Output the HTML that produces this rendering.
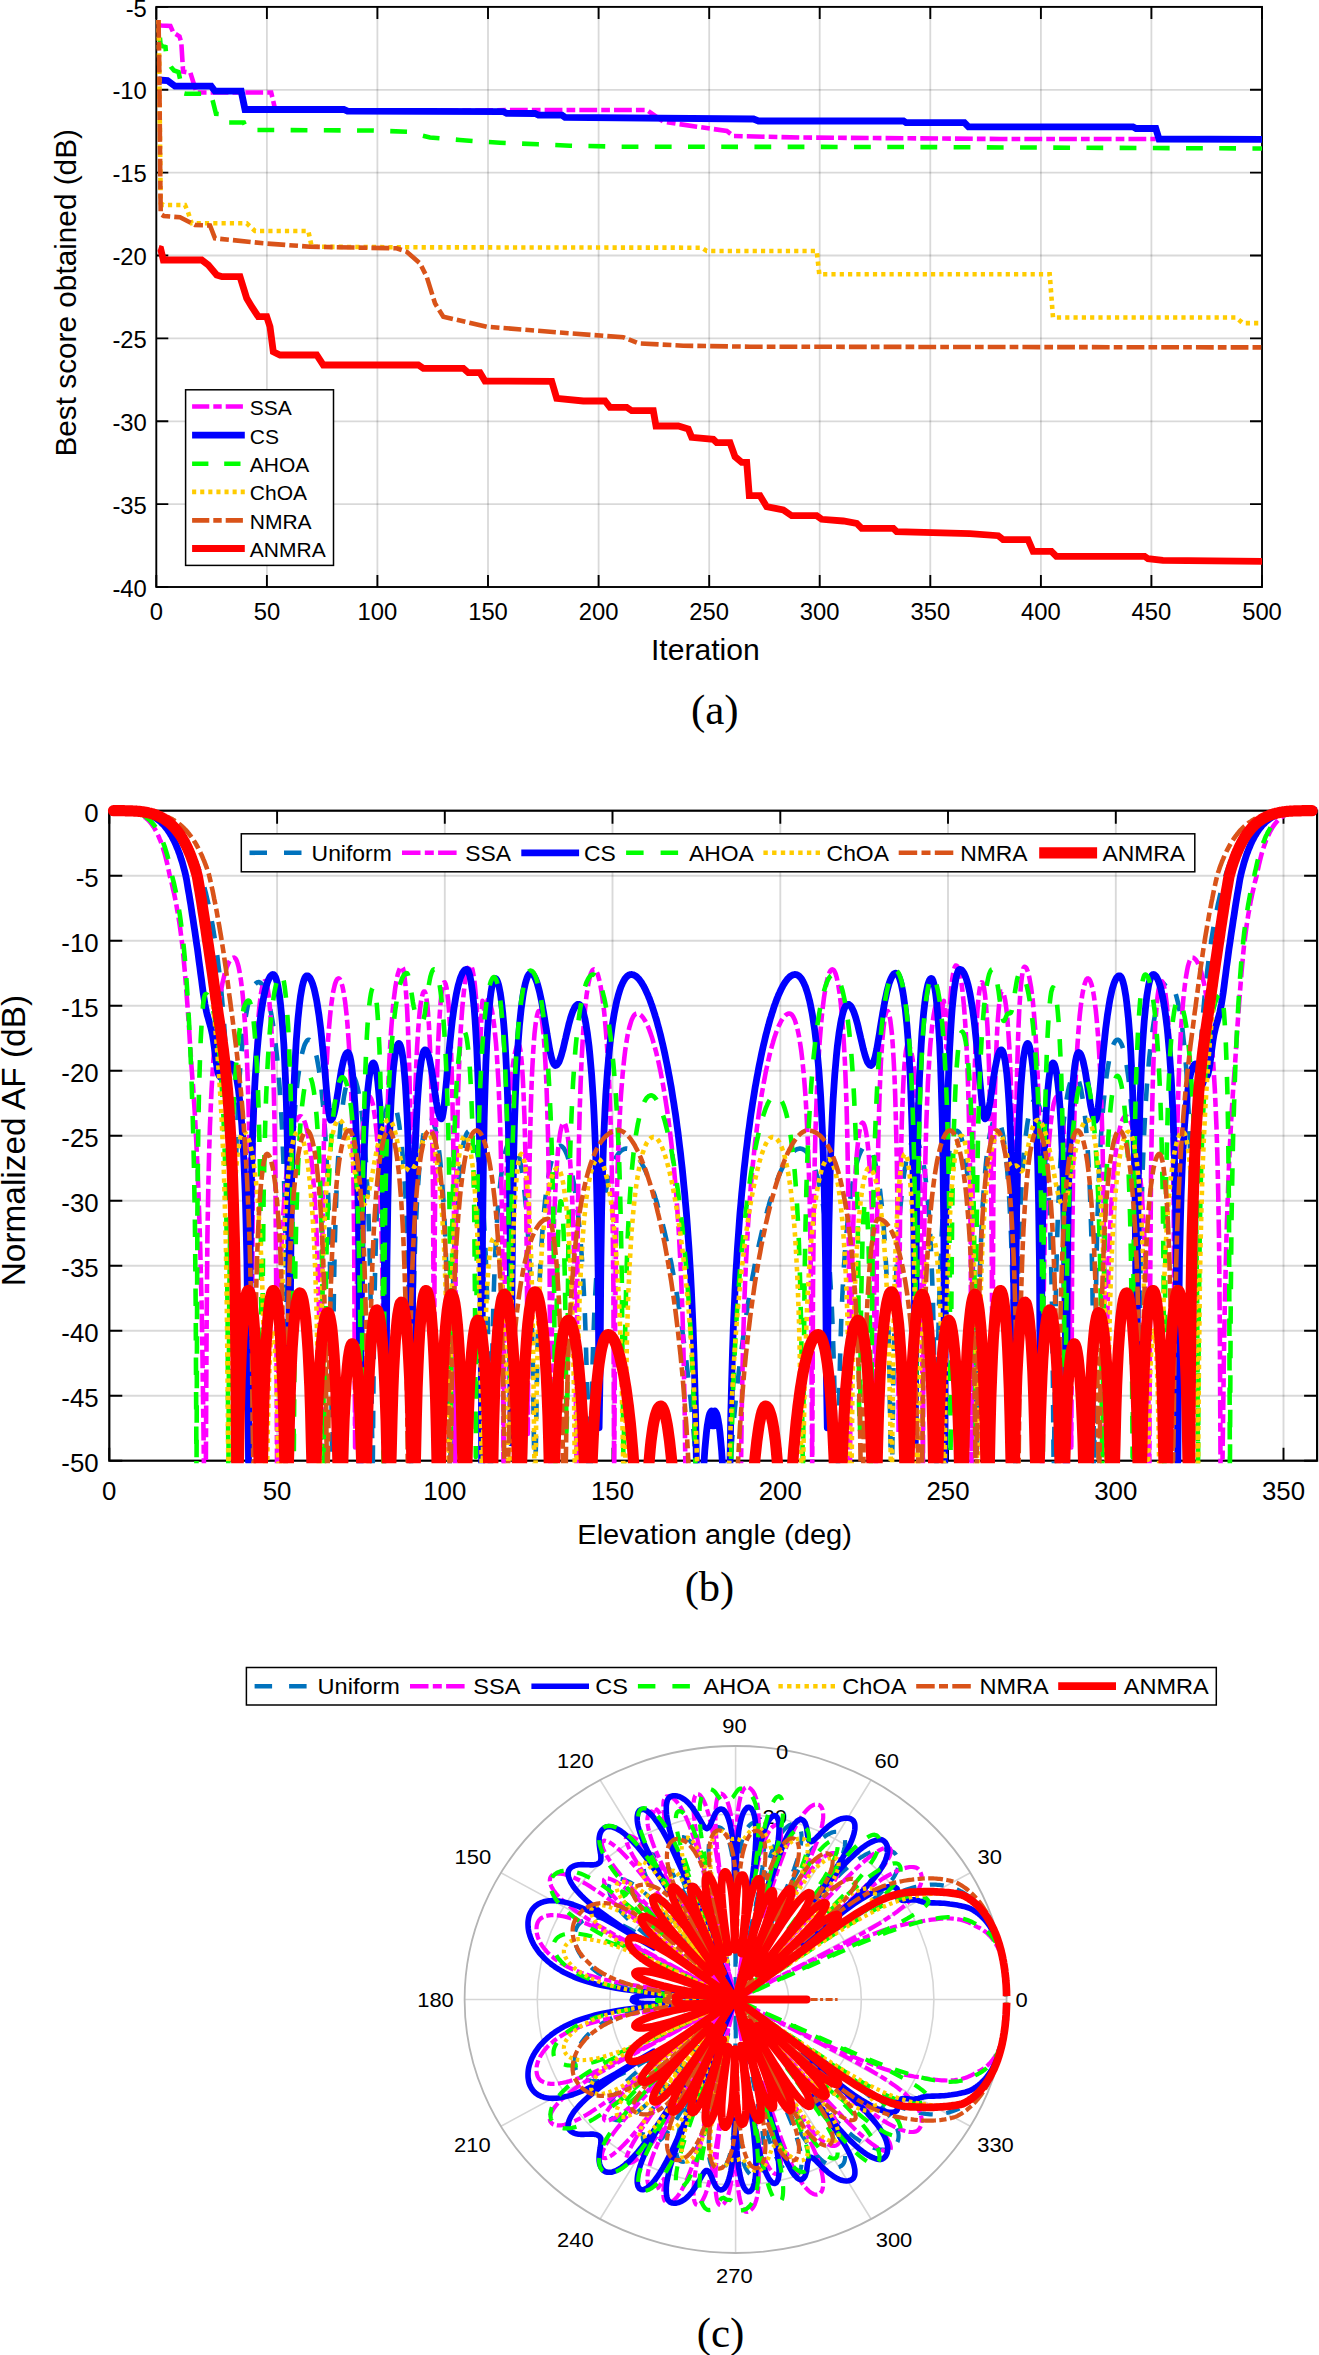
<!DOCTYPE html>
<html lang="en"><head><meta charset="utf-8"><title>Convergence and array factor comparison</title>
<style>html,body{margin:0;padding:0;background:#fff}svg{display:block}text{white-space:pre}</style>
</head><body>
<svg width="1319" height="2355" viewBox="0 0 1319 2355">
<rect width="1319" height="2355" fill="#fff"/>
<g id="panel-a">
<path d="M266.9 6.9V587M377.4 6.9V587M488 6.9V587M598.6 6.9V587M709.2 6.9V587M819.7 6.9V587M930.3 6.9V587M1040.9 6.9V587M1151.4 6.9V587" stroke="#000" stroke-opacity="0.15" stroke-width="1.8" fill="none"/>
<path d="M156.3 89.8H1262M156.3 172.6H1262M156.3 255.5H1262M156.3 338.4H1262M156.3 421.3H1262M156.3 504.1H1262" stroke="#000" stroke-opacity="0.15" stroke-width="1.8" fill="none"/>
<path d="M156.3 587v-12M156.3 6.9v12M266.9 587v-12M266.9 6.9v12M377.4 587v-12M377.4 6.9v12M488 587v-12M488 6.9v12M598.6 587v-12M598.6 6.9v12M709.2 587v-12M709.2 6.9v12M819.7 587v-12M819.7 6.9v12M930.3 587v-12M930.3 6.9v12M1040.9 587v-12M1040.9 6.9v12M1151.4 587v-12M1151.4 6.9v12M1262 587v-12M1262 6.9v12M156.3 6.9h12M1262 6.9h-12M156.3 89.8h12M1262 89.8h-12M156.3 172.6h12M1262 172.6h-12M156.3 255.5h12M1262 255.5h-12M156.3 338.4h12M1262 338.4h-12M156.3 421.3h12M1262 421.3h-12M156.3 504.1h12M1262 504.1h-12M156.3 587h12M1262 587h-12" stroke="#000" stroke-width="1.9" fill="none"/>
<rect x="156.3" y="6.9" width="1105.7" height="580.1" fill="none" stroke="#000" stroke-width="1.9"/>
<g fill="none" stroke-linejoin="miter" stroke-miterlimit="3">
<path d="M158.5 25L161.3 25.5L170.4 26L173.4 32.7L179.5 36.4L181.3 42.5L183.1 71.6L190.4 72.8L193.4 82.5L196.5 92.5L271.2 92.5L275 108.8L300 110.4L470 110.6L520 110L646.8 110L663.5 121.7L696.8 126.7L726.9 131L733.5 136L800 137.5L1000 139L1155.8 139" stroke="#FF00FF" stroke-width="4.6" stroke-dasharray="17.8,4.1,8.7,4.1" stroke-dashoffset="0"/>
<path d="M158.5 80L167.5 80.5L175 86.2L211.2 86.2L215 91.2L241.2 91.2L245 109.5L343.8 109.5L347.5 111.2L503.4 111.7L506.7 113.3L535 113.5L538.4 115L562 115.2L565 117.3L753.5 119L758.5 121L903.5 121L906 122.6L964.4 122.6L968.5 126.8L1133 126.8L1136 128.5L1155.8 128.5L1159 139L1262 139.3" stroke="#0000FF" stroke-width="6.8" stroke-dashoffset="0"/>
<path d="M158.5 22L160.5 44L162 46L165.5 47L166.5 59L171 67L174 70.5L178.5 72L180.5 81L182.5 93L186 93.8L211 93.8L216 113.8L225 114.5L227.5 122.5L243.8 122.5L247 130L258 130L373.8 130.5L407.5 131.8L430 137.5L459.8 140L473 141L500 142.7L538 144.3L570 145.7L620 146.7L900 147L1262 148.5" stroke="#00FF00" stroke-width="4.6" stroke-dasharray="16.8,16.4" stroke-dashoffset="17.5"/>
<path d="M158.5 20L159.2 60L160.2 160L160.7 203L163.5 205L185 205L188 212L191.7 223.3L246.7 223.3L255 231L308.3 231L311.7 246.7L400 247.3L701.7 247.7L706.7 251L816.7 251L819.3 274.3L1049.7 274.2L1053 317.5L1236.1 317.5L1242.8 323.1L1262 323.1" stroke="#FFCC00" stroke-width="4.6" stroke-dasharray="4.2,4.1" stroke-dashoffset="0"/>
<path d="M158.5 20L159.2 60L160.2 170L160.7 214L163.8 216L180 217.3L195 225L210 225.5L215 238.3L263.3 243.3L310 246.7L396.7 248.3L406.7 251.7L420 263.3L426.7 276.7L435 303.3L443.3 316.7L486.7 326.7L569.7 333.3L623.3 337.3L638.3 343.3L683.3 345.7L750 346.7L1262 347.4" stroke="#D95319" stroke-width="4.6" stroke-dasharray="17.8,4.1,8.7,4.1" stroke-dashoffset="0"/>
<path d="M158.5 248.3L160.7 249L163.3 260L201.7 260L208.3 265L216.7 275L222 276.7L240 276.7L246.7 298.3L251.7 306.7L258.3 316.7L266.7 316.7L270 326.7L273.3 351.7L280 355L316.7 355L323.3 365L418.3 365L423.3 368.3L463.3 368.3L468.3 372.7L480 372.7L485 381L551.7 381.3L556.7 398.3L583.3 401L605 401L610 407.3L626.7 407.3L631.7 410.7L653.3 410.7L656 426L678.3 426L688.3 429L691.7 437.3L713.3 439.3L716.7 442.7L730 442.7L735 456.7L741.7 462.3L746.7 462.3L749.3 495.7L760 495.7L766.7 506.7L783.3 510L791.7 515.7L816.7 515.7L821.7 519.3L843.3 521L856.7 523.3L861.7 528.3L893.3 528.3L896.7 531.7L969.9 533.7L998.2 535.7L1003.1 539.7L1028.1 539.7L1033.1 551.3L1051.4 551.3L1056.4 556.3L1144.6 556.3L1148 558.7L1162.9 560.3L1262 561.3" stroke="#FF0000" stroke-width="6.8" stroke-dashoffset="0"/>
</g>
<g font-family='"Liberation Sans", Arial, Helvetica, sans-serif' font-size="23.8" fill="#000">
<text x="156.3" y="619.8" text-anchor="middle">0</text>
<text x="266.9" y="619.8" text-anchor="middle">50</text>
<text x="377.4" y="619.8" text-anchor="middle">100</text>
<text x="488" y="619.8" text-anchor="middle">150</text>
<text x="598.6" y="619.8" text-anchor="middle">200</text>
<text x="709.2" y="619.8" text-anchor="middle">250</text>
<text x="819.7" y="619.8" text-anchor="middle">300</text>
<text x="930.3" y="619.8" text-anchor="middle">350</text>
<text x="1040.9" y="619.8" text-anchor="middle">400</text>
<text x="1151.4" y="619.8" text-anchor="middle">450</text>
<text x="1262" y="619.8" text-anchor="middle">500</text>
<text x="146.8" y="16.5" text-anchor="end">-5</text>
<text x="146.8" y="99.4" text-anchor="end">-10</text>
<text x="146.8" y="182.2" text-anchor="end">-15</text>
<text x="146.8" y="265.1" text-anchor="end">-20</text>
<text x="146.8" y="348" text-anchor="end">-25</text>
<text x="146.8" y="430.9" text-anchor="end">-30</text>
<text x="146.8" y="513.7" text-anchor="end">-35</text>
<text x="146.8" y="596.6" text-anchor="end">-40</text>
</g>
<text x="705.3" y="660" text-anchor="middle" font-family='"Liberation Sans", Arial, Helvetica, sans-serif' font-size="30.1">Iteration</text>
<text transform="translate(76.2 292.8) rotate(-90)" text-anchor="middle" font-family='"Liberation Sans", Arial, Helvetica, sans-serif' font-size="29.75">Best score obtained (dB)</text>
<text x="714.8" y="724.3" text-anchor="middle" font-family='"Liberation Serif", "Times New Roman", serif' font-size="43">(a)</text>
<rect x="185.6" y="389.8" width="147.9" height="175.6" fill="#fff" stroke="#000" stroke-width="1.5"/>
<path d="M192.1 406.5H244.8" stroke="#FF00FF" stroke-width="4.6" fill="none" stroke-dasharray="17.2,4,8.4,4"/>
<text x="249.8" y="414.9" font-family='"Liberation Sans", Arial, Helvetica, sans-serif' font-size="21">SSA</text>
<path d="M192.1 435.2H244.8" stroke="#0000FF" stroke-width="6.8" fill="none"/>
<text x="249.8" y="443.6" font-family='"Liberation Sans", Arial, Helvetica, sans-serif' font-size="21">CS</text>
<path d="M192.1 463.8H244.8" stroke="#00FF00" stroke-width="4.6" fill="none" stroke-dasharray="16.3,15.8"/>
<text x="249.8" y="472.1" font-family='"Liberation Sans", Arial, Helvetica, sans-serif' font-size="21">AHOA</text>
<path d="M192.1 491.9H244.8" stroke="#FFCC00" stroke-width="4.6" fill="none" stroke-dasharray="4.1,4"/>
<text x="249.8" y="500.3" font-family='"Liberation Sans", Arial, Helvetica, sans-serif' font-size="21">ChOA</text>
<path d="M192.1 520.4H244.8" stroke="#D95319" stroke-width="4.6" fill="none" stroke-dasharray="17.2,4,8.4,4"/>
<text x="249.8" y="528.8" font-family='"Liberation Sans", Arial, Helvetica, sans-serif' font-size="21">NMRA</text>
<path d="M192.1 548.5H244.8" stroke="#FF0000" stroke-width="6.8" fill="none"/>
<text x="249.8" y="556.9" font-family='"Liberation Sans", Arial, Helvetica, sans-serif' font-size="21">ANMRA</text>
</g>
<g id="panel-b">
<path d="M277.1 810.7V1460.7M444.8 810.7V1460.7M612.5 810.7V1460.7M780.3 810.7V1460.7M948 810.7V1460.7M1115.8 810.7V1460.7M1283.5 810.7V1460.7" stroke="#000" stroke-opacity="0.15" stroke-width="1.9" fill="none"/>
<path d="M109.3 875.7H1317.1M109.3 940.7H1317.1M109.3 1005.7H1317.1M109.3 1070.7H1317.1M109.3 1135.7H1317.1M109.3 1200.7H1317.1M109.3 1265.7H1317.1M109.3 1330.7H1317.1M109.3 1395.7H1317.1" stroke="#000" stroke-opacity="0.15" stroke-width="1.9" fill="none"/>
<path d="M109.3 1460.7v-13M109.3 810.7v13M277.1 1460.7v-13M277.1 810.7v13M444.8 1460.7v-13M444.8 810.7v13M612.5 1460.7v-13M612.5 810.7v13M780.3 1460.7v-13M780.3 810.7v13M948 1460.7v-13M948 810.7v13M1115.8 1460.7v-13M1115.8 810.7v13M1283.5 1460.7v-13M1283.5 810.7v13M109.3 810.7h13M1317.1 810.7h-13M109.3 875.7h13M1317.1 875.7h-13M109.3 940.7h13M1317.1 940.7h-13M109.3 1005.7h13M1317.1 1005.7h-13M109.3 1070.7h13M1317.1 1070.7h-13M109.3 1135.7h13M1317.1 1135.7h-13M109.3 1200.7h13M1317.1 1200.7h-13M109.3 1265.7h13M1317.1 1265.7h-13M109.3 1330.7h13M1317.1 1330.7h-13M109.3 1395.7h13M1317.1 1395.7h-13M109.3 1460.7h13M1317.1 1460.7h-13" stroke="#000" stroke-width="1.9" fill="none"/>
<rect x="109.3" y="810.7" width="1207.8" height="650" fill="none" stroke="#000" stroke-width="2.2"/>
<clipPath id="clipb"><rect x="102.3" y="803.7" width="1216.3" height="659.5"/></clipPath>
<g fill="none" stroke-linejoin="round" clip-path="url(#clipb)">
<path d="M109.3 810.7L110.1 810.7L111 810.7L111.8 810.7L112.7 810.7L113.5 810.7L114.3 810.7L115.2 810.7L116 810.7L116.8 810.7L117.7 810.7L118.5 810.7L119.4 810.7L120.2 810.7L121 810.7L121.9 810.7L122.7 810.7L123.6 810.7L124.4 810.7L125.2 810.8L126.1 810.8L126.9 810.8L127.8 810.8L128.6 810.8L129.4 810.8L130.3 810.9L131.1 810.9L131.9 810.9L132.8 811L133.6 811L134.5 811L135.3 811.1L136.1 811.1L137 811.2L137.8 811.3L138.7 811.3L139.5 811.4L140.3 811.5L141.2 811.6L142 811.7L142.8 811.8L143.7 811.9L144.5 812L145.4 812.1L146.2 812.3L147 812.4L147.9 812.6L148.7 812.7L149.6 812.9L150.4 813.1L151.2 813.3L152.1 813.5L152.9 813.8L153.8 814L154.6 814.3L155.4 814.5L156.3 814.8L157.1 815.1L157.9 815.4L158.8 815.8L159.6 816.1L160.5 816.5L161.3 816.9L162.1 817.3L163 817.7L163.8 818.2L164.7 818.7L165.5 819.2L166.3 819.7L167.2 820.2L168 820.8L168.9 821.4L169.7 822L170.5 822.7L171.4 823.4L172.2 824.1L173 824.8L173.9 825.6L174.7 826.4L175.6 827.2L176.4 828.1L177.2 829L178.1 829.9L178.9 830.9L179.8 831.9L180.6 833L181.4 834.1L182.3 835.2L183.1 836.4L183.9 837.7L184.8 839L185.6 840.3L186.5 841.7L187.3 843.1L188.1 844.6L189 846.1L189.8 847.7L190.7 849.4L191.5 851.1L192.3 852.9L193.2 854.8L194 856.7L194.9 858.7L195.7 860.8L196.5 862.9L197.4 865.2L198.2 867.5L199 869.9L199.9 872.4L200.7 875L201.6 877.7L202.4 880.5L203.2 883.4L204.1 886.4L204.9 889.6L205.8 892.9L206.6 896.3L207.4 899.8L208.3 903.5L209.1 907.4L209.9 911.4L210.8 915.6L211.6 920L212.5 924.6L213.3 929.5L214.1 934.5L215 939.9L215.8 945.5L216.7 951.4L217.5 957.6L218.3 964.2L219.2 971.2L220 978.7L220.9 986.7L221.7 995.3L222.5 1004.5L223.4 1014.5L224.2 1025.4L225 1037.4L225.9 1050.6L226.7 1065.6L227.6 1082.5L228.4 1102.3L229.2 1125.9L230.1 1155.4L230.9 1194.6L231.8 1254L232.6 1382.3L233.4 1374.2L234.3 1254.3L235.1 1198.5L236 1162.1L236.8 1135.2L237.6 1114.1L238.5 1096.8L239.3 1082.2L240.1 1069.7L241 1058.9L241.8 1049.3L242.7 1040.9L243.5 1033.4L244.3 1026.7L245.2 1020.7L246 1015.3L246.9 1010.4L247.7 1006.1L248.5 1002.2L249.4 998.7L250.2 995.6L251 992.9L251.9 990.5L252.7 988.5L253.6 986.7L254.4 985.3L255.2 984.1L256.1 983.2L256.9 982.6L257.8 982.2L258.6 982.1L259.4 982.3L260.3 982.7L261.1 983.4L262 984.4L262.8 985.6L263.6 987L264.5 988.8L265.3 990.8L266.1 993.1L267 995.7L267.8 998.6L268.7 1001.9L269.5 1005.4L270.3 1009.4L271.2 1013.7L272 1018.4L272.9 1023.5L273.7 1029.2L274.5 1035.3L275.4 1042L276.2 1049.4L277.1 1057.5L277.9 1066.4L278.7 1076.2L279.6 1087.2L280.4 1099.6L281.2 1113.6L282.1 1129.8L282.9 1148.7L283.8 1171.5L284.6 1200.1L285.4 1238.2L286.3 1295.9L287.1 1417.6L288 1427.6L288.8 1301.2L289.6 1243.9L290.5 1206.8L291.3 1179.4L292.1 1158L293 1140.5L293.8 1125.9L294.7 1113.4L295.5 1102.6L296.3 1093.2L297.2 1085L298 1077.8L298.9 1071.4L299.7 1065.8L300.5 1060.8L301.4 1056.5L302.2 1052.8L303.1 1049.6L303.9 1046.8L304.7 1044.6L305.6 1042.8L306.4 1041.4L307.2 1040.4L308.1 1039.8L308.9 1039.7L309.8 1039.9L310.6 1040.5L311.4 1041.5L312.3 1042.9L313.1 1044.7L314 1046.9L314.8 1049.6L315.6 1052.7L316.5 1056.3L317.3 1060.3L318.1 1064.9L319 1070.1L319.8 1075.9L320.7 1082.4L321.5 1089.6L322.3 1097.7L323.2 1106.7L324 1117L324.9 1128.5L325.7 1141.7L326.5 1157L327.4 1175L328.2 1196.7L329.1 1223.8L329.9 1259.6L330.7 1312.4L331.6 1414.3L332.4 1476.3L333.2 1342.5L334.1 1279.4L334.9 1239.8L335.8 1211.2L336.6 1188.9L337.4 1170.9L338.3 1155.9L339.1 1143.2L340 1132.3L340.8 1122.9L341.6 1114.7L342.5 1107.6L343.3 1101.4L344.1 1096L345 1091.3L345.8 1087.4L346.7 1084L347.5 1081.2L348.3 1079L349.2 1077.4L350 1076.2L350.9 1075.5L351.7 1075.3L352.5 1075.6L353.4 1076.3L354.2 1077.6L355.1 1079.3L355.9 1081.5L356.7 1084.3L357.6 1087.6L358.4 1091.5L359.2 1095.9L360.1 1101.1L360.9 1106.9L361.8 1113.5L362.6 1121L363.4 1129.5L364.3 1139.1L365.1 1150.1L366 1162.7L366.8 1177.3L367.6 1194.5L368.5 1215.3L369.3 1241.1L370.2 1274.9L371 1323.7L371.8 1411.6L372.7 1476.3L373.5 1379L374.3 1309L375.2 1266.8L376 1236.7L376.9 1213.6L377.7 1195L378.5 1179.5L379.4 1166.5L380.2 1155.4L381.1 1145.9L381.9 1137.6L382.7 1130.4L383.6 1124.3L384.4 1118.9L385.2 1114.3L386.1 1110.5L386.9 1107.3L387.8 1104.7L388.6 1102.7L389.4 1101.3L390.3 1100.4L391.1 1100L392 1100.2L392.8 1100.9L393.6 1102.1L394.5 1103.9L395.3 1106.2L396.2 1109L397 1112.5L397.8 1116.5L398.7 1121.3L399.5 1126.8L400.3 1133L401.2 1140.1L402 1148.3L402.9 1157.5L403.7 1168.1L404.5 1180.2L405.4 1194.4L406.2 1211L407.1 1231L407.9 1255.8L408.7 1288.1L409.6 1333.8L410.4 1412.2L411.2 1476.3L412.1 1413L412.9 1335.3L413.8 1290.4L414.6 1258.9L415.4 1234.9L416.3 1215.7L417.1 1199.8L418 1186.4L418.8 1175L419.6 1165.2L420.5 1156.8L421.3 1149.4L422.2 1143.1L423 1137.6L423.8 1132.9L424.7 1128.9L425.5 1125.6L426.3 1123L427.2 1120.9L428 1119.4L428.9 1118.4L429.7 1118L430.5 1118.1L431.4 1118.7L432.2 1119.8L433.1 1121.5L433.9 1123.7L434.7 1126.5L435.6 1129.8L436.4 1133.8L437.3 1138.4L438.1 1143.8L438.9 1149.9L439.8 1156.9L440.6 1164.9L441.4 1173.9L442.3 1184.3L443.1 1196.2L444 1209.9L444.8 1226.1L445.6 1245.5L446.5 1269.5L447.3 1300.3L448.2 1343.4L449 1414.2L449.8 1476.3L450.7 1448.4L451.5 1361.3L452.3 1313.3L453.2 1280.2L454 1255.2L454.9 1235.3L455.7 1218.9L456.5 1205.1L457.4 1193.3L458.2 1183.1L459.1 1174.3L459.9 1166.6L460.7 1159.9L461.6 1154.1L462.4 1149.1L463.3 1144.8L464.1 1141.1L464.9 1138.1L465.8 1135.6L466.6 1133.7L467.4 1132.3L468.3 1131.4L469.1 1130.9L470 1131L470.8 1131.6L471.6 1132.6L472.5 1134.1L473.3 1136.1L474.2 1138.6L475 1141.7L475.8 1145.3L476.7 1149.5L477.5 1154.3L478.4 1159.8L479.2 1166L480 1173.1L480.9 1181.1L481.7 1190.1L482.5 1200.4L483.4 1212.1L484.2 1225.7L485.1 1241.6L485.9 1260.4L486.7 1283.5L487.6 1313.1L488.4 1353.5L489.3 1417.5L490.1 1476.3L490.9 1476.3L491.8 1390.1L492.6 1338.1L493.4 1303.2L494.3 1277L495.1 1256.2L496 1239.1L496.8 1224.7L497.6 1212.4L498.5 1201.7L499.3 1192.4L500.2 1184.2L501 1177.1L501.8 1170.7L502.7 1165.2L503.5 1160.3L504.4 1156.1L505.2 1152.4L506 1149.2L506.9 1146.6L507.7 1144.4L508.5 1142.7L509.4 1141.4L510.2 1140.5L511.1 1140.1L511.9 1140L512.7 1140.4L513.6 1141.1L514.4 1142.2L515.3 1143.8L516.1 1145.7L516.9 1148L517.8 1150.8L518.6 1154L519.4 1157.7L520.3 1161.9L521.1 1166.7L522 1172L522.8 1177.9L523.6 1184.5L524.5 1191.9L525.3 1200.1L526.2 1209.4L527 1219.8L527.8 1231.6L528.7 1245.1L529.5 1260.7L530.4 1279.2L531.2 1301.7L532 1330.1L532.9 1368.3L533.7 1426.6L534.5 1476.3L535.4 1476.3L536.2 1424.4L537.1 1367.8L537.9 1330.7L538.7 1303.2L539.6 1281.5L540.4 1263.7L541.3 1248.6L542.1 1235.7L542.9 1224.4L543.8 1214.5L544.6 1205.8L545.4 1198L546.3 1191L547.1 1184.8L548 1179.2L548.8 1174.1L549.6 1169.7L550.5 1165.7L551.3 1162.1L552.2 1158.9L553 1156.2L553.8 1153.8L554.7 1151.7L555.5 1150L556.4 1148.6L557.2 1147.5L558 1146.6L558.9 1146.1L559.7 1145.8L560.5 1145.8L561.4 1146.1L562.2 1146.7L563.1 1147.5L563.9 1148.5L564.7 1149.9L565.6 1151.5L566.4 1153.4L567.3 1155.5L568.1 1158L568.9 1160.7L569.8 1163.8L570.6 1167.1L571.5 1170.8L572.3 1174.9L573.1 1179.3L574 1184.1L574.8 1189.3L575.6 1195L576.5 1201.2L577.3 1208L578.2 1215.3L579 1223.4L579.8 1232.3L580.7 1242.1L581.5 1253.1L582.4 1265.3L583.2 1279.2L584 1295.2L584.9 1314L585.7 1336.6L586.5 1364.9L587.4 1402.8L588.2 1460.1L589.1 1476.3L589.9 1476.3L590.7 1464.3L591.6 1406.5L592.4 1368.8L593.3 1340.9L594.1 1318.8L594.9 1300.6L595.8 1285.2L596.6 1271.8L597.5 1260.2L598.3 1249.8L599.1 1240.5L600 1232.2L600.8 1224.6L601.6 1217.7L602.5 1211.4L603.3 1205.6L604.2 1200.3L605 1195.4L605.8 1190.9L606.7 1186.7L607.5 1182.8L608.4 1179.3L609.2 1176L610 1173L610.9 1170.2L611.7 1167.6L612.5 1165.2L613.4 1163.1L614.2 1161.1L615.1 1159.3L615.9 1157.6L616.7 1156.2L617.6 1154.8L618.4 1153.6L619.3 1152.6L620.1 1151.7L620.9 1150.9L621.8 1150.2L622.6 1149.7L623.5 1149.3L624.3 1148.9L625.1 1148.7L626 1148.6L626.8 1148.6L627.6 1148.7L628.5 1148.9L629.3 1149.2L630.2 1149.6L631 1150.1L631.8 1150.6L632.7 1151.3L633.5 1152L634.4 1152.8L635.2 1153.7L636 1154.7L636.9 1155.8L637.7 1156.9L638.6 1158.1L639.4 1159.4L640.2 1160.8L641.1 1162.2L641.9 1163.7L642.7 1165.3L643.6 1167L644.4 1168.7L645.3 1170.5L646.1 1172.4L646.9 1174.3L647.8 1176.3L648.6 1178.4L649.5 1180.6L650.3 1182.8L651.1 1185.1L652 1187.5L652.8 1189.9L653.6 1192.4L654.5 1195L655.3 1197.7L656.2 1200.4L657 1203.2L657.8 1206.1L658.7 1209L659.5 1212.1L660.4 1215.2L661.2 1218.3L662 1221.6L662.9 1224.9L663.7 1228.4L664.6 1231.9L665.4 1235.5L666.2 1239.1L667.1 1242.9L667.9 1246.8L668.7 1250.7L669.6 1254.7L670.4 1258.9L671.3 1263.1L672.1 1267.5L672.9 1271.9L673.8 1276.5L674.6 1281.1L675.5 1285.9L676.3 1290.9L677.1 1295.9L678 1301.1L678.8 1306.4L679.6 1311.8L680.5 1317.4L681.3 1323.2L682.2 1329.1L683 1335.2L683.8 1341.5L684.7 1347.9L685.5 1354.6L686.4 1361.5L687.2 1368.6L688 1375.9L688.9 1383.5L689.7 1391.4L690.6 1399.6L691.4 1408.1L692.2 1416.9L693.1 1426.1L693.9 1435.7L694.7 1445.7L695.6 1456.1L696.4 1467.1L697.3 1476.3L729.1 1476.3L730 1467.1L730.8 1456.1L731.7 1445.7L732.5 1435.7L733.3 1426.1L734.2 1416.9L735 1408.1L735.8 1399.6L736.7 1391.4L737.5 1383.5L738.4 1375.9L739.2 1368.6L740 1361.5L740.9 1354.6L741.7 1347.9L742.6 1341.5L743.4 1335.2L744.2 1329.1L745.1 1323.2L745.9 1317.4L746.8 1311.8L747.6 1306.4L748.4 1301.1L749.3 1295.9L750.1 1290.9L750.9 1285.9L751.8 1281.1L752.6 1276.5L753.5 1271.9L754.3 1267.5L755.1 1263.1L756 1258.9L756.8 1254.7L757.7 1250.7L758.5 1246.8L759.3 1242.9L760.2 1239.1L761 1235.5L761.8 1231.9L762.7 1228.4L763.5 1224.9L764.4 1221.6L765.2 1218.3L766 1215.2L766.9 1212.1L767.7 1209L768.6 1206.1L769.4 1203.2L770.2 1200.4L771.1 1197.7L771.9 1195L772.8 1192.4L773.6 1189.9L774.4 1187.5L775.3 1185.1L776.1 1182.8L776.9 1180.6L777.8 1178.4L778.6 1176.3L779.5 1174.3L780.3 1172.4L781.1 1170.5L782 1168.7L782.8 1167L783.7 1165.3L784.5 1163.7L785.3 1162.2L786.2 1160.8L787 1159.4L787.8 1158.1L788.7 1156.9L789.5 1155.8L790.4 1154.7L791.2 1153.7L792 1152.8L792.9 1152L793.7 1151.3L794.6 1150.6L795.4 1150.1L796.2 1149.6L797.1 1149.2L797.9 1148.9L798.8 1148.7L799.6 1148.6L800.4 1148.6L801.3 1148.7L802.1 1148.9L802.9 1149.3L803.8 1149.7L804.6 1150.2L805.5 1150.9L806.3 1151.7L807.1 1152.6L808 1153.6L808.8 1154.8L809.7 1156.2L810.5 1157.6L811.3 1159.3L812.2 1161.1L813 1163.1L813.8 1165.2L814.7 1167.6L815.5 1170.2L816.4 1173L817.2 1176L818 1179.3L818.9 1182.8L819.7 1186.7L820.6 1190.9L821.4 1195.4L822.2 1200.3L823.1 1205.6L823.9 1211.4L824.8 1217.7L825.6 1224.6L826.4 1232.2L827.3 1240.5L828.1 1249.8L828.9 1260.2L829.8 1271.8L830.6 1285.2L831.5 1300.6L832.3 1318.8L833.1 1340.9L834 1368.8L834.8 1406.5L835.7 1464.3L836.5 1476.3L837.3 1476.3L838.2 1460.1L839 1402.8L839.9 1364.9L840.7 1336.6L841.5 1314L842.4 1295.2L843.2 1279.2L844 1265.3L844.9 1253.1L845.7 1242.1L846.6 1232.3L847.4 1223.4L848.2 1215.3L849.1 1208L849.9 1201.2L850.8 1195L851.6 1189.3L852.4 1184.1L853.3 1179.3L854.1 1174.9L854.9 1170.8L855.8 1167.1L856.6 1163.8L857.5 1160.7L858.3 1158L859.1 1155.5L860 1153.4L860.8 1151.5L861.7 1149.9L862.5 1148.5L863.3 1147.5L864.2 1146.7L865 1146.1L865.9 1145.8L866.7 1145.8L867.5 1146.1L868.4 1146.6L869.2 1147.5L870 1148.6L870.9 1150L871.7 1151.7L872.6 1153.8L873.4 1156.2L874.2 1158.9L875.1 1162.1L875.9 1165.7L876.8 1169.7L877.6 1174.1L878.4 1179.2L879.3 1184.8L880.1 1191L880.9 1198L881.8 1205.8L882.6 1214.5L883.5 1224.4L884.3 1235.7L885.1 1248.6L886 1263.7L886.8 1281.5L887.7 1303.2L888.5 1330.7L889.3 1367.8L890.2 1424.4L891 1476.3L891.9 1476.3L892.7 1426.6L893.5 1368.3L894.4 1330.1L895.2 1301.7L896 1279.2L896.9 1260.7L897.7 1245.1L898.6 1231.6L899.4 1219.8L900.2 1209.4L901.1 1200.1L901.9 1191.9L902.8 1184.5L903.6 1177.9L904.4 1172L905.3 1166.7L906.1 1161.9L907 1157.7L907.8 1154L908.6 1150.8L909.5 1148L910.3 1145.7L911.1 1143.8L912 1142.2L912.8 1141.1L913.7 1140.4L914.5 1140L915.3 1140.1L916.2 1140.5L917 1141.4L917.9 1142.7L918.7 1144.4L919.5 1146.6L920.4 1149.2L921.2 1152.4L922 1156.1L922.9 1160.3L923.7 1165.2L924.6 1170.7L925.4 1177.1L926.2 1184.2L927.1 1192.4L927.9 1201.7L928.8 1212.4L929.6 1224.7L930.4 1239.1L931.3 1256.2L932.1 1277L933 1303.2L933.8 1338.1L934.6 1390.1L935.5 1476.3L936.3 1476.3L937.1 1417.5L938 1353.5L938.8 1313.1L939.7 1283.5L940.5 1260.4L941.3 1241.6L942.2 1225.7L943 1212.1L943.9 1200.4L944.7 1190.1L945.5 1181.1L946.4 1173.1L947.2 1166L948 1159.8L948.9 1154.3L949.7 1149.5L950.6 1145.3L951.4 1141.7L952.2 1138.6L953.1 1136.1L953.9 1134.1L954.8 1132.6L955.6 1131.6L956.4 1131L957.3 1130.9L958.1 1131.4L959 1132.3L959.8 1133.7L960.6 1135.6L961.5 1138.1L962.3 1141.1L963.1 1144.8L964 1149.1L964.8 1154.1L965.7 1159.9L966.5 1166.6L967.3 1174.3L968.2 1183.1L969 1193.3L969.9 1205.1L970.7 1218.9L971.5 1235.3L972.4 1255.2L973.2 1280.2L974.1 1313.3L974.9 1361.3L975.7 1448.4L976.6 1476.3L977.4 1414.2L978.2 1343.4L979.1 1300.3L979.9 1269.5L980.8 1245.5L981.6 1226.1L982.4 1209.9L983.3 1196.2L984.1 1184.3L985 1173.9L985.8 1164.9L986.6 1156.9L987.5 1149.9L988.3 1143.8L989.1 1138.4L990 1133.8L990.8 1129.8L991.7 1126.5L992.5 1123.7L993.3 1121.5L994.2 1119.8L995 1118.7L995.9 1118.1L996.7 1118L997.5 1118.4L998.4 1119.4L999.2 1120.9L1000.1 1123L1000.9 1125.6L1001.7 1128.9L1002.6 1132.9L1003.4 1137.6L1004.2 1143.1L1005.1 1149.4L1005.9 1156.8L1006.8 1165.2L1007.6 1175L1008.4 1186.4L1009.3 1199.8L1010.1 1215.7L1011 1234.9L1011.8 1258.9L1012.6 1290.4L1013.5 1335.3L1014.3 1413L1015.1 1476.3L1016 1412.2L1016.8 1333.8L1017.7 1288.1L1018.5 1255.8L1019.3 1231L1020.2 1211L1021 1194.4L1021.9 1180.2L1022.7 1168.1L1023.5 1157.5L1024.4 1148.3L1025.2 1140.1L1026.1 1133L1026.9 1126.8L1027.7 1121.3L1028.6 1116.5L1029.4 1112.5L1030.2 1109L1031.1 1106.2L1031.9 1103.9L1032.8 1102.1L1033.6 1100.9L1034.4 1100.2L1035.3 1100L1036.1 1100.4L1037 1101.3L1037.8 1102.7L1038.6 1104.7L1039.5 1107.3L1040.3 1110.5L1041.2 1114.3L1042 1118.9L1042.8 1124.3L1043.7 1130.4L1044.5 1137.6L1045.3 1145.9L1046.2 1155.4L1047 1166.5L1047.9 1179.5L1048.7 1195L1049.5 1213.6L1050.4 1236.7L1051.2 1266.8L1052.1 1309L1052.9 1379L1053.7 1476.3L1054.6 1411.6L1055.4 1323.7L1056.2 1274.9L1057.1 1241.1L1057.9 1215.3L1058.8 1194.5L1059.6 1177.3L1060.4 1162.7L1061.3 1150.1L1062.1 1139.1L1063 1129.5L1063.8 1121L1064.6 1113.5L1065.5 1106.9L1066.3 1101.1L1067.2 1095.9L1068 1091.5L1068.8 1087.6L1069.7 1084.3L1070.5 1081.5L1071.3 1079.3L1072.2 1077.6L1073 1076.3L1073.9 1075.6L1074.7 1075.3L1075.5 1075.5L1076.4 1076.2L1077.2 1077.4L1078.1 1079L1078.9 1081.2L1079.7 1084L1080.6 1087.4L1081.4 1091.3L1082.2 1096L1083.1 1101.4L1083.9 1107.6L1084.8 1114.7L1085.6 1122.9L1086.4 1132.3L1087.3 1143.2L1088.1 1155.9L1089 1170.9L1089.8 1188.9L1090.6 1211.2L1091.5 1239.8L1092.3 1279.4L1093.2 1342.5L1094 1476.3L1094.8 1414.3L1095.7 1312.4L1096.5 1259.6L1097.3 1223.8L1098.2 1196.7L1099 1175L1099.9 1157L1100.7 1141.7L1101.5 1128.5L1102.4 1117L1103.2 1106.7L1104.1 1097.7L1104.9 1089.6L1105.7 1082.4L1106.6 1075.9L1107.4 1070.1L1108.3 1064.9L1109.1 1060.3L1109.9 1056.3L1110.8 1052.7L1111.6 1049.6L1112.4 1046.9L1113.3 1044.7L1114.1 1042.9L1115 1041.5L1115.8 1040.5L1116.6 1039.9L1117.5 1039.7L1118.3 1039.8L1119.2 1040.4L1120 1041.4L1120.8 1042.8L1121.7 1044.6L1122.5 1046.8L1123.3 1049.6L1124.2 1052.8L1125 1056.5L1125.9 1060.8L1126.7 1065.8L1127.5 1071.4L1128.4 1077.8L1129.2 1085L1130.1 1093.2L1130.9 1102.6L1131.7 1113.4L1132.6 1125.9L1133.4 1140.5L1134.3 1158L1135.1 1179.4L1135.9 1206.8L1136.8 1243.9L1137.6 1301.2L1138.4 1427.6L1139.3 1417.6L1140.1 1295.9L1141 1238.2L1141.8 1200.1L1142.6 1171.5L1143.5 1148.7L1144.3 1129.8L1145.2 1113.6L1146 1099.6L1146.8 1087.2L1147.7 1076.2L1148.5 1066.4L1149.3 1057.5L1150.2 1049.4L1151 1042L1151.9 1035.3L1152.7 1029.2L1153.5 1023.5L1154.4 1018.4L1155.2 1013.7L1156.1 1009.4L1156.9 1005.4L1157.7 1001.9L1158.6 998.6L1159.4 995.7L1160.3 993.1L1161.1 990.8L1161.9 988.8L1162.8 987L1163.6 985.6L1164.4 984.4L1165.3 983.4L1166.1 982.7L1167 982.3L1167.8 982.1L1168.6 982.2L1169.5 982.6L1170.3 983.2L1171.2 984.1L1172 985.3L1172.8 986.7L1173.7 988.5L1174.5 990.5L1175.4 992.9L1176.2 995.6L1177 998.7L1177.9 1002.2L1178.7 1006.1L1179.5 1010.4L1180.4 1015.3L1181.2 1020.7L1182.1 1026.7L1182.9 1033.4L1183.7 1040.9L1184.6 1049.3L1185.4 1058.9L1186.3 1069.7L1187.1 1082.2L1187.9 1096.8L1188.8 1114.1L1189.6 1135.2L1190.4 1162.1L1191.3 1198.5L1192.1 1254.3L1193 1374.2L1193.8 1382.3L1194.6 1254L1195.5 1194.6L1196.3 1155.4L1197.2 1125.9L1198 1102.3L1198.8 1082.5L1199.7 1065.6L1200.5 1050.6L1201.4 1037.4L1202.2 1025.4L1203 1014.5L1203.9 1004.5L1204.7 995.3L1205.5 986.7L1206.4 978.7L1207.2 971.2L1208.1 964.2L1208.9 957.6L1209.7 951.4L1210.6 945.5L1211.4 939.9L1212.3 934.5L1213.1 929.5L1213.9 924.6L1214.8 920L1215.6 915.6L1216.5 911.4L1217.3 907.4L1218.1 903.5L1219 899.8L1219.8 896.3L1220.6 892.9L1221.5 889.6L1222.3 886.4L1223.2 883.4L1224 880.5L1224.8 877.7L1225.7 875L1226.5 872.4L1227.4 869.9L1228.2 867.5L1229 865.2L1229.9 862.9L1230.7 860.8L1231.5 858.7L1232.4 856.7L1233.2 854.8L1234.1 852.9L1234.9 851.1L1235.7 849.4L1236.6 847.7L1237.4 846.1L1238.3 844.6L1239.1 843.1L1239.9 841.7L1240.8 840.3L1241.6 839L1242.5 837.7L1243.3 836.4L1244.1 835.2L1245 834.1L1245.8 833L1246.6 831.9L1247.5 830.9L1248.3 829.9L1249.2 829L1250 828.1L1250.8 827.2L1251.7 826.4L1252.5 825.6L1253.4 824.8L1254.2 824.1L1255 823.4L1255.9 822.7L1256.7 822L1257.5 821.4L1258.4 820.8L1259.2 820.2L1260.1 819.7L1260.9 819.2L1261.7 818.7L1262.6 818.2L1263.4 817.7L1264.3 817.3L1265.1 816.9L1265.9 816.5L1266.8 816.1L1267.6 815.8L1268.5 815.4L1269.3 815.1L1270.1 814.8L1271 814.5L1271.8 814.3L1272.6 814L1273.5 813.8L1274.3 813.5L1275.2 813.3L1276 813.1L1276.8 812.9L1277.7 812.7L1278.5 812.6L1279.4 812.4L1280.2 812.3L1281 812.1L1281.9 812L1282.7 811.9L1283.5 811.8L1284.4 811.7L1285.2 811.6L1286.1 811.5L1286.9 811.4L1287.7 811.3L1288.6 811.3L1289.4 811.2L1290.3 811.1L1291.1 811.1L1291.9 811L1292.8 811L1293.6 811L1294.5 810.9L1295.3 810.9L1296.1 810.9L1297 810.8L1297.8 810.8L1298.6 810.8L1299.5 810.8L1300.3 810.8L1301.2 810.8L1302 810.7L1302.8 810.7L1303.7 810.7L1304.5 810.7L1305.4 810.7L1306.2 810.7L1307 810.7L1307.9 810.7L1308.7 810.7L1309.6 810.7L1310.4 810.7L1311.2 810.7L1312.1 810.7L1312.9 810.7L1313.7 810.7L1314.6 810.7L1315.4 810.7L1316.3 810.7L1317.1 810.7" stroke="#0072BD" stroke-width="4.6" stroke-dasharray="17.5,17"/>
<path d="M109.3 810.7L110.1 810.7L111 810.7L111.8 810.7L112.7 810.7L113.5 810.7L114.3 810.7L115.2 810.7L116 810.7L116.8 810.7L117.7 810.7L118.5 810.7L119.4 810.7L120.2 810.8L121 810.8L121.9 810.8L122.7 810.8L123.6 810.9L124.4 810.9L125.2 811L126.1 811L126.9 811.1L127.8 811.2L128.6 811.3L129.4 811.4L130.3 811.5L131.1 811.6L131.9 811.8L132.8 811.9L133.6 812.1L134.5 812.3L135.3 812.5L136.1 812.8L137 813.1L137.8 813.4L138.7 813.7L139.5 814.1L140.3 814.5L141.2 814.9L142 815.4L142.8 815.9L143.7 816.4L144.5 817L145.4 817.6L146.2 818.3L147 819.1L147.9 819.9L148.7 820.7L149.6 821.6L150.4 822.6L151.2 823.6L152.1 824.7L152.9 825.9L153.8 827.2L154.6 828.6L155.4 830L156.3 831.5L157.1 833.2L157.9 834.9L158.8 836.8L159.6 838.8L160.5 840.9L161.3 843.1L162.1 845.5L163 848L163.8 850.8L164.7 853.6L165.5 856.7L166.3 860L167.2 863.6L168 867.3L168.9 871.4L169.7 875.7L170.5 878.7L171.4 881.9L172.2 885.3L173 888.9L173.9 892.6L174.7 896.5L175.6 900.7L176.4 905.1L177.2 909.8L178.1 914.7L178.9 920L179.8 925.6L180.6 931.6L181.4 938L182.3 945L183.1 952.9L183.9 961.7L184.8 971.3L185.6 981.6L186.5 992.5L187.3 1003.5L188.1 1014.8L189 1027.3L189.8 1040.6L190.7 1053.9L191.5 1066.3L192.3 1077.1L193.2 1088.5L194 1101L194.9 1114.7L195.7 1129.8L196.5 1146.4L197.4 1165L198.2 1185.7L199 1209.2L199.9 1236.2L200.7 1267.6L201.6 1305L202.4 1350.9L203.2 1410.1L204.1 1476.3L205.8 1476.3L206.6 1328.7L207.4 1237.2L208.3 1187.5L209.1 1153.3L209.9 1127.3L210.8 1106.4L211.6 1088.9L212.5 1074L213.3 1061.1L214.1 1049.7L215 1039.6L215.8 1030.6L216.7 1022.4L217.5 1015L218.3 1008.3L219.2 1002.3L220 996.7L220.9 991.7L221.7 987.1L222.5 982.9L223.4 979.2L224.2 975.7L225 972.6L225.9 969.9L226.7 967.4L227.6 965.3L228.4 963.4L229.2 961.8L230.1 960.5L230.9 959.4L231.8 958.6L232.6 958L233.4 957.7L234.3 957.6L235.1 958.1L236 959.2L236.8 960.9L237.6 963.4L238.5 966.5L239.3 970.5L240.1 975.2L241 980.8L241.8 987.4L242.7 995.1L243.5 1004L244.3 1014.4L245.2 1026.6L246 1040.9L246.9 1058.2L247.7 1079.3L248.5 1106.1L249.4 1142.1L250.2 1196.5L251 1307L251.9 1346.6L252.7 1205.4L253.6 1145.3L254.4 1107L255.2 1079.3L256.1 1058L256.9 1041L257.8 1027.2L258.6 1015.9L259.4 1006.6L260.3 999L261.1 992.9L262 988.2L262.8 984.7L263.6 982.4L264.5 981.2L265.3 981.1L266.1 982.4L267 985.1L267.8 989.4L268.7 995.4L269.5 1003.1L270.3 1013L271.2 1025.4L272 1041L272.9 1060.7L273.7 1086.5L274.5 1121.7L275.4 1175.5L276.2 1285.8L277.1 1476.3L277.9 1405.2L278.7 1344.5L279.6 1305.6L280.4 1276.9L281.2 1254.3L282.1 1235.8L282.9 1220.2L283.8 1206.9L284.6 1195.2L285.4 1184.9L286.3 1175.9L287.1 1167.8L288 1160.6L288.8 1154.1L289.6 1148.3L290.5 1143.1L291.3 1138.5L292.1 1134.4L293 1130.8L293.8 1127.6L294.7 1124.9L295.5 1122.5L296.3 1120.6L297.2 1119L298 1117.8L298.9 1116.9L299.7 1116.4L300.5 1116.2L301.4 1116.4L302.2 1117.1L303.1 1118.3L303.9 1119.9L304.7 1122L305.6 1124.6L306.4 1127.7L307.2 1131.4L308.1 1135.6L308.9 1140.5L309.8 1146.2L310.6 1152.5L311.4 1159.8L312.3 1168L313.1 1177.4L314 1188.1L314.8 1200.5L315.6 1214.8L316.5 1231.8L317.3 1252.4L318.1 1278.1L319 1312.1L319.8 1361.6L320.7 1453L321.5 1449.6L322.3 1247.5L323.2 1179.4L324 1137.7L324.9 1107.8L325.7 1084.8L326.5 1066.2L327.4 1050.9L328.2 1037.9L329.1 1026.9L329.9 1017.5L330.7 1009.5L331.6 1002.6L332.4 996.7L333.2 991.8L334.1 987.7L334.9 984.4L335.8 981.9L336.6 980L337.4 978.9L338.3 978.4L339.1 978.6L340 979.5L340.8 981.2L341.6 983.5L342.5 986.6L343.3 990.5L344.1 995.3L345 1001.1L345.8 1007.8L346.7 1015.8L347.5 1025.1L348.3 1036L349.2 1048.9L350 1064.2L350.9 1082.7L351.7 1105.7L352.5 1135.5L353.4 1177.2L354.2 1245.3L355.1 1447.4L355.9 1389.6L356.7 1298.5L357.6 1249.3L358.4 1215.9L359.2 1191L360.1 1171.4L360.9 1155.5L361.8 1142.5L362.6 1131.8L363.4 1122.8L364.3 1115.5L365.1 1109.5L366 1104.8L366.8 1101.2L367.6 1098.7L368.5 1097.2L369.3 1096.7L370.2 1097.1L371 1098.4L371.8 1100.6L372.7 1103.7L373.5 1107.8L374.3 1112.9L375.2 1119.2L376 1126.8L376.9 1135.8L377.7 1146.6L378.5 1159.5L379.4 1175L380.2 1194L381.1 1217.8L381.9 1249.3L382.7 1294.4L383.6 1372.2L384.4 1476.3L385.2 1258.5L386.1 1180.6L386.9 1135.3L387.8 1103.6L388.6 1079.4L389.4 1060L390.3 1044L391.1 1030.6L392 1019.1L392.8 1009.4L393.6 1000.9L394.5 993.7L395.3 987.5L396.2 982.3L397 977.9L397.8 974.3L398.7 971.4L399.5 969.2L400.3 967.7L401.2 966.9L402 966.7L402.9 968.1L403.7 971.4L404.5 976.9L405.4 984.7L406.2 995.2L407.1 1008.9L407.9 1026.7L408.7 1050.2L409.6 1082.6L410.4 1131L411.2 1221.7L412.1 1426.4L412.9 1224.4L413.8 1156.7L414.6 1115.5L415.4 1086.4L416.3 1064.3L417.1 1046.9L418 1033L418.8 1021.7L419.6 1012.6L420.5 1005.4L421.3 999.9L422.2 995.8L423 993L423.8 991.6L424.7 991.6L425.5 993.4L426.3 997.5L427.2 1003.8L428 1012.8L428.9 1024.7L429.7 1040.5L430.5 1061.3L431.4 1089.4L432.2 1129.8L433.1 1197.1L433.9 1398.9L434.7 1241L435.6 1150.2L436.4 1101.7L437.3 1069.2L438.1 1045.5L438.9 1027.5L439.8 1013.5L440.6 1002.7L441.4 994.5L442.3 988.5L443.1 984.6L444 982.6L444.8 982.4L445.6 984.1L446.5 987.6L447.3 993.1L448.2 1000.8L449 1011.1L449.8 1024.4L450.7 1041.5L451.5 1063.9L452.3 1094.3L453.2 1138.5L454 1215.9L454.9 1476.3L455.7 1243.4L456.5 1165.5L457.4 1120.4L458.2 1088.9L459.1 1065L459.9 1045.9L460.7 1030.3L461.6 1017.4L462.4 1006.5L463.3 997.3L464.1 989.6L464.9 983.2L465.8 977.8L466.6 973.6L467.4 970.2L468.3 967.8L469.1 966.2L470 965.5L470.8 965.6L471.6 967L472.5 969.8L473.3 973.9L474.2 979.4L475 986.6L475.8 995.7L476.7 1006.9L477.5 1020.6L478.4 1036.1L479.2 1048.9L480 1047.6L480.9 1029.7L481.7 1010.2L482.5 1000.8L483.4 1003.1L484.2 1010.9L485.1 1015.3L485.9 1011.2L486.7 1004L487.6 1000.2L488.4 1000.7L489.3 1001.8L490.1 1003.6L490.9 1006.3L491.8 1009.8L492.6 1014.3L493.4 1019.8L494.3 1026.4L495.1 1034.2L496 1043.5L496.8 1054.5L497.6 1067.6L498.5 1083.2L499.3 1102.4L500.2 1126.4L501 1157.9L501.8 1203L502.7 1280.9L503.5 1476.3L504.4 1317.9L505.2 1240.2L506 1195.3L506.9 1164L507.7 1140.3L508.5 1121.5L509.4 1106.1L510.2 1093.4L511.1 1082.8L511.9 1074L512.7 1066.6L513.6 1060.4L514.4 1055.4L515.3 1051.5L516.1 1048.5L516.9 1046.4L517.8 1045.1L518.6 1044.7L519.4 1045.9L520.3 1049.7L521.1 1056.1L522 1065.4L522.8 1078.2L523.6 1095.4L524.5 1118.5L525.3 1150.5L526.2 1198.8L527 1289.5L527.8 1434L528.7 1232.2L529.5 1164.8L530.4 1124.1L531.2 1095.5L532 1074L532.9 1057.3L533.7 1044.2L534.5 1033.8L535.4 1025.7L536.2 1019.5L537.1 1015.1L537.9 1012.3L538.7 1011L539.6 1011.2L540.4 1012.9L541.3 1016.3L542.1 1021.3L542.9 1028.2L543.8 1037.2L544.6 1048.5L545.4 1062.8L546.3 1080.8L547.1 1104L548 1135L548.8 1179.8L549.6 1257.5L550.5 1476.3L551.3 1381.6L552.2 1304.1L553 1259.5L553.8 1228.6L554.7 1205.3L555.5 1187L556.4 1172.4L557.2 1160.4L558 1150.6L558.9 1142.6L559.7 1136.2L560.5 1131.2L561.4 1127.4L562.2 1124.8L563.1 1123.2L563.9 1122.7L564.7 1123.3L565.6 1125.3L566.4 1128.5L567.3 1133.2L568.1 1139.3L568.9 1147.1L569.8 1156.7L570.6 1168.5L571.5 1182.9L572.3 1200.8L573.1 1223.3L574 1252.9L574.8 1294.4L575.6 1362.5L576.5 1476.3L577.3 1280.2L578.2 1189.3L579 1140.2L579.8 1106.8L580.7 1081.7L581.5 1061.9L582.4 1045.7L583.2 1032.2L584 1020.8L584.9 1011.1L585.7 1002.8L586.5 995.7L587.4 989.7L588.2 984.6L589.1 980.3L589.9 976.8L590.7 974L591.6 971.9L592.4 970.5L593.3 969.6L594.1 969.3L594.9 969.6L595.8 970.4L596.6 971.8L597.5 973.8L598.3 976.3L599.1 979.4L600 983.1L600.8 987.5L601.6 992.5L602.5 998.2L603.3 1004.8L604.2 1012.2L605 1020.6L605.8 1030.1L606.7 1041L607.5 1053.4L608.4 1067.8L609.2 1084.6L610 1104.8L610.9 1129.8L611.7 1162.2L612.5 1208.1L613.4 1286.6L614.2 1476.3L615.1 1323.2L615.9 1245.6L616.7 1200.7L617.6 1169.2L618.4 1145.1L619.3 1125.8L620.1 1109.8L620.9 1096.2L621.8 1084.6L622.6 1074.5L623.5 1065.7L624.3 1058L625.1 1051.2L626 1045.2L626.8 1039.9L627.6 1035.2L628.5 1031.1L629.3 1027.5L630.2 1024.5L631 1021.8L631.8 1019.5L632.7 1017.7L633.5 1016.2L634.4 1015L635.2 1014.2L636 1013.7L636.9 1013.5L637.7 1013.6L638.6 1013.8L639.4 1014.2L640.2 1014.7L641.1 1015.4L641.9 1016.2L642.7 1017.2L643.6 1018.4L644.4 1019.7L645.3 1021.1L646.1 1022.7L646.9 1024.4L647.8 1026.2L648.6 1028.2L649.5 1030.4L650.3 1032.6L651.1 1035L652 1037.6L652.8 1040.2L653.6 1043.1L654.5 1046L655.3 1049.1L656.2 1052.4L657 1055.8L657.8 1059.3L658.7 1063L659.5 1066.9L660.4 1070.9L661.2 1075.2L662 1079.5L662.9 1084.1L663.7 1088.9L664.6 1093.9L665.4 1099.1L666.2 1104.5L667.1 1110.1L667.9 1116L668.7 1122.2L669.6 1128.7L670.4 1135.6L671.3 1142.7L672.1 1150.3L672.9 1158.3L673.8 1166.8L674.6 1175.8L675.5 1185.4L676.3 1195.8L677.1 1206.9L678 1219.1L678.8 1232.4L679.6 1247.1L680.5 1263.7L681.3 1282.6L682.2 1304.8L683 1331.6L683.8 1365.7L684.7 1413.1L685.5 1476.3L740.9 1476.3L741.7 1413.1L742.6 1365.7L743.4 1331.6L744.2 1304.8L745.1 1282.6L745.9 1263.7L746.8 1247.1L747.6 1232.4L748.4 1219.1L749.3 1206.9L750.1 1195.8L750.9 1185.4L751.8 1175.8L752.6 1166.8L753.5 1158.3L754.3 1150.3L755.1 1142.7L756 1135.6L756.8 1128.7L757.7 1122.2L758.5 1116L759.3 1110.1L760.2 1104.5L761 1099.1L761.8 1093.9L762.7 1088.9L763.5 1084.1L764.4 1079.5L765.2 1075.2L766 1070.9L766.9 1066.9L767.7 1063L768.6 1059.3L769.4 1055.8L770.2 1052.4L771.1 1049.1L771.9 1046L772.8 1043.1L773.6 1040.2L774.4 1037.6L775.3 1035L776.1 1032.6L776.9 1030.4L777.8 1028.2L778.6 1026.2L779.5 1024.4L780.3 1022.7L781.1 1021.1L782 1019.7L782.8 1018.4L783.7 1017.2L784.5 1016.2L785.3 1015.4L786.2 1014.7L787 1014.2L787.8 1013.8L788.7 1013.6L789.5 1013.5L790.4 1013.7L791.2 1014.2L792 1015L792.9 1016.2L793.7 1017.7L794.6 1019.5L795.4 1021.8L796.2 1024.5L797.1 1027.5L797.9 1031.1L798.8 1035.2L799.6 1039.9L800.4 1045.2L801.3 1051.2L802.1 1058L802.9 1065.7L803.8 1074.5L804.6 1084.6L805.5 1096.2L806.3 1109.8L807.1 1125.8L808 1145.1L808.8 1169.2L809.7 1200.7L810.5 1245.6L811.3 1323.2L812.2 1476.3L813 1286.6L813.8 1208.1L814.7 1162.2L815.5 1129.8L816.4 1104.8L817.2 1084.6L818 1067.8L818.9 1053.4L819.7 1041L820.6 1030.1L821.4 1020.6L822.2 1012.2L823.1 1004.8L823.9 998.2L824.8 992.5L825.6 987.5L826.4 983.1L827.3 979.4L828.1 976.3L828.9 973.8L829.8 971.8L830.6 970.4L831.5 969.6L832.3 969.3L833.1 969.6L834 970.5L834.8 971.9L835.7 974L836.5 976.8L837.3 980.3L838.2 984.6L839 989.7L839.9 995.7L840.7 1002.8L841.5 1011.1L842.4 1020.8L843.2 1032.2L844 1045.7L844.9 1061.9L845.7 1081.7L846.6 1106.8L847.4 1140.2L848.2 1189.3L849.1 1280.2L849.9 1476.3L850.8 1362.5L851.6 1294.4L852.4 1252.9L853.3 1223.3L854.1 1200.8L854.9 1182.9L855.8 1168.5L856.6 1156.7L857.5 1147.1L858.3 1139.3L859.1 1133.2L860 1128.5L860.8 1125.3L861.7 1123.3L862.5 1122.7L863.3 1123.2L864.2 1124.8L865 1127.4L865.9 1131.2L866.7 1136.2L867.5 1142.6L868.4 1150.6L869.2 1160.4L870 1172.4L870.9 1187L871.7 1205.3L872.6 1228.6L873.4 1259.5L874.2 1304.1L875.1 1381.6L875.9 1476.3L876.8 1257.5L877.6 1179.8L878.4 1135L879.3 1104L880.1 1080.8L880.9 1062.8L881.8 1048.5L882.6 1037.2L883.5 1028.2L884.3 1021.3L885.1 1016.3L886 1012.9L886.8 1011.2L887.7 1011L888.5 1012.3L889.3 1015.1L890.2 1019.5L891 1025.7L891.9 1033.8L892.7 1044.2L893.5 1057.3L894.4 1074L895.2 1095.5L896 1124.1L896.9 1164.8L897.7 1232.2L898.6 1434L899.4 1289.5L900.2 1198.8L901.1 1150.5L901.9 1118.5L902.8 1095.4L903.6 1078.2L904.4 1065.4L905.3 1056.1L906.1 1049.7L907 1045.9L907.8 1044.7L908.6 1045.1L909.5 1046.4L910.3 1048.5L911.1 1051.5L912 1055.4L912.8 1060.4L913.7 1066.6L914.5 1074L915.3 1082.8L916.2 1093.4L917 1106.1L917.9 1121.5L918.7 1140.3L919.5 1164L920.4 1195.3L921.2 1240.2L922 1317.9L922.9 1476.3L923.7 1280.9L924.6 1203L925.4 1157.9L926.2 1126.4L927.1 1102.4L927.9 1083.2L928.8 1067.6L929.6 1054.5L930.4 1043.5L931.3 1034.2L932.1 1026.4L933 1019.8L933.8 1014.3L934.6 1009.8L935.5 1006.3L936.3 1003.6L937.1 1001.8L938 1000.7L938.8 1000.2L939.7 1004L940.5 1011.2L941.3 1015.3L942.2 1010.9L943 1003.1L943.9 1000.8L944.7 1010.2L945.5 1029.7L946.4 1047.6L947.2 1048.9L948 1036.1L948.9 1020.6L949.7 1006.9L950.6 995.7L951.4 986.6L952.2 979.4L953.1 973.9L953.9 969.8L954.8 967L955.6 965.6L956.4 965.5L957.3 966.2L958.1 967.8L959 970.2L959.8 973.6L960.6 977.8L961.5 983.2L962.3 989.6L963.1 997.3L964 1006.5L964.8 1017.4L965.7 1030.3L966.5 1045.9L967.3 1065L968.2 1088.9L969 1120.4L969.9 1165.5L970.7 1243.4L971.5 1476.3L972.4 1215.9L973.2 1138.5L974.1 1094.3L974.9 1063.9L975.7 1041.5L976.6 1024.4L977.4 1011.1L978.2 1000.8L979.1 993.1L979.9 987.6L980.8 984.1L981.6 982.4L982.4 982.6L983.3 984.6L984.1 988.5L985 994.5L985.8 1002.7L986.6 1013.5L987.5 1027.5L988.3 1045.5L989.1 1069.2L990 1101.7L990.8 1150.2L991.7 1241L992.5 1398.9L993.3 1197.1L994.2 1129.8L995 1089.4L995.9 1061.3L996.7 1040.5L997.5 1024.7L998.4 1012.8L999.2 1003.8L1000.1 997.5L1000.9 993.4L1001.7 991.6L1002.6 991.6L1003.4 993L1004.2 995.8L1005.1 999.9L1005.9 1005.4L1006.8 1012.6L1007.6 1021.7L1008.4 1033L1009.3 1046.9L1010.1 1064.3L1011 1086.4L1011.8 1115.5L1012.6 1156.7L1013.5 1224.4L1014.3 1426.4L1015.1 1221.7L1016 1131L1016.8 1082.6L1017.7 1050.2L1018.5 1026.7L1019.3 1008.9L1020.2 995.2L1021 984.7L1021.9 976.9L1022.7 971.4L1023.5 968.1L1024.4 966.7L1025.2 966.9L1026.1 967.7L1026.9 969.2L1027.7 971.4L1028.6 974.3L1029.4 977.9L1030.2 982.3L1031.1 987.5L1031.9 993.7L1032.8 1000.9L1033.6 1009.4L1034.4 1019.1L1035.3 1030.6L1036.1 1044L1037 1060L1037.8 1079.4L1038.6 1103.6L1039.5 1135.3L1040.3 1180.6L1041.2 1258.5L1042 1476.3L1042.8 1372.2L1043.7 1294.4L1044.5 1249.3L1045.3 1217.8L1046.2 1194L1047 1175L1047.9 1159.5L1048.7 1146.6L1049.5 1135.8L1050.4 1126.8L1051.2 1119.2L1052.1 1112.9L1052.9 1107.8L1053.7 1103.7L1054.6 1100.6L1055.4 1098.4L1056.2 1097.1L1057.1 1096.7L1057.9 1097.2L1058.8 1098.7L1059.6 1101.2L1060.4 1104.8L1061.3 1109.5L1062.1 1115.5L1063 1122.8L1063.8 1131.8L1064.6 1142.5L1065.5 1155.5L1066.3 1171.4L1067.2 1191L1068 1215.9L1068.8 1249.3L1069.7 1298.5L1070.5 1389.6L1071.3 1447.4L1072.2 1245.3L1073 1177.2L1073.9 1135.5L1074.7 1105.7L1075.5 1082.7L1076.4 1064.2L1077.2 1048.9L1078.1 1036L1078.9 1025.1L1079.7 1015.8L1080.6 1007.8L1081.4 1001.1L1082.2 995.3L1083.1 990.5L1083.9 986.6L1084.8 983.5L1085.6 981.2L1086.4 979.5L1087.3 978.6L1088.1 978.4L1089 978.9L1089.8 980L1090.6 981.9L1091.5 984.4L1092.3 987.7L1093.2 991.8L1094 996.7L1094.8 1002.6L1095.7 1009.5L1096.5 1017.5L1097.3 1026.9L1098.2 1037.9L1099 1050.9L1099.9 1066.2L1100.7 1084.8L1101.5 1107.8L1102.4 1137.7L1103.2 1179.4L1104.1 1247.5L1104.9 1449.6L1105.7 1453L1106.6 1361.6L1107.4 1312.1L1108.3 1278.1L1109.1 1252.4L1109.9 1231.8L1110.8 1214.8L1111.6 1200.5L1112.4 1188.1L1113.3 1177.4L1114.1 1168L1115 1159.8L1115.8 1152.5L1116.6 1146.2L1117.5 1140.5L1118.3 1135.6L1119.2 1131.4L1120 1127.7L1120.8 1124.6L1121.7 1122L1122.5 1119.9L1123.3 1118.3L1124.2 1117.1L1125 1116.4L1125.9 1116.2L1126.7 1116.4L1127.5 1116.9L1128.4 1117.8L1129.2 1119L1130.1 1120.6L1130.9 1122.5L1131.7 1124.9L1132.6 1127.6L1133.4 1130.8L1134.3 1134.4L1135.1 1138.5L1135.9 1143.1L1136.8 1148.3L1137.6 1154.1L1138.4 1160.6L1139.3 1167.8L1140.1 1175.9L1141 1184.9L1141.8 1195.2L1142.6 1206.9L1143.5 1220.2L1144.3 1235.8L1145.2 1254.3L1146 1276.9L1146.8 1305.6L1147.7 1344.5L1148.5 1405.2L1149.3 1476.3L1150.2 1285.8L1151 1175.5L1151.9 1121.7L1152.7 1086.5L1153.5 1060.7L1154.4 1041L1155.2 1025.4L1156.1 1013L1156.9 1003.1L1157.7 995.4L1158.6 989.4L1159.4 985.1L1160.3 982.4L1161.1 981.1L1161.9 981.2L1162.8 982.4L1163.6 984.7L1164.4 988.2L1165.3 992.9L1166.1 999L1167 1006.6L1167.8 1015.9L1168.6 1027.2L1169.5 1041L1170.3 1058L1171.2 1079.3L1172 1107L1172.8 1145.3L1173.7 1205.4L1174.5 1346.6L1175.4 1307L1176.2 1196.5L1177 1142.1L1177.9 1106.1L1178.7 1079.3L1179.5 1058.2L1180.4 1040.9L1181.2 1026.6L1182.1 1014.4L1182.9 1004L1183.7 995.1L1184.6 987.4L1185.4 980.8L1186.3 975.2L1187.1 970.5L1187.9 966.5L1188.8 963.4L1189.6 960.9L1190.4 959.2L1191.3 958.1L1192.1 957.6L1193 957.7L1193.8 958L1194.6 958.6L1195.5 959.4L1196.3 960.5L1197.2 961.8L1198 963.4L1198.8 965.3L1199.7 967.4L1200.5 969.9L1201.4 972.6L1202.2 975.7L1203 979.2L1203.9 982.9L1204.7 987.1L1205.5 991.7L1206.4 996.7L1207.2 1002.3L1208.1 1008.3L1208.9 1015L1209.7 1022.4L1210.6 1030.6L1211.4 1039.6L1212.3 1049.7L1213.1 1061.1L1213.9 1074L1214.8 1088.9L1215.6 1106.4L1216.5 1127.3L1217.3 1153.3L1218.1 1187.5L1219 1237.2L1219.8 1328.7L1220.6 1476.3L1222.3 1476.3L1223.2 1410.1L1224 1350.9L1224.8 1305L1225.7 1267.6L1226.5 1236.2L1227.4 1209.2L1228.2 1185.7L1229 1165L1229.9 1146.4L1230.7 1129.8L1231.5 1114.7L1232.4 1101L1233.2 1088.5L1234.1 1077.1L1234.9 1066.3L1235.7 1053.9L1236.6 1040.6L1237.4 1027.3L1238.3 1014.8L1239.1 1003.5L1239.9 992.5L1240.8 981.6L1241.6 971.3L1242.5 961.7L1243.3 952.9L1244.1 945L1245 938L1245.8 931.6L1246.6 925.6L1247.5 920L1248.3 914.7L1249.2 909.8L1250 905.1L1250.8 900.7L1251.7 896.5L1252.5 892.6L1253.4 888.9L1254.2 885.3L1255 881.9L1255.9 878.7L1256.7 875.7L1257.5 871.4L1258.4 867.3L1259.2 863.6L1260.1 860L1260.9 856.7L1261.7 853.6L1262.6 850.8L1263.4 848L1264.3 845.5L1265.1 843.1L1265.9 840.9L1266.8 838.8L1267.6 836.8L1268.5 834.9L1269.3 833.2L1270.1 831.5L1271 830L1271.8 828.6L1272.6 827.2L1273.5 825.9L1274.3 824.7L1275.2 823.6L1276 822.6L1276.8 821.6L1277.7 820.7L1278.5 819.9L1279.4 819.1L1280.2 818.3L1281 817.6L1281.9 817L1282.7 816.4L1283.5 815.9L1284.4 815.4L1285.2 814.9L1286.1 814.5L1286.9 814.1L1287.7 813.7L1288.6 813.4L1289.4 813.1L1290.3 812.8L1291.1 812.5L1291.9 812.3L1292.8 812.1L1293.6 811.9L1294.5 811.8L1295.3 811.6L1296.1 811.5L1297 811.4L1297.8 811.3L1298.6 811.2L1299.5 811.1L1300.3 811L1301.2 811L1302 810.9L1302.8 810.9L1303.7 810.8L1304.5 810.8L1305.4 810.8L1306.2 810.8L1307 810.7L1307.9 810.7L1308.7 810.7L1309.6 810.7L1310.4 810.7L1311.2 810.7L1312.1 810.7L1312.9 810.7L1313.7 810.7L1314.6 810.7L1315.4 810.7L1316.3 810.7L1317.1 810.7" stroke="#FF00FF" stroke-width="4.6" stroke-dasharray="18.5,4.3,9,4.3"/>
<path d="M109.3 810.7L110.1 810.7L111 810.7L111.8 810.7L112.7 810.7L113.5 810.7L114.3 810.7L115.2 810.7L116 810.7L116.8 810.7L117.7 810.7L118.5 810.7L119.4 810.7L120.2 810.7L121 810.7L121.9 810.7L122.7 810.8L123.6 810.8L124.4 810.8L125.2 810.8L126.1 810.8L126.9 810.9L127.8 810.9L128.6 810.9L129.4 811L130.3 811L131.1 811.1L131.9 811.1L132.8 811.2L133.6 811.2L134.5 811.3L135.3 811.4L136.1 811.5L137 811.6L137.8 811.7L138.7 811.9L139.5 812L140.3 812.2L141.2 812.3L142 812.5L142.8 812.7L143.7 812.9L144.5 813.1L145.4 813.4L146.2 813.6L147 813.9L147.9 814.2L148.7 814.5L149.6 814.9L150.4 815.2L151.2 815.6L152.1 816L152.9 816.5L153.8 816.9L154.6 817.4L155.4 817.9L156.3 818.5L157.1 819.1L157.9 819.7L158.8 820.3L159.6 821L160.5 821.8L161.3 822.5L162.1 823.4L163 824.2L163.8 825.1L164.7 826.1L165.5 827.1L166.3 828.1L167.2 829.2L168 830.4L168.9 831.6L169.7 832.9L170.5 834.3L171.4 835.7L172.2 837.2L173 838.8L173.9 840.4L174.7 842.1L175.6 844L176.4 845.9L177.2 847.9L178.1 850L178.9 852.3L179.8 854.6L180.6 857.1L181.4 859.7L182.3 862.4L183.1 865.3L183.9 868.4L184.8 871.6L185.6 875L186.5 879.3L187.3 884L188.1 888.9L189 893.8L189.8 898.9L190.7 904.2L191.5 909.5L192.3 915L193.2 920.5L194 926.1L194.9 931.7L195.7 937.3L196.5 943L197.4 948.8L198.2 954.8L199 961.1L199.9 967.4L200.7 973.9L201.6 980.3L202.4 986.7L203.2 992.8L204.1 998.6L204.9 1003.8L205.8 1008.3L206.6 1012.2L207.4 1015.6L208.3 1018.6L209.1 1021.5L209.9 1024.4L210.8 1027.5L211.6 1031L212.5 1035.1L213.3 1039.9L214.1 1045.7L215 1052.3L215.8 1059L216.7 1065.3L217.5 1070.3L218.3 1073.8L219.2 1075.9L220 1076.9L220.9 1077.2L221.7 1078.3L222.5 1080.4L223.4 1083L224.2 1084.8L225 1084.9L225.9 1083L226.7 1079.5L227.6 1075.1L228.4 1070.8L229.2 1067.2L230.1 1064.9L230.9 1063.9L231.8 1064.3L232.6 1065.2L233.4 1066.6L234.3 1068.7L235.1 1071.5L236 1075L236.8 1079.2L237.6 1084.2L238.5 1090.1L239.3 1097L240.1 1105L241 1114.3L241.8 1125.1L242.7 1137.8L243.5 1152.7L244.3 1170.7L245.2 1192.8L246 1221.1L246.9 1259.8L247.7 1320.3L248.5 1461.5L249.4 1361.4L250.2 1250.8L251 1196.2L251.9 1159.8L252.7 1132.6L253.6 1110.9L254.4 1093.1L255.2 1077.9L256.1 1064.9L256.9 1053.5L257.8 1043.4L258.6 1034.5L259.4 1026.5L260.3 1019.4L261.1 1013L262 1007.3L262.8 1002.2L263.6 997.6L264.5 993.5L265.3 989.8L266.1 986.6L267 983.8L267.8 981.4L268.7 979.4L269.5 977.7L270.3 976.4L271.2 975.5L272 974.8L272.9 974.5L273.7 974.6L274.5 975.4L275.4 976.9L276.2 979.2L277.1 982.2L277.9 986L278.7 990.7L279.6 996.4L280.4 1003.1L281.2 1011L282.1 1020.3L282.9 1031.1L283.8 1043.9L284.6 1059.2L285.4 1077.7L286.3 1100.7L287.1 1130.5L288 1172.2L288.8 1240.2L289.6 1442.4L290.5 1290.6L291.3 1199.3L292.1 1149.9L293 1116.2L293.8 1090.8L294.7 1070.6L295.5 1054.1L296.3 1040.2L297.2 1028.5L298 1018.5L298.9 1010L299.7 1002.6L300.5 996.4L301.4 991.1L302.2 986.6L303.1 983L303.9 980.2L304.7 978.1L305.6 976.7L306.4 975.9L307.2 975.8L308.1 976.1L308.9 976.8L309.8 977.8L310.6 979.2L311.4 980.9L312.3 983L313.1 985.5L314 988.4L314.8 991.7L315.6 995.5L316.5 999.7L317.3 1004.4L318.1 1009.7L319 1015.4L319.8 1021.7L320.7 1028.6L321.5 1036.1L322.3 1044.1L323.2 1052.7L324 1061.7L324.9 1071.2L325.7 1080.8L326.5 1090.4L327.4 1099.6L328.2 1107.7L329.1 1114.3L329.9 1118.6L330.7 1120.1L331.6 1119.7L332.4 1118.5L333.2 1116.4L334.1 1113.5L334.9 1109.9L335.8 1105.5L336.6 1100.5L337.4 1095.2L338.3 1089.7L339.1 1084.1L340 1078.8L340.8 1073.7L341.6 1069.1L342.5 1064.9L343.3 1061.3L344.1 1058.3L345 1055.9L345.8 1054.1L346.7 1053L347.5 1052.4L348.3 1052.7L349.2 1054.1L350 1056.8L350.9 1060.9L351.7 1066.5L352.5 1073.7L353.4 1082.8L354.2 1094.1L355.1 1108L355.9 1125.4L356.7 1147.5L357.6 1176.6L358.4 1217.8L359.2 1285.5L360.1 1476.3L360.9 1347.4L361.8 1256.4L362.6 1207.4L363.4 1174.1L364.3 1149.4L365.1 1130.1L366 1114.6L366.8 1102L367.6 1091.7L368.5 1083.4L369.3 1076.6L370.2 1071.4L371 1067.4L371.8 1064.8L372.7 1063.3L373.5 1062.9L374.3 1063.8L375.2 1066L376 1069.5L376.9 1074.5L377.7 1081L378.5 1089.3L379.4 1099.7L380.2 1112.5L381.1 1128.4L381.9 1148.4L382.7 1174.3L383.6 1209.7L384.4 1263.6L385.2 1373.9L386.1 1406.1L386.9 1265L387.8 1204.9L388.6 1166.7L389.4 1139L390.3 1117.8L391.1 1100.9L392 1087.3L392.8 1076.1L393.6 1067L394.5 1059.6L395.3 1053.8L396.2 1049.4L397 1046.2L397.8 1044.2L398.7 1043.4L399.5 1043.8L400.3 1045.4L401.2 1048.2L402 1052.3L402.9 1057.9L403.7 1065L404.5 1073.9L405.4 1084.9L406.2 1098.4L407.1 1115.2L407.9 1136.3L408.7 1163.8L409.6 1202L410.4 1262.1L411.2 1403.2L412.1 1369.7L412.9 1259.4L413.8 1205.3L414.6 1169.7L415.4 1143.5L416.3 1123.2L417.1 1106.9L418 1093.6L418.8 1082.8L419.6 1073.8L420.5 1066.6L421.3 1060.8L422.2 1056.3L423 1053L423.8 1050.9L424.7 1049.9L425.5 1049.9L426.3 1050.6L427.2 1052L428 1054.1L428.9 1056.9L429.7 1060.2L430.5 1064.3L431.4 1068.9L432.2 1074L433.1 1079.5L433.9 1085.3L434.7 1091.1L435.6 1096.9L436.4 1102.3L437.3 1107.2L438.1 1111.3L438.9 1114.6L439.8 1116.9L440.6 1118.3L441.4 1118.8L442.3 1117.4L443.1 1113.3L444 1107.1L444.8 1099.2L445.6 1090.2L446.5 1080.7L447.3 1071.1L448.2 1061.5L449 1052.3L449.8 1043.6L450.7 1035.4L451.5 1027.7L452.3 1020.6L453.2 1014L454 1008.1L454.9 1002.6L455.7 997.6L456.5 993.2L457.4 989.1L458.2 985.5L459.1 982.3L459.9 979.5L460.7 977.1L461.6 975L462.4 973.2L463.3 971.8L464.1 970.7L464.9 969.9L465.8 969.5L466.6 969.3L467.4 969.7L468.3 971L469.1 973.2L470 976.3L470.8 980.4L471.6 985.5L472.5 991.8L473.3 999.4L474.2 1008.4L475 1019.2L475.8 1032.1L476.7 1047.6L477.5 1066.6L478.4 1090.4L479.2 1121.9L480 1167L480.9 1244.8L481.7 1476.3L482.5 1240.7L483.4 1162.9L484.2 1118.1L485.1 1086.9L485.9 1063.3L486.7 1044.8L487.6 1029.8L488.4 1017.5L489.3 1007.5L490.1 999.2L490.9 992.6L491.8 987.3L492.6 983.4L493.4 980.6L494.3 978.9L495.1 978.4L496 978.8L496.8 979.9L497.6 981.8L498.5 984.6L499.3 988.1L500.2 992.6L501 998L501.8 1004.5L502.7 1012.3L503.5 1021.4L504.4 1032.1L505.2 1044.8L506 1059.9L506.9 1078.3L507.7 1101.3L508.5 1131L509.4 1172.6L510.2 1240.7L511.1 1442.8L511.9 1299.1L512.7 1207.9L513.6 1158.6L514.4 1124.8L515.3 1099.4L516.1 1079.1L516.9 1062.5L517.8 1048.4L518.6 1036.5L519.4 1026.2L520.3 1017.2L521.1 1009.4L522 1002.7L522.8 996.8L523.6 991.7L524.5 987.3L525.3 983.6L526.2 980.5L527 978L527.8 976L528.7 974.6L529.5 973.7L530.4 973.2L531.2 973.2L532 973.6L532.9 974.3L533.7 975.4L534.5 976.7L535.4 978.5L536.2 980.5L537.1 982.9L537.9 985.7L538.7 988.7L539.6 992.1L540.4 995.9L541.3 999.9L542.1 1004.2L542.9 1008.9L543.8 1013.7L544.6 1018.7L545.4 1023.9L546.3 1029.1L547.1 1034.4L548 1039.5L548.8 1044.4L549.6 1049L550.5 1053.2L551.3 1056.9L552.2 1059.9L553 1062.4L553.8 1064.1L554.7 1065.2L555.5 1065.5L556.4 1065.3L557.2 1064.6L558 1063.5L558.9 1062.1L559.7 1060.2L560.5 1057.9L561.4 1055.2L562.2 1052.2L563.1 1049L563.9 1045.5L564.7 1041.9L565.6 1038.3L566.4 1034.6L567.3 1030.9L568.1 1027.4L568.9 1024L569.8 1020.9L570.6 1017.9L571.5 1015.2L572.3 1012.8L573.1 1010.7L574 1008.9L574.8 1007.4L575.6 1006.1L576.5 1005.2L577.3 1004.6L578.2 1004.3L579 1004.4L579.8 1004.8L580.7 1005.8L581.5 1007.3L582.4 1009.4L583.2 1011.9L584 1015L584.9 1018.7L585.7 1022.9L586.5 1027.8L587.4 1033.4L588.2 1039.7L589.1 1046.8L589.9 1054.9L590.7 1064L591.6 1074.3L592.4 1086L593.3 1099.6L594.1 1115.4L594.9 1134.1L595.8 1156.9L596.6 1185.8L597.5 1225.1L598.3 1286.1L599.1 1427.8L600 1376.7L600.8 1266.5L601.6 1212.2L602.5 1176.1L603.3 1149.1L604.2 1127.7L605 1110L605.8 1095L606.7 1082.1L607.5 1070.7L608.4 1060.7L609.2 1051.8L610 1043.7L610.9 1036.5L611.7 1029.9L612.5 1024L613.4 1018.6L614.2 1013.6L615.1 1009.1L615.9 1005L616.7 1001.2L617.6 997.8L618.4 994.7L619.3 991.8L620.1 989.3L620.9 986.9L621.8 984.9L622.6 983L623.5 981.3L624.3 979.9L625.1 978.6L626 977.6L626.8 976.6L627.6 975.9L628.5 975.3L629.3 974.9L630.2 974.6L631 974.5L631.8 974.5L632.7 974.7L633.5 974.9L634.4 975.3L635.2 975.7L636 976.3L636.9 977L637.7 977.8L638.6 978.7L639.4 979.7L640.2 980.8L641.1 982L641.9 983.2L642.7 984.6L643.6 986.1L644.4 987.7L645.3 989.3L646.1 991.1L646.9 992.9L647.8 994.8L648.6 996.8L649.5 998.9L650.3 1001.1L651.1 1003.4L652 1005.8L652.8 1008.3L653.6 1010.8L654.5 1013.5L655.3 1016.2L656.2 1019L657 1021.9L657.8 1025L658.7 1028.1L659.5 1031.3L660.4 1034.6L661.2 1038L662 1041.5L662.9 1045.1L663.7 1048.8L664.6 1052.7L665.4 1056.6L666.2 1060.7L667.1 1064.9L667.9 1069.2L668.7 1073.6L669.6 1078.2L670.4 1082.9L671.3 1087.7L672.1 1092.7L672.9 1097.9L673.8 1103.2L674.6 1108.7L675.5 1114.4L676.3 1120.3L677.1 1126.4L678 1132.7L678.8 1139.3L679.6 1146.1L680.5 1153.2L681.3 1160.6L682.2 1168.3L683 1176.4L683.8 1184.9L684.7 1193.8L685.5 1203.2L686.4 1213.1L687.2 1223.7L688 1235L688.9 1247.2L689.7 1260.3L690.6 1274.7L691.4 1290.5L692.2 1308.1L693.1 1328.2L693.9 1351.5L694.7 1379.4L695.6 1414.8L696.4 1463.5L697.3 1476.3L703.1 1476.3L704 1462.7L704.8 1450.4L705.7 1440.4L706.5 1432.1L707.3 1425.5L708.2 1420.2L709 1416.3L709.8 1413.5L710.7 1411.8L711.5 1411L712.4 1425.9L713.2 1411.3L714 1425.9L714.9 1411L715.7 1411.8L716.6 1413.5L717.4 1416.3L718.2 1420.2L719.1 1425.5L719.9 1432.1L720.7 1440.4L721.6 1450.4L722.4 1462.7L723.3 1476.3L729.1 1476.3L730 1463.5L730.8 1414.8L731.7 1379.4L732.5 1351.5L733.3 1328.2L734.2 1308.1L735 1290.5L735.8 1274.7L736.7 1260.3L737.5 1247.2L738.4 1235L739.2 1223.7L740 1213.1L740.9 1203.2L741.7 1193.8L742.6 1184.9L743.4 1176.4L744.2 1168.3L745.1 1160.6L745.9 1153.2L746.8 1146.1L747.6 1139.3L748.4 1132.7L749.3 1126.4L750.1 1120.3L750.9 1114.4L751.8 1108.7L752.6 1103.2L753.5 1097.9L754.3 1092.7L755.1 1087.7L756 1082.9L756.8 1078.2L757.7 1073.6L758.5 1069.2L759.3 1064.9L760.2 1060.7L761 1056.6L761.8 1052.7L762.7 1048.8L763.5 1045.1L764.4 1041.5L765.2 1038L766 1034.6L766.9 1031.3L767.7 1028.1L768.6 1025L769.4 1021.9L770.2 1019L771.1 1016.2L771.9 1013.5L772.8 1010.8L773.6 1008.3L774.4 1005.8L775.3 1003.4L776.1 1001.1L776.9 998.9L777.8 996.8L778.6 994.8L779.5 992.9L780.3 991.1L781.1 989.3L782 987.7L782.8 986.1L783.7 984.6L784.5 983.2L785.3 982L786.2 980.8L787 979.7L787.8 978.7L788.7 977.8L789.5 977L790.4 976.3L791.2 975.7L792 975.3L792.9 974.9L793.7 974.7L794.6 974.5L795.4 974.5L796.2 974.6L797.1 974.9L797.9 975.3L798.8 975.9L799.6 976.6L800.4 977.6L801.3 978.6L802.1 979.9L802.9 981.3L803.8 983L804.6 984.9L805.5 986.9L806.3 989.3L807.1 991.8L808 994.7L808.8 997.8L809.7 1001.2L810.5 1005L811.3 1009.1L812.2 1013.6L813 1018.6L813.8 1024L814.7 1029.9L815.5 1036.5L816.4 1043.7L817.2 1051.8L818 1060.7L818.9 1070.7L819.7 1082.1L820.6 1095L821.4 1110L822.2 1127.7L823.1 1149.1L823.9 1176.1L824.8 1212.2L825.6 1266.5L826.4 1376.7L827.3 1427.8L828.1 1286.1L828.9 1225.1L829.8 1185.8L830.6 1156.9L831.5 1134.1L832.3 1115.4L833.1 1099.6L834 1086L834.8 1074.3L835.7 1064L836.5 1054.9L837.3 1046.8L838.2 1039.7L839 1033.4L839.9 1027.8L840.7 1022.9L841.5 1018.7L842.4 1015L843.2 1011.9L844 1009.4L844.9 1007.3L845.7 1005.8L846.6 1004.8L847.4 1004.4L848.2 1004.3L849.1 1004.6L849.9 1005.2L850.8 1006.1L851.6 1007.4L852.4 1008.9L853.3 1010.7L854.1 1012.8L854.9 1015.2L855.8 1017.9L856.6 1020.9L857.5 1024L858.3 1027.4L859.1 1030.9L860 1034.6L860.8 1038.3L861.7 1041.9L862.5 1045.5L863.3 1049L864.2 1052.2L865 1055.2L865.9 1057.9L866.7 1060.2L867.5 1062.1L868.4 1063.5L869.2 1064.6L870 1065.3L870.9 1065.5L871.7 1065.2L872.6 1064.1L873.4 1062.4L874.2 1059.9L875.1 1056.9L875.9 1053.2L876.8 1049L877.6 1044.4L878.4 1039.5L879.3 1034.4L880.1 1029.1L880.9 1023.9L881.8 1018.7L882.6 1013.7L883.5 1008.9L884.3 1004.2L885.1 999.9L886 995.9L886.8 992.1L887.7 988.7L888.5 985.7L889.3 982.9L890.2 980.5L891 978.5L891.9 976.7L892.7 975.4L893.5 974.3L894.4 973.6L895.2 973.2L896 973.2L896.9 973.7L897.7 974.6L898.6 976L899.4 978L900.2 980.5L901.1 983.6L901.9 987.3L902.8 991.7L903.6 996.8L904.4 1002.7L905.3 1009.4L906.1 1017.2L907 1026.2L907.8 1036.5L908.6 1048.4L909.5 1062.5L910.3 1079.1L911.1 1099.4L912 1124.8L912.8 1158.6L913.7 1207.9L914.5 1299.1L915.3 1442.8L916.2 1240.7L917 1172.6L917.9 1131L918.7 1101.3L919.5 1078.3L920.4 1059.9L921.2 1044.8L922 1032.1L922.9 1021.4L923.7 1012.3L924.6 1004.5L925.4 998L926.2 992.6L927.1 988.1L927.9 984.6L928.8 981.8L929.6 979.9L930.4 978.8L931.3 978.4L932.1 978.9L933 980.6L933.8 983.4L934.6 987.3L935.5 992.6L936.3 999.2L937.1 1007.5L938 1017.5L938.8 1029.8L939.7 1044.8L940.5 1063.3L941.3 1086.9L942.2 1118.1L943 1162.9L943.9 1240.7L944.7 1476.3L945.5 1244.8L946.4 1167L947.2 1121.9L948 1090.4L948.9 1066.6L949.7 1047.6L950.6 1032.1L951.4 1019.2L952.2 1008.4L953.1 999.4L953.9 991.8L954.8 985.5L955.6 980.4L956.4 976.3L957.3 973.2L958.1 971L959 969.7L959.8 969.3L960.6 969.5L961.5 969.9L962.3 970.7L963.1 971.8L964 973.2L964.8 975L965.7 977.1L966.5 979.5L967.3 982.3L968.2 985.5L969 989.1L969.9 993.2L970.7 997.6L971.5 1002.6L972.4 1008.1L973.2 1014L974.1 1020.6L974.9 1027.7L975.7 1035.4L976.6 1043.6L977.4 1052.3L978.2 1061.5L979.1 1071.1L979.9 1080.7L980.8 1090.2L981.6 1099.2L982.4 1107.1L983.3 1113.3L984.1 1117.4L985 1118.8L985.8 1118.3L986.6 1116.9L987.5 1114.6L988.3 1111.3L989.1 1107.2L990 1102.3L990.8 1096.9L991.7 1091.1L992.5 1085.3L993.3 1079.5L994.2 1074L995 1068.9L995.9 1064.3L996.7 1060.2L997.5 1056.9L998.4 1054.1L999.2 1052L1000.1 1050.6L1000.9 1049.9L1001.7 1049.9L1002.6 1050.9L1003.4 1053L1004.2 1056.3L1005.1 1060.8L1005.9 1066.6L1006.8 1073.8L1007.6 1082.8L1008.4 1093.6L1009.3 1106.9L1010.1 1123.2L1011 1143.5L1011.8 1169.7L1012.6 1205.3L1013.5 1259.4L1014.3 1369.7L1015.1 1403.2L1016 1262.1L1016.8 1202L1017.7 1163.8L1018.5 1136.3L1019.3 1115.2L1020.2 1098.4L1021 1084.9L1021.9 1073.9L1022.7 1065L1023.5 1057.9L1024.4 1052.3L1025.2 1048.2L1026.1 1045.4L1026.9 1043.8L1027.7 1043.4L1028.6 1044.2L1029.4 1046.2L1030.2 1049.4L1031.1 1053.8L1031.9 1059.6L1032.8 1067L1033.6 1076.1L1034.4 1087.3L1035.3 1100.9L1036.1 1117.8L1037 1139L1037.8 1166.7L1038.6 1204.9L1039.5 1265L1040.3 1406.1L1041.2 1373.9L1042 1263.6L1042.8 1209.7L1043.7 1174.3L1044.5 1148.4L1045.3 1128.4L1046.2 1112.5L1047 1099.7L1047.9 1089.3L1048.7 1081L1049.5 1074.5L1050.4 1069.5L1051.2 1066L1052.1 1063.8L1052.9 1062.9L1053.7 1063.3L1054.6 1064.8L1055.4 1067.4L1056.2 1071.4L1057.1 1076.6L1057.9 1083.4L1058.8 1091.7L1059.6 1102L1060.4 1114.6L1061.3 1130.1L1062.1 1149.4L1063 1174.1L1063.8 1207.4L1064.6 1256.4L1065.5 1347.4L1066.3 1476.3L1067.2 1285.5L1068 1217.8L1068.8 1176.6L1069.7 1147.5L1070.5 1125.4L1071.3 1108L1072.2 1094.1L1073 1082.8L1073.9 1073.7L1074.7 1066.5L1075.5 1060.9L1076.4 1056.8L1077.2 1054.1L1078.1 1052.7L1078.9 1052.4L1079.7 1053L1080.6 1054.1L1081.4 1055.9L1082.2 1058.3L1083.1 1061.3L1083.9 1064.9L1084.8 1069.1L1085.6 1073.7L1086.4 1078.8L1087.3 1084.1L1088.1 1089.7L1089 1095.2L1089.8 1100.5L1090.6 1105.5L1091.5 1109.9L1092.3 1113.5L1093.2 1116.4L1094 1118.5L1094.8 1119.7L1095.7 1120.1L1096.5 1118.6L1097.3 1114.3L1098.2 1107.7L1099 1099.6L1099.9 1090.4L1100.7 1080.8L1101.5 1071.2L1102.4 1061.7L1103.2 1052.7L1104.1 1044.1L1104.9 1036.1L1105.7 1028.6L1106.6 1021.7L1107.4 1015.4L1108.3 1009.7L1109.1 1004.4L1109.9 999.7L1110.8 995.5L1111.6 991.7L1112.4 988.4L1113.3 985.5L1114.1 983L1115 980.9L1115.8 979.2L1116.6 977.8L1117.5 976.8L1118.3 976.1L1119.2 975.8L1120 975.9L1120.8 976.7L1121.7 978.1L1122.5 980.2L1123.3 983L1124.2 986.6L1125 991.1L1125.9 996.4L1126.7 1002.6L1127.5 1010L1128.4 1018.5L1129.2 1028.5L1130.1 1040.2L1130.9 1054.1L1131.7 1070.6L1132.6 1090.8L1133.4 1116.2L1134.3 1149.9L1135.1 1199.3L1135.9 1290.6L1136.8 1442.4L1137.6 1240.2L1138.4 1172.2L1139.3 1130.5L1140.1 1100.7L1141 1077.7L1141.8 1059.2L1142.6 1043.9L1143.5 1031.1L1144.3 1020.3L1145.2 1011L1146 1003.1L1146.8 996.4L1147.7 990.7L1148.5 986L1149.3 982.2L1150.2 979.2L1151 976.9L1151.9 975.4L1152.7 974.6L1153.5 974.5L1154.4 974.8L1155.2 975.5L1156.1 976.4L1156.9 977.7L1157.7 979.4L1158.6 981.4L1159.4 983.8L1160.3 986.6L1161.1 989.8L1161.9 993.5L1162.8 997.6L1163.6 1002.2L1164.4 1007.3L1165.3 1013L1166.1 1019.4L1167 1026.5L1167.8 1034.5L1168.6 1043.4L1169.5 1053.5L1170.3 1064.9L1171.2 1077.9L1172 1093.1L1172.8 1110.9L1173.7 1132.6L1174.5 1159.8L1175.4 1196.2L1176.2 1250.8L1177 1361.4L1177.9 1461.5L1178.7 1320.3L1179.5 1259.8L1180.4 1221.1L1181.2 1192.8L1182.1 1170.7L1182.9 1152.7L1183.7 1137.8L1184.6 1125.1L1185.4 1114.3L1186.3 1105L1187.1 1097L1187.9 1090.1L1188.8 1084.2L1189.6 1079.2L1190.4 1075L1191.3 1071.5L1192.1 1068.7L1193 1066.6L1193.8 1065.2L1194.6 1064.3L1195.5 1063.9L1196.3 1064.9L1197.2 1067.2L1198 1070.8L1198.8 1075.1L1199.7 1079.5L1200.5 1083L1201.4 1084.9L1202.2 1084.8L1203 1083L1203.9 1080.4L1204.7 1078.3L1205.5 1077.2L1206.4 1076.9L1207.2 1075.9L1208.1 1073.8L1208.9 1070.3L1209.7 1065.3L1210.6 1059L1211.4 1052.3L1212.3 1045.7L1213.1 1039.9L1213.9 1035.1L1214.8 1031L1215.6 1027.5L1216.5 1024.4L1217.3 1021.5L1218.1 1018.6L1219 1015.6L1219.8 1012.2L1220.6 1008.3L1221.5 1003.8L1222.3 998.6L1223.2 992.8L1224 986.7L1224.8 980.3L1225.7 973.9L1226.5 967.4L1227.4 961.1L1228.2 954.8L1229 948.8L1229.9 943L1230.7 937.3L1231.5 931.7L1232.4 926.1L1233.2 920.5L1234.1 915L1234.9 909.5L1235.7 904.2L1236.6 898.9L1237.4 893.8L1238.3 888.9L1239.1 884L1239.9 879.3L1240.8 875L1241.6 871.6L1242.5 868.4L1243.3 865.3L1244.1 862.4L1245 859.7L1245.8 857.1L1246.6 854.6L1247.5 852.3L1248.3 850L1249.2 847.9L1250 845.9L1250.8 844L1251.7 842.1L1252.5 840.4L1253.4 838.8L1254.2 837.2L1255 835.7L1255.9 834.3L1256.7 832.9L1257.5 831.6L1258.4 830.4L1259.2 829.2L1260.1 828.1L1260.9 827.1L1261.7 826.1L1262.6 825.1L1263.4 824.2L1264.3 823.4L1265.1 822.5L1265.9 821.8L1266.8 821L1267.6 820.3L1268.5 819.7L1269.3 819.1L1270.1 818.5L1271 817.9L1271.8 817.4L1272.6 816.9L1273.5 816.5L1274.3 816L1275.2 815.6L1276 815.2L1276.8 814.9L1277.7 814.5L1278.5 814.2L1279.4 813.9L1280.2 813.6L1281 813.4L1281.9 813.1L1282.7 812.9L1283.5 812.7L1284.4 812.5L1285.2 812.3L1286.1 812.2L1286.9 812L1287.7 811.9L1288.6 811.7L1289.4 811.6L1290.3 811.5L1291.1 811.4L1291.9 811.3L1292.8 811.2L1293.6 811.2L1294.5 811.1L1295.3 811.1L1296.1 811L1297 811L1297.8 810.9L1298.6 810.9L1299.5 810.9L1300.3 810.8L1301.2 810.8L1302 810.8L1302.8 810.8L1303.7 810.8L1304.5 810.7L1305.4 810.7L1306.2 810.7L1307 810.7L1307.9 810.7L1308.7 810.7L1309.6 810.7L1310.4 810.7L1311.2 810.7L1312.1 810.7L1312.9 810.7L1313.7 810.7L1314.6 810.7L1315.4 810.7L1316.3 810.7L1317.1 810.7" stroke="#0000FF" stroke-width="6.8"/>
<path d="M109.3 810.7L110.1 810.7L111 810.7L111.8 810.7L112.7 810.7L113.5 810.7L114.3 810.7L115.2 810.7L116 810.7L116.8 810.7L117.7 810.7L118.5 810.7L119.4 810.7L120.2 810.7L121 810.8L121.9 810.8L122.7 810.8L123.6 810.8L124.4 810.9L125.2 810.9L126.1 811L126.9 811L127.8 811.1L128.6 811.2L129.4 811.3L130.3 811.4L131.1 811.5L131.9 811.6L132.8 811.8L133.6 811.9L134.5 812.1L135.3 812.3L136.1 812.5L137 812.7L137.8 813L138.7 813.3L139.5 813.6L140.3 813.9L141.2 814.3L142 814.7L142.8 815.1L143.7 815.6L144.5 816.1L145.4 816.6L146.2 817.2L147 817.9L147.9 818.5L148.7 819.3L149.6 820L150.4 820.9L151.2 821.7L152.1 822.7L152.9 823.7L153.8 824.8L154.6 825.9L155.4 827.1L156.3 828.4L157.1 829.8L157.9 831.3L158.8 832.8L159.6 834.5L160.5 836.2L161.3 838.1L162.1 840.1L163 842.2L163.8 844.4L164.7 846.8L165.5 849.4L166.3 852L167.2 854.9L168 858L168.9 861.2L169.7 864.7L170.5 868.4L171.4 872.3L172.2 876.3L173 879.6L173.9 883.1L174.7 886.7L175.6 890.7L176.4 894.9L177.2 899.3L178.1 904.1L178.9 909.1L179.8 914.6L180.6 920.4L181.4 926.6L182.3 933.4L183.1 940.7L183.9 948.8L184.8 958L185.6 968.2L186.5 979.6L187.3 992.1L188.1 1005.7L189 1021.1L189.8 1038.7L190.7 1058.3L191.5 1079.3L192.3 1103.5L193.2 1132.9L194 1170.2L194.9 1221.4L195.7 1305.9L196.5 1476.3L197.4 1212.1L198.2 1135L199 1091.3L199.9 1061.6L200.7 1040.1L201.6 1024.1L202.4 1012.2L203.2 1003.6L204.1 997.9L204.9 994.8L205.8 994L206.6 994.3L207.4 994.9L208.3 995.9L209.1 997.4L209.9 999.2L210.8 1001.4L211.6 1004.1L212.5 1007.2L213.3 1010.7L214.1 1014.8L215 1019.5L215.8 1024.7L216.7 1030.6L217.5 1037.2L218.3 1044.6L219.2 1052.9L220 1062.3L220.9 1073L221.7 1085.2L222.5 1099.4L223.4 1115.9L224.2 1135.8L225 1160.5L225.9 1192.5L226.7 1238L227.6 1316.1L228.4 1476.3L229.2 1308.4L230.1 1230.4L230.9 1185L231.8 1153.1L232.6 1128.7L233.4 1109L234.3 1092.6L235.1 1078.8L236 1066.9L236.8 1056.5L237.6 1047.5L238.5 1039.6L239.3 1032.7L240.1 1026.6L241 1021.3L241.8 1016.7L242.7 1012.8L243.5 1009.4L244.3 1006.7L245.2 1004.4L246 1002.7L246.9 1001.5L247.7 1000.7L248.5 1000.5L249.4 1001L250.2 1002.7L251 1005.5L251.9 1009.4L252.7 1014.7L253.6 1021.3L254.4 1029.6L255.2 1039.6L256.1 1051.9L256.9 1066.9L257.8 1085.4L258.6 1109L259.4 1140.2L260.3 1185L261.1 1262.8L262 1476.3L262.8 1276.7L263.6 1198.7L264.5 1153.3L265.3 1121.5L266.1 1097.1L267 1077.5L267.8 1061.3L268.7 1047.5L269.5 1035.8L270.3 1025.7L271.2 1016.8L272 1009.2L272.9 1002.5L273.7 996.7L274.5 991.7L275.4 987.4L276.2 983.8L277.1 980.8L277.9 978.4L278.7 976.6L279.6 975.4L280.4 974.7L281.2 974.5L282.1 975.4L282.9 977.6L283.8 981.1L284.6 986.1L285.4 992.6L286.3 1000.9L287.1 1011.3L288 1024.1L288.8 1040L289.6 1060L290.5 1085.9L291.3 1121.3L292.1 1175.2L293 1285.5L293.8 1457.2L294.7 1316L295.5 1255.7L296.3 1217.2L297.2 1189.1L298 1167.4L298.9 1149.8L299.7 1135.4L300.5 1123.3L301.4 1113.1L302.2 1104.6L303.1 1097.4L303.9 1091.4L304.7 1086.5L305.6 1082.6L306.4 1079.6L307.2 1077.6L308.1 1076.3L308.9 1075.9L309.8 1076.3L310.6 1077.6L311.4 1079.8L312.3 1082.9L313.1 1087L314 1092.1L314.8 1098.4L315.6 1106L316.5 1115L317.3 1125.8L318.1 1138.7L319 1154.2L319.8 1173.2L320.7 1197L321.5 1228.5L322.3 1273.6L323.2 1351.4L324 1476.3L324.9 1375.3L325.7 1297.4L326.5 1252.1L327.4 1220.2L328.2 1195.9L329.1 1176.4L329.9 1160.3L330.7 1146.6L331.6 1135L332.4 1125L333.2 1116.3L334.1 1108.8L334.9 1102.3L335.8 1096.7L336.6 1091.9L337.4 1087.9L338.3 1084.6L339.1 1081.9L340 1079.8L340.8 1078.4L341.6 1077.5L342.5 1077.2L343.3 1077.5L344.1 1078.3L345 1079.6L345.8 1081.5L346.7 1084L347.5 1087.1L348.3 1090.9L349.2 1095.3L350 1100.5L350.9 1106.4L351.7 1113.3L352.5 1121.2L353.4 1130.3L354.2 1140.7L355.1 1152.8L355.9 1167L356.7 1183.8L357.6 1204.2L358.4 1229.8L359.2 1263.7L360.1 1313.2L360.9 1404.5L361.8 1416.2L362.6 1214.3L363.4 1146.6L364.3 1105.6L365.1 1076.7L366 1054.8L366.8 1037.7L367.6 1024.2L368.5 1013.3L369.3 1004.7L370.2 998.1L371 993.2L371.8 989.8L372.7 988L373.5 987.5L374.3 988.9L375.2 992.2L376 997.7L376.9 1005.5L377.7 1016L378.5 1029.7L379.4 1047.5L380.2 1071L381.1 1103.4L381.9 1151.8L382.7 1242.5L383.6 1476.3L384.4 1276.3L385.2 1208.1L386.1 1166.1L386.9 1135.9L387.8 1112.3L388.6 1093.2L389.4 1077.1L390.3 1063.4L391.1 1051.5L392 1041L392.8 1031.8L393.6 1023.6L394.5 1016.3L395.3 1009.8L396.2 1004L397 998.8L397.8 994.3L398.7 990.2L399.5 986.6L400.3 983.5L401.2 980.9L402 978.6L402.9 976.8L403.7 975.3L404.5 974.2L405.4 973.5L406.2 973.1L407.1 973.2L407.9 974.5L408.7 977.1L409.6 980.9L410.4 985.6L411.2 991L412.1 996.7L412.9 1002.2L413.8 1006.9L414.6 1010.4L415.4 1012.5L416.3 1013.3L417.1 1013.5L418 1013.5L418.8 1013.7L419.6 1015L420.5 1017.2L421.3 1019.4L422.2 1020.9L423 1020.7L423.8 1018.5L424.7 1014.3L425.5 1008.7L426.3 1002.4L427.2 996L428 990L428.9 984.7L429.7 980.1L430.5 976.3L431.4 973.3L432.2 971.2L433.1 969.9L433.9 969.3L434.7 969.5L435.6 970.4L436.4 972.1L437.3 974.4L438.1 977.5L438.9 981.4L439.8 986.2L440.6 992L441.4 998.7L442.3 1006.7L443.1 1016L444 1026.9L444.8 1039.8L445.6 1055.1L446.5 1073.6L447.3 1096.6L448.2 1126.4L449 1168.1L449.8 1236.2L450.7 1438.3L451.5 1319.1L452.3 1228L453.2 1178.9L454 1145.7L454.9 1120.9L455.7 1101.5L456.5 1085.8L457.4 1073.1L458.2 1062.6L459.1 1054.1L459.9 1047.1L460.7 1041.6L461.6 1037.4L462.4 1034.4L463.3 1032.5L464.1 1031.7L464.9 1032.2L465.8 1034.2L466.6 1037.7L467.4 1042.9L468.3 1050L469.1 1059.2L470 1070.8L470.8 1085.5L471.6 1104.2L472.5 1128.3L473.3 1161.1L474.2 1209.9L475 1300.8L475.8 1456.9L476.7 1254.7L477.5 1186.6L478.4 1144.8L479.2 1114.8L480 1091.6L480.9 1072.8L481.7 1057.3L482.5 1044.1L483.4 1032.8L484.2 1023.1L485.1 1014.6L485.9 1007.3L486.7 1001L487.6 995.6L488.4 991L489.3 987.1L490.1 983.9L490.9 981.3L491.8 979.4L492.6 978L493.4 977.3L494.3 977.1L495.1 977.7L496 979L496.8 981.2L497.6 984.2L498.5 988.1L499.3 993L500.2 998.9L501 1006L501.8 1014.4L502.7 1024.3L503.5 1036.1L504.4 1050.1L505.2 1067L506 1087.9L506.9 1114.5L507.7 1150.4L508.5 1204.7L509.4 1315.1L510.2 1382L511.1 1240.8L511.9 1180.4L512.7 1141.7L513.6 1113.3L514.4 1091.1L515.3 1073L516.1 1057.9L516.9 1045L517.8 1033.8L518.6 1024.1L519.4 1015.7L520.3 1008.2L521.1 1001.7L522 996L522.8 991L523.6 986.6L524.5 982.8L525.3 979.6L526.2 977L527 974.8L527.8 973.1L528.7 971.8L529.5 971L530.4 970.6L531.2 970.7L532 971.1L532.9 971.8L533.7 972.9L534.5 974.4L535.4 976.3L536.2 978.5L537.1 981.1L537.9 984.1L538.7 987.5L539.6 991.4L540.4 995.8L541.3 1000.7L542.1 1006.1L542.9 1012.1L543.8 1018.8L544.6 1026.2L545.4 1034.4L546.3 1043.6L547.1 1054L548 1065.7L548.8 1079L549.6 1094.4L550.5 1112.6L551.3 1134.5L552.2 1162L553 1198.7L553.8 1253.5L554.7 1364.4L555.5 1468.3L556.4 1328.9L557.2 1272.2L558 1239.2L558.9 1218.7L559.7 1206.6L560.5 1201.2L561.4 1201.7L562.2 1207.9L563.1 1220.4L563.9 1240.5L564.7 1271.9L565.6 1323.2L566.4 1432.3L567.3 1406.8L568.1 1265.7L568.9 1205.3L569.8 1166.6L570.6 1138.2L571.5 1115.8L572.3 1097.6L573.1 1082.2L574 1069L574.8 1057.5L575.6 1047.4L576.5 1038.4L577.3 1030.5L578.2 1023.3L579 1016.9L579.8 1011.2L580.7 1006L581.5 1001.4L582.4 997.2L583.2 993.5L584 990.1L584.9 987.2L585.7 984.6L586.5 982.3L587.4 980.4L588.2 978.7L589.1 977.4L589.9 976.3L590.7 975.5L591.6 974.9L592.4 974.6L593.3 974.5L594.1 974.7L594.9 975.2L595.8 975.9L596.6 976.9L597.5 978.1L598.3 979.6L599.1 981.4L600 983.5L600.8 985.8L601.6 988.4L602.5 991.3L603.3 994.5L604.2 998L605 1001.8L605.8 1006L606.7 1010.5L607.5 1015.4L608.4 1020.8L609.2 1026.5L610 1032.8L610.9 1039.6L611.7 1047L612.5 1055.1L613.4 1064L614.2 1073.7L615.1 1084.5L615.9 1096.5L616.7 1110.1L617.6 1125.7L618.4 1143.7L619.3 1165.3L620.1 1191.9L620.9 1226.6L621.8 1276.9L622.6 1368.9L623.5 1476.3L624.3 1402.1L625.1 1334.3L626 1292.8L626.8 1263L627.6 1239.9L628.5 1221.2L629.3 1205.5L630.2 1192.1L631 1180.6L631.8 1170.4L632.7 1161.5L633.5 1153.5L634.4 1146.4L635.2 1140.1L636 1134.4L636.9 1129.2L637.7 1124.6L638.6 1120.5L639.4 1116.7L640.2 1113.4L641.1 1110.4L641.9 1107.8L642.7 1105.4L643.6 1103.4L644.4 1101.6L645.3 1100.1L646.1 1098.8L646.9 1097.7L647.8 1096.9L648.6 1096.2L649.5 1095.8L650.3 1095.5L651.1 1095.4L652 1095.5L652.8 1095.8L653.6 1096.4L654.5 1097.1L655.3 1098.1L656.2 1099.2L657 1100.5L657.8 1102L658.7 1103.7L659.5 1105.6L660.4 1107.6L661.2 1109.8L662 1112.2L662.9 1114.8L663.7 1117.5L664.6 1120.4L665.4 1123.4L666.2 1126.7L667.1 1130.1L667.9 1133.6L668.7 1137.4L669.6 1141.3L670.4 1145.4L671.3 1149.7L672.1 1154.2L672.9 1158.8L673.8 1163.7L674.6 1168.8L675.5 1174.1L676.3 1179.6L677.1 1185.4L678 1191.4L678.8 1197.7L679.6 1204.2L680.5 1211.1L681.3 1218.2L682.2 1225.8L683 1233.7L683.8 1242L684.7 1250.7L685.5 1260L686.4 1269.9L687.2 1280.4L688 1291.6L688.9 1303.7L689.7 1316.7L690.6 1331L691.4 1346.8L692.2 1364.4L693.1 1384.4L693.9 1407.7L694.7 1435.6L695.6 1470.9L696.4 1476.3L730 1476.3L730.8 1470.9L731.7 1435.6L732.5 1407.7L733.3 1384.4L734.2 1364.4L735 1346.8L735.8 1331L736.7 1316.7L737.5 1303.7L738.4 1291.6L739.2 1280.4L740 1269.9L740.9 1260L741.7 1250.7L742.6 1242L743.4 1233.7L744.2 1225.8L745.1 1218.2L745.9 1211.1L746.8 1204.2L747.6 1197.7L748.4 1191.4L749.3 1185.4L750.1 1179.6L750.9 1174.1L751.8 1168.8L752.6 1163.7L753.5 1158.8L754.3 1154.2L755.1 1149.7L756 1145.4L756.8 1141.3L757.7 1137.4L758.5 1133.6L759.3 1130.1L760.2 1126.7L761 1123.4L761.8 1120.4L762.7 1117.5L763.5 1114.8L764.4 1112.2L765.2 1109.8L766 1107.6L766.9 1105.6L767.7 1103.7L768.6 1102L769.4 1100.5L770.2 1099.2L771.1 1098.1L771.9 1097.1L772.8 1096.4L773.6 1095.8L774.4 1095.5L775.3 1095.4L776.1 1095.5L776.9 1095.8L777.8 1096.2L778.6 1096.9L779.5 1097.7L780.3 1098.8L781.1 1100.1L782 1101.6L782.8 1103.4L783.7 1105.4L784.5 1107.8L785.3 1110.4L786.2 1113.4L787 1116.7L787.8 1120.5L788.7 1124.6L789.5 1129.2L790.4 1134.4L791.2 1140.1L792 1146.4L792.9 1153.5L793.7 1161.5L794.6 1170.4L795.4 1180.6L796.2 1192.1L797.1 1205.5L797.9 1221.2L798.8 1239.9L799.6 1263L800.4 1292.8L801.3 1334.3L802.1 1402.1L802.9 1476.3L803.8 1368.9L804.6 1276.9L805.5 1226.6L806.3 1191.9L807.1 1165.3L808 1143.7L808.8 1125.7L809.7 1110.1L810.5 1096.5L811.3 1084.5L812.2 1073.7L813 1064L813.8 1055.1L814.7 1047L815.5 1039.6L816.4 1032.8L817.2 1026.5L818 1020.8L818.9 1015.4L819.7 1010.5L820.6 1006L821.4 1001.8L822.2 998L823.1 994.5L823.9 991.3L824.8 988.4L825.6 985.8L826.4 983.5L827.3 981.4L828.1 979.6L828.9 978.1L829.8 976.9L830.6 975.9L831.5 975.2L832.3 974.7L833.1 974.5L834 974.6L834.8 974.9L835.7 975.5L836.5 976.3L837.3 977.4L838.2 978.7L839 980.4L839.9 982.3L840.7 984.6L841.5 987.2L842.4 990.1L843.2 993.5L844 997.2L844.9 1001.4L845.7 1006L846.6 1011.2L847.4 1016.9L848.2 1023.3L849.1 1030.5L849.9 1038.4L850.8 1047.4L851.6 1057.5L852.4 1069L853.3 1082.2L854.1 1097.6L854.9 1115.8L855.8 1138.2L856.6 1166.6L857.5 1205.3L858.3 1265.7L859.1 1406.8L860 1432.3L860.8 1323.2L861.7 1271.9L862.5 1240.5L863.3 1220.4L864.2 1207.9L865 1201.7L865.9 1201.2L866.7 1206.6L867.5 1218.7L868.4 1239.2L869.2 1272.2L870 1328.9L870.9 1468.3L871.7 1364.4L872.6 1253.5L873.4 1198.7L874.2 1162L875.1 1134.5L875.9 1112.6L876.8 1094.4L877.6 1079L878.4 1065.7L879.3 1054L880.1 1043.6L880.9 1034.4L881.8 1026.2L882.6 1018.8L883.5 1012.1L884.3 1006.1L885.1 1000.7L886 995.8L886.8 991.4L887.7 987.5L888.5 984.1L889.3 981.1L890.2 978.5L891 976.3L891.9 974.4L892.7 972.9L893.5 971.8L894.4 971.1L895.2 970.7L896 970.6L896.9 971L897.7 971.8L898.6 973.1L899.4 974.8L900.2 977L901.1 979.6L901.9 982.8L902.8 986.6L903.6 991L904.4 996L905.3 1001.7L906.1 1008.2L907 1015.7L907.8 1024.1L908.6 1033.8L909.5 1045L910.3 1057.9L911.1 1073L912 1091.1L912.8 1113.3L913.7 1141.7L914.5 1180.4L915.3 1240.8L916.2 1382L917 1315.1L917.9 1204.7L918.7 1150.4L919.5 1114.5L920.4 1087.9L921.2 1067L922 1050.1L922.9 1036.1L923.7 1024.3L924.6 1014.4L925.4 1006L926.2 998.9L927.1 993L927.9 988.1L928.8 984.2L929.6 981.2L930.4 979L931.3 977.7L932.1 977.1L933 977.3L933.8 978L934.6 979.4L935.5 981.3L936.3 983.9L937.1 987.1L938 991L938.8 995.6L939.7 1001L940.5 1007.3L941.3 1014.6L942.2 1023.1L943 1032.8L943.9 1044.1L944.7 1057.3L945.5 1072.8L946.4 1091.6L947.2 1114.8L948 1144.8L948.9 1186.6L949.7 1254.7L950.6 1456.9L951.4 1300.8L952.2 1209.9L953.1 1161.1L953.9 1128.3L954.8 1104.2L955.6 1085.5L956.4 1070.8L957.3 1059.2L958.1 1050L959 1042.9L959.8 1037.7L960.6 1034.2L961.5 1032.2L962.3 1031.7L963.1 1032.5L964 1034.4L964.8 1037.4L965.7 1041.6L966.5 1047.1L967.3 1054.1L968.2 1062.6L969 1073.1L969.9 1085.8L970.7 1101.5L971.5 1120.9L972.4 1145.7L973.2 1178.9L974.1 1228L974.9 1319.1L975.7 1438.3L976.6 1236.2L977.4 1168.1L978.2 1126.4L979.1 1096.6L979.9 1073.6L980.8 1055.1L981.6 1039.8L982.4 1026.9L983.3 1016L984.1 1006.7L985 998.7L985.8 992L986.6 986.2L987.5 981.4L988.3 977.5L989.1 974.4L990 972.1L990.8 970.4L991.7 969.5L992.5 969.3L993.3 969.9L994.2 971.2L995 973.3L995.9 976.3L996.7 980.1L997.5 984.7L998.4 990L999.2 996L1000.1 1002.4L1000.9 1008.7L1001.7 1014.3L1002.6 1018.5L1003.4 1020.7L1004.2 1020.9L1005.1 1019.4L1005.9 1017.2L1006.8 1015L1007.6 1013.7L1008.4 1013.5L1009.3 1013.5L1010.1 1013.3L1011 1012.5L1011.8 1010.4L1012.6 1006.9L1013.5 1002.2L1014.3 996.7L1015.1 991L1016 985.6L1016.8 980.9L1017.7 977.1L1018.5 974.5L1019.3 973.2L1020.2 973.1L1021 973.5L1021.9 974.2L1022.7 975.3L1023.5 976.8L1024.4 978.6L1025.2 980.9L1026.1 983.5L1026.9 986.6L1027.7 990.2L1028.6 994.3L1029.4 998.8L1030.2 1004L1031.1 1009.8L1031.9 1016.3L1032.8 1023.6L1033.6 1031.8L1034.4 1041L1035.3 1051.5L1036.1 1063.4L1037 1077.1L1037.8 1093.2L1038.6 1112.3L1039.5 1135.9L1040.3 1166.1L1041.2 1208.1L1042 1276.3L1042.8 1476.3L1043.7 1242.5L1044.5 1151.8L1045.3 1103.4L1046.2 1071L1047 1047.5L1047.9 1029.7L1048.7 1016L1049.5 1005.5L1050.4 997.7L1051.2 992.2L1052.1 988.9L1052.9 987.5L1053.7 988L1054.6 989.8L1055.4 993.2L1056.2 998.1L1057.1 1004.7L1057.9 1013.3L1058.8 1024.2L1059.6 1037.7L1060.4 1054.8L1061.3 1076.7L1062.1 1105.6L1063 1146.6L1063.8 1214.3L1064.6 1416.2L1065.5 1404.5L1066.3 1313.2L1067.2 1263.7L1068 1229.8L1068.8 1204.2L1069.7 1183.8L1070.5 1167L1071.3 1152.8L1072.2 1140.7L1073 1130.3L1073.9 1121.2L1074.7 1113.3L1075.5 1106.4L1076.4 1100.5L1077.2 1095.3L1078.1 1090.9L1078.9 1087.1L1079.7 1084L1080.6 1081.5L1081.4 1079.6L1082.2 1078.3L1083.1 1077.5L1083.9 1077.2L1084.8 1077.5L1085.6 1078.4L1086.4 1079.8L1087.3 1081.9L1088.1 1084.6L1089 1087.9L1089.8 1091.9L1090.6 1096.7L1091.5 1102.3L1092.3 1108.8L1093.2 1116.3L1094 1125L1094.8 1135L1095.7 1146.6L1096.5 1160.3L1097.3 1176.4L1098.2 1195.9L1099 1220.2L1099.9 1252.1L1100.7 1297.4L1101.5 1375.3L1102.4 1476.3L1103.2 1351.4L1104.1 1273.6L1104.9 1228.5L1105.7 1197L1106.6 1173.2L1107.4 1154.2L1108.3 1138.7L1109.1 1125.8L1109.9 1115L1110.8 1106L1111.6 1098.4L1112.4 1092.1L1113.3 1087L1114.1 1082.9L1115 1079.8L1115.8 1077.6L1116.6 1076.3L1117.5 1075.9L1118.3 1076.3L1119.2 1077.6L1120 1079.6L1120.8 1082.6L1121.7 1086.5L1122.5 1091.4L1123.3 1097.4L1124.2 1104.6L1125 1113.1L1125.9 1123.3L1126.7 1135.4L1127.5 1149.8L1128.4 1167.4L1129.2 1189.1L1130.1 1217.2L1130.9 1255.7L1131.7 1316L1132.6 1457.2L1133.4 1285.5L1134.3 1175.2L1135.1 1121.3L1135.9 1085.9L1136.8 1060L1137.6 1040L1138.4 1024.1L1139.3 1011.3L1140.1 1000.9L1141 992.6L1141.8 986.1L1142.6 981.1L1143.5 977.6L1144.3 975.4L1145.2 974.5L1146 974.7L1146.8 975.4L1147.7 976.6L1148.5 978.4L1149.3 980.8L1150.2 983.8L1151 987.4L1151.9 991.7L1152.7 996.7L1153.5 1002.5L1154.4 1009.2L1155.2 1016.8L1156.1 1025.7L1156.9 1035.8L1157.7 1047.5L1158.6 1061.3L1159.4 1077.5L1160.3 1097.1L1161.1 1121.5L1161.9 1153.3L1162.8 1198.7L1163.6 1276.7L1164.4 1476.3L1165.3 1262.8L1166.1 1185L1167 1140.2L1167.8 1109L1168.6 1085.4L1169.5 1066.9L1170.3 1051.9L1171.2 1039.6L1172 1029.6L1172.8 1021.3L1173.7 1014.7L1174.5 1009.4L1175.4 1005.5L1176.2 1002.7L1177 1001L1177.9 1000.5L1178.7 1000.7L1179.5 1001.5L1180.4 1002.7L1181.2 1004.4L1182.1 1006.7L1182.9 1009.4L1183.7 1012.8L1184.6 1016.7L1185.4 1021.3L1186.3 1026.6L1187.1 1032.7L1187.9 1039.6L1188.8 1047.5L1189.6 1056.5L1190.4 1066.9L1191.3 1078.8L1192.1 1092.6L1193 1109L1193.8 1128.7L1194.6 1153.1L1195.5 1185L1196.3 1230.4L1197.2 1308.4L1198 1476.3L1198.8 1316.1L1199.7 1238L1200.5 1192.5L1201.4 1160.5L1202.2 1135.8L1203 1115.9L1203.9 1099.4L1204.7 1085.2L1205.5 1073L1206.4 1062.3L1207.2 1052.9L1208.1 1044.6L1208.9 1037.2L1209.7 1030.6L1210.6 1024.7L1211.4 1019.5L1212.3 1014.8L1213.1 1010.7L1213.9 1007.2L1214.8 1004.1L1215.6 1001.4L1216.5 999.2L1217.3 997.4L1218.1 995.9L1219 994.9L1219.8 994.3L1220.6 994L1221.5 994.8L1222.3 997.9L1223.2 1003.6L1224 1012.2L1224.8 1024.1L1225.7 1040.1L1226.5 1061.6L1227.4 1091.3L1228.2 1135L1229 1212.1L1229.9 1476.3L1230.7 1305.9L1231.5 1221.4L1232.4 1170.2L1233.2 1132.9L1234.1 1103.5L1234.9 1079.3L1235.7 1058.3L1236.6 1038.7L1237.4 1021.1L1238.3 1005.7L1239.1 992.1L1239.9 979.6L1240.8 968.2L1241.6 958L1242.5 948.8L1243.3 940.7L1244.1 933.4L1245 926.6L1245.8 920.4L1246.6 914.6L1247.5 909.1L1248.3 904.1L1249.2 899.3L1250 894.9L1250.8 890.7L1251.7 886.7L1252.5 883.1L1253.4 879.6L1254.2 876.3L1255 872.3L1255.9 868.4L1256.7 864.7L1257.5 861.2L1258.4 858L1259.2 854.9L1260.1 852L1260.9 849.4L1261.7 846.8L1262.6 844.4L1263.4 842.2L1264.3 840.1L1265.1 838.1L1265.9 836.2L1266.8 834.5L1267.6 832.8L1268.5 831.3L1269.3 829.8L1270.1 828.4L1271 827.1L1271.8 825.9L1272.6 824.8L1273.5 823.7L1274.3 822.7L1275.2 821.7L1276 820.9L1276.8 820L1277.7 819.3L1278.5 818.5L1279.4 817.9L1280.2 817.2L1281 816.6L1281.9 816.1L1282.7 815.6L1283.5 815.1L1284.4 814.7L1285.2 814.3L1286.1 813.9L1286.9 813.6L1287.7 813.3L1288.6 813L1289.4 812.7L1290.3 812.5L1291.1 812.3L1291.9 812.1L1292.8 811.9L1293.6 811.8L1294.5 811.6L1295.3 811.5L1296.1 811.4L1297 811.3L1297.8 811.2L1298.6 811.1L1299.5 811L1300.3 811L1301.2 810.9L1302 810.9L1302.8 810.8L1303.7 810.8L1304.5 810.8L1305.4 810.8L1306.2 810.7L1307 810.7L1307.9 810.7L1308.7 810.7L1309.6 810.7L1310.4 810.7L1311.2 810.7L1312.1 810.7L1312.9 810.7L1313.7 810.7L1314.6 810.7L1315.4 810.7L1316.3 810.7L1317.1 810.7" stroke="#00FF00" stroke-width="4.6" stroke-dasharray="17.5,17"/>
<path d="M109.3 810.7L110.1 810.7L111 810.7L111.8 810.7L112.7 810.7L113.5 810.7L114.3 810.7L115.2 810.7L116 810.7L116.8 810.7L117.7 810.7L118.5 810.7L119.4 810.7L120.2 810.7L121 810.7L121.9 810.7L122.7 810.7L123.6 810.7L124.4 810.8L125.2 810.8L126.1 810.8L126.9 810.8L127.8 810.8L128.6 810.8L129.4 810.9L130.3 810.9L131.1 810.9L131.9 811L132.8 811L133.6 811L134.5 811.1L135.3 811.1L136.1 811.2L137 811.3L137.8 811.3L138.7 811.4L139.5 811.5L140.3 811.6L141.2 811.7L142 811.8L142.8 811.9L143.7 812.1L144.5 812.2L145.4 812.3L146.2 812.5L147 812.7L147.9 812.9L148.7 813.1L149.6 813.3L150.4 813.5L151.2 813.7L152.1 814L152.9 814.2L153.8 814.5L154.6 814.8L155.4 815.1L156.3 815.5L157.1 815.8L157.9 816.2L158.8 816.6L159.6 817L160.5 817.5L161.3 817.9L162.1 818.4L163 818.9L163.8 819.5L164.7 820L165.5 820.6L166.3 821.3L167.2 821.9L168 822.6L168.9 823.3L169.7 824.1L170.5 824.9L171.4 825.7L172.2 826.6L173 827.5L173.9 828.5L174.7 829.5L175.6 830.5L176.4 831.6L177.2 832.7L178.1 833.9L178.9 835.2L179.8 836.5L180.6 837.8L181.4 839.2L182.3 840.7L183.1 842.3L183.9 843.9L184.8 845.6L185.6 847.4L186.5 849.2L187.3 851.1L188.1 853.2L189 855.3L189.8 857.5L190.7 859.8L191.5 862.3L192.3 864.8L193.2 867.5L194 870.3L194.9 873.2L195.7 876.6L196.5 880.9L197.4 885.4L198.2 890.1L199 894.9L199.9 899.9L200.7 905.1L201.6 910.4L202.4 915.8L203.2 921.5L204.1 927.3L204.9 933.3L205.8 939.4L206.6 945.8L207.4 952.4L208.3 959.2L209.1 966.3L209.9 973.6L210.8 981.1L211.6 989L212.5 997.2L213.3 1005.7L214.1 1014.6L215 1024L215.8 1033.8L216.7 1044.1L217.5 1054.9L218.3 1066.1L219.2 1077.8L220 1090.6L220.9 1104.8L221.7 1120.5L222.5 1138.2L223.4 1158.4L224.2 1182L225 1210.5L225.9 1246.6L226.7 1296.2L227.6 1378.7L228.4 1476.3L229.2 1407.3L230.1 1329.5L230.9 1284.4L231.8 1252.9L232.6 1229.1L233.4 1210.1L234.3 1194.6L235.1 1181.7L236 1170.9L236.8 1161.9L237.6 1154.3L238.5 1148L239.3 1142.9L240.1 1138.8L241 1135.7L241.8 1133.5L242.7 1132.2L243.5 1131.8L244.3 1132L245.2 1132.6L246 1133.6L246.9 1134.9L247.7 1136.7L248.5 1138.9L249.4 1141.6L250.2 1144.7L251 1148.3L251.9 1152.4L252.7 1157.1L253.6 1162.4L254.4 1168.3L255.2 1175L256.1 1182.6L256.9 1191.1L257.8 1200.7L258.6 1211.6L259.4 1224.1L260.3 1238.7L261.1 1255.8L262 1276.5L262.8 1302.3L263.6 1336.4L264.5 1386L265.3 1476.3L267 1476.3L267.8 1429L268.7 1390.7L269.5 1365.6L270.3 1348.7L271.2 1337.9L272 1332.1L272.9 1330.8L273.7 1333.9L274.5 1341.6L275.4 1354.6L276.2 1374.4L277.1 1404L277.9 1450.5L278.7 1476.3L279.6 1476.3L280.4 1409.4L281.2 1341.3L282.1 1299.5L282.9 1269.5L283.8 1246.3L284.6 1227.5L285.4 1212L286.3 1198.8L287.1 1187.5L288 1177.8L288.8 1169.3L289.6 1162L290.5 1155.7L291.3 1150.3L292.1 1145.7L293 1141.8L293.8 1138.6L294.7 1136L295.5 1134.1L296.3 1132.7L297.2 1132L298 1131.8L298.9 1132.1L299.7 1132.8L300.5 1134L301.4 1135.6L302.2 1137.6L303.1 1140.2L303.9 1143.2L304.7 1146.7L305.6 1150.8L306.4 1155.5L307.2 1160.9L308.1 1166.9L308.9 1173.8L309.8 1181.5L310.6 1190.3L311.4 1200.3L312.3 1211.7L313.1 1224.9L314 1240.3L314.8 1258.6L315.6 1281L316.5 1309.6L317.3 1348.5L318.1 1409.1L319 1476.3L319.8 1476.3L320.7 1371.3L321.5 1316.8L322.3 1280.6L323.2 1253.6L324 1232.3L324.9 1214.8L325.7 1200.2L326.5 1187.6L327.4 1176.8L328.2 1167.4L329.1 1159.2L329.9 1152.1L330.7 1145.8L331.6 1140.4L332.4 1135.8L333.2 1131.8L334.1 1128.4L334.9 1125.7L335.8 1123.5L336.6 1121.8L337.4 1120.7L338.3 1120.1L339.1 1120L340 1120.3L340.8 1120.9L341.6 1121.7L342.5 1122.9L343.3 1124.4L344.1 1126.2L345 1128.3L345.8 1130.6L346.7 1133.3L347.5 1136.3L348.3 1139.6L349.2 1143.2L350 1147L350.9 1151L351.7 1155.3L352.5 1159.8L353.4 1164.4L354.2 1169.1L355.1 1173.8L355.9 1178.5L356.7 1183.1L357.6 1187.4L358.4 1191.5L359.2 1195.1L360.1 1198.3L360.9 1200.9L361.8 1202.8L362.6 1204.1L363.4 1204.6L364.3 1204.4L365.1 1203.5L366 1201.9L366.8 1199.6L367.6 1196.8L368.5 1193.4L369.3 1189.7L370.2 1185.6L371 1181.2L371.8 1176.6L372.7 1172L373.5 1167.3L374.3 1162.7L375.2 1158.2L376 1153.8L376.9 1149.6L377.7 1145.7L378.5 1142L379.4 1138.6L380.2 1135.4L381.1 1132.5L381.9 1129.9L382.7 1127.7L383.6 1125.7L384.4 1124L385.2 1122.6L386.1 1121.5L386.9 1120.7L387.8 1120.2L388.6 1120L389.4 1120.2L390.3 1120.7L391.1 1121.7L392 1123L392.8 1124.8L393.6 1127L394.5 1129.7L395.3 1132.7L396.2 1136.2L397 1140L397.8 1144.1L398.7 1148.5L399.5 1153L400.3 1157.4L401.2 1161.6L402 1165.2L402.9 1168.2L403.7 1170.1L404.5 1171.1L405.4 1171.2L406.2 1170.5L407.1 1169.3L407.9 1168L408.7 1166.8L409.6 1166L410.4 1165.6L411.2 1165.7L412.1 1165.9L412.9 1166.3L413.8 1166.6L414.6 1166.6L415.4 1166.2L416.3 1165.1L417.1 1163.3L418 1160.9L418.8 1157.8L419.6 1154.4L420.5 1150.8L421.3 1147.2L422.2 1143.7L423 1140.6L423.8 1138L424.7 1135.8L425.5 1134.3L426.3 1133.3L427.2 1132.9L428 1133.1L428.9 1133.7L429.7 1134.7L430.5 1136.1L431.4 1137.9L432.2 1140.2L433.1 1142.9L433.9 1146.1L434.7 1149.9L435.6 1154.2L436.4 1159.1L437.3 1164.6L438.1 1170.9L438.9 1178L439.8 1186L440.6 1195L441.4 1205.3L442.3 1217.1L443.1 1230.7L444 1246.6L444.8 1265.7L445.6 1289.2L446.5 1319.4L447.3 1361.3L448.2 1429.5L449 1476.3L449.8 1441.3L450.7 1350L451.5 1300.8L452.3 1267.1L453.2 1241.9L454 1222L454.9 1205.7L455.7 1192.2L456.5 1180.8L457.4 1171.2L458.2 1163.1L459.1 1156.2L459.9 1150.5L460.7 1145.9L461.6 1142.1L462.4 1139.3L463.3 1137.3L464.1 1136.1L464.9 1135.7L465.8 1136L466.6 1137L467.4 1138.7L468.3 1141.1L469.1 1144.3L470 1148.2L470.8 1153L471.6 1158.6L472.5 1165.3L473.3 1173.1L474.2 1182.2L475 1192.9L475.8 1205.4L476.7 1220.2L477.5 1238.1L478.4 1260.1L479.2 1288.3L480 1327L480.9 1387.4L481.7 1476.3L482.5 1476.3L483.4 1429.7L484.2 1375.9L485.1 1340.8L485.9 1315.2L486.7 1295.6L487.6 1280.2L488.4 1268L489.3 1258.4L490.1 1250.9L490.9 1245.3L491.8 1241.4L492.6 1239.2L493.4 1238.4L494.3 1238.8L495.1 1239.9L496 1241.8L496.8 1244.6L497.6 1248.1L498.5 1252.6L499.3 1258L500.2 1264.5L501 1272.3L501.8 1281.4L502.7 1292.1L503.5 1304.8L504.4 1319.9L505.2 1338.3L506 1361.3L506.9 1391L507.7 1432.6L508.5 1476.3L509.4 1476.3L510.2 1424.3L511.1 1333.6L511.9 1284.9L512.7 1252.2L513.6 1228.1L514.4 1209.5L515.3 1194.8L516.1 1183.1L516.9 1173.8L517.8 1166.6L518.6 1161.1L519.4 1157.3L520.3 1154.9L521.1 1153.9L522 1154.3L522.8 1155.7L523.6 1158.4L524.5 1162.3L525.3 1167.4L526.2 1173.9L527 1182L527.8 1191.9L528.7 1203.9L529.5 1218.5L530.4 1236.5L531.2 1259.1L532 1288.7L532.9 1330.2L533.7 1398.2L534.5 1476.3L535.4 1476.3L536.2 1419L537.1 1369.6L537.9 1335.7L538.7 1310.1L539.6 1289.7L540.4 1272.8L541.3 1258.4L542.1 1246.1L542.9 1235.4L543.8 1226L544.6 1217.8L545.4 1210.4L546.3 1203.9L547.1 1198.1L548 1193L548.8 1188.5L549.6 1184.5L550.5 1181.1L551.3 1178L552.2 1175.5L553 1173.3L553.8 1171.6L554.7 1170.2L555.5 1169.2L556.4 1168.5L557.2 1168.2L558 1168.3L558.9 1169L559.7 1170.4L560.5 1172.4L561.4 1175.2L562.2 1178.6L563.1 1182.7L563.9 1187.7L564.7 1193.4L565.6 1200.1L566.4 1207.9L567.3 1216.8L568.1 1227.1L568.9 1239L569.8 1252.9L570.6 1269.3L571.5 1289.1L572.3 1313.8L573.1 1345.9L574 1391.5L574.8 1469.8L575.6 1476.3L576.5 1471.7L577.3 1393.9L578.2 1348.8L579 1317.1L579.8 1292.8L580.7 1273.3L581.5 1257.1L582.4 1243.4L583.2 1231.6L584 1221.4L584.9 1212.4L585.7 1204.5L586.5 1197.5L587.4 1191.4L588.2 1185.9L589.1 1181.1L589.9 1176.9L590.7 1173.2L591.6 1170L592.4 1167.3L593.3 1165L594.1 1163.1L594.9 1161.6L595.8 1160.4L596.6 1159.6L597.5 1159.2L598.3 1159.1L599.1 1159.4L600 1160L600.8 1160.9L601.6 1162.2L602.5 1163.8L603.3 1165.8L604.2 1168.1L605 1170.8L605.8 1173.9L606.7 1177.4L607.5 1181.2L608.4 1185.5L609.2 1190.2L610 1195.4L610.9 1201.2L611.7 1207.5L612.5 1214.4L613.4 1222L614.2 1230.4L615.1 1239.7L615.9 1250L616.7 1261.5L617.6 1274.6L618.4 1289.5L619.3 1306.9L620.1 1327.5L620.9 1352.8L621.8 1385.5L622.6 1431.6L623.5 1476.3L624.3 1476.3L625.1 1469.3L626 1391.7L626.8 1346.6L627.6 1315L628.5 1290.8L629.3 1271.2L630.2 1255L631 1241.1L631.8 1229.2L632.7 1218.7L633.5 1209.4L634.4 1201.2L635.2 1193.8L636 1187.2L636.9 1181.3L637.7 1175.9L638.6 1171L639.4 1166.6L640.2 1162.7L641.1 1159.1L641.9 1155.9L642.7 1153L643.6 1150.4L644.4 1148L645.3 1146L646.1 1144.2L646.9 1142.6L647.8 1141.3L648.6 1140.1L649.5 1139.1L650.3 1138.4L651.1 1137.8L652 1137.4L652.8 1137.1L653.6 1137L654.5 1137.1L655.3 1137.4L656.2 1137.9L657 1138.6L657.8 1139.6L658.7 1140.7L659.5 1142.1L660.4 1143.6L661.2 1145.3L662 1147.2L662.9 1149.3L663.7 1151.6L664.6 1154L665.4 1156.6L666.2 1159.4L667.1 1162.3L667.9 1165.5L668.7 1168.8L669.6 1172.3L670.4 1175.9L671.3 1179.7L672.1 1183.8L672.9 1187.9L673.8 1192.3L674.6 1196.9L675.5 1201.7L676.3 1206.6L677.1 1211.8L678 1217.2L678.8 1222.8L679.6 1228.6L680.5 1234.7L681.3 1241L682.2 1247.7L683 1254.6L683.8 1261.8L684.7 1269.3L685.5 1277.2L686.4 1285.5L687.2 1294.2L688 1303.4L688.9 1313.1L689.7 1323.4L690.6 1334.4L691.4 1346.1L692.2 1358.7L693.1 1372.3L693.9 1387.1L694.7 1403.4L695.6 1421.6L696.4 1442.3L697.3 1466.2L698.1 1476.3L728.3 1476.3L729.1 1466.2L730 1442.3L730.8 1421.6L731.7 1403.4L732.5 1387.1L733.3 1372.3L734.2 1358.7L735 1346.1L735.8 1334.4L736.7 1323.4L737.5 1313.1L738.4 1303.4L739.2 1294.2L740 1285.5L740.9 1277.2L741.7 1269.3L742.6 1261.8L743.4 1254.6L744.2 1247.7L745.1 1241L745.9 1234.7L746.8 1228.6L747.6 1222.8L748.4 1217.2L749.3 1211.8L750.1 1206.6L750.9 1201.7L751.8 1196.9L752.6 1192.3L753.5 1187.9L754.3 1183.8L755.1 1179.7L756 1175.9L756.8 1172.3L757.7 1168.8L758.5 1165.5L759.3 1162.3L760.2 1159.4L761 1156.6L761.8 1154L762.7 1151.6L763.5 1149.3L764.4 1147.2L765.2 1145.3L766 1143.6L766.9 1142.1L767.7 1140.7L768.6 1139.6L769.4 1138.6L770.2 1137.9L771.1 1137.4L771.9 1137.1L772.8 1137L773.6 1137.1L774.4 1137.4L775.3 1137.8L776.1 1138.4L776.9 1139.1L777.8 1140.1L778.6 1141.3L779.5 1142.6L780.3 1144.2L781.1 1146L782 1148L782.8 1150.4L783.7 1153L784.5 1155.9L785.3 1159.1L786.2 1162.7L787 1166.6L787.8 1171L788.7 1175.9L789.5 1181.3L790.4 1187.2L791.2 1193.8L792 1201.2L792.9 1209.4L793.7 1218.7L794.6 1229.2L795.4 1241.1L796.2 1255L797.1 1271.2L797.9 1290.8L798.8 1315L799.6 1346.6L800.4 1391.7L801.3 1469.3L802.1 1476.3L802.9 1476.3L803.8 1431.6L804.6 1385.5L805.5 1352.8L806.3 1327.5L807.1 1306.9L808 1289.5L808.8 1274.6L809.7 1261.5L810.5 1250L811.3 1239.7L812.2 1230.4L813 1222L813.8 1214.4L814.7 1207.5L815.5 1201.2L816.4 1195.4L817.2 1190.2L818 1185.5L818.9 1181.2L819.7 1177.4L820.6 1173.9L821.4 1170.8L822.2 1168.1L823.1 1165.8L823.9 1163.8L824.8 1162.2L825.6 1160.9L826.4 1160L827.3 1159.4L828.1 1159.1L828.9 1159.2L829.8 1159.6L830.6 1160.4L831.5 1161.6L832.3 1163.1L833.1 1165L834 1167.3L834.8 1170L835.7 1173.2L836.5 1176.9L837.3 1181.1L838.2 1185.9L839 1191.4L839.9 1197.5L840.7 1204.5L841.5 1212.4L842.4 1221.4L843.2 1231.6L844 1243.4L844.9 1257.1L845.7 1273.3L846.6 1292.8L847.4 1317.1L848.2 1348.8L849.1 1393.9L849.9 1471.7L850.8 1476.3L851.6 1469.8L852.4 1391.5L853.3 1345.9L854.1 1313.8L854.9 1289.1L855.8 1269.3L856.6 1252.9L857.5 1239L858.3 1227.1L859.1 1216.8L860 1207.9L860.8 1200.1L861.7 1193.4L862.5 1187.7L863.3 1182.7L864.2 1178.6L865 1175.2L865.9 1172.4L866.7 1170.4L867.5 1169L868.4 1168.3L869.2 1168.2L870 1168.5L870.9 1169.2L871.7 1170.2L872.6 1171.6L873.4 1173.3L874.2 1175.5L875.1 1178L875.9 1181.1L876.8 1184.5L877.6 1188.5L878.4 1193L879.3 1198.1L880.1 1203.9L880.9 1210.4L881.8 1217.8L882.6 1226L883.5 1235.4L884.3 1246.1L885.1 1258.4L886 1272.8L886.8 1289.7L887.7 1310.1L888.5 1335.7L889.3 1369.6L890.2 1419L891 1476.3L891.9 1476.3L892.7 1398.2L893.5 1330.2L894.4 1288.7L895.2 1259.1L896 1236.5L896.9 1218.5L897.7 1203.9L898.6 1191.9L899.4 1182L900.2 1173.9L901.1 1167.4L901.9 1162.3L902.8 1158.4L903.6 1155.7L904.4 1154.3L905.3 1153.9L906.1 1154.9L907 1157.3L907.8 1161.1L908.6 1166.6L909.5 1173.8L910.3 1183.1L911.1 1194.8L912 1209.5L912.8 1228.1L913.7 1252.2L914.5 1284.9L915.3 1333.6L916.2 1424.3L917 1476.3L917.9 1476.3L918.7 1432.6L919.5 1391L920.4 1361.3L921.2 1338.3L922 1319.9L922.9 1304.8L923.7 1292.1L924.6 1281.4L925.4 1272.3L926.2 1264.5L927.1 1258L927.9 1252.6L928.8 1248.1L929.6 1244.6L930.4 1241.8L931.3 1239.9L932.1 1238.8L933 1238.4L933.8 1239.2L934.6 1241.4L935.5 1245.3L936.3 1250.9L937.1 1258.4L938 1268L938.8 1280.2L939.7 1295.6L940.5 1315.2L941.3 1340.8L942.2 1375.9L943 1429.7L943.9 1476.3L944.7 1476.3L945.5 1387.4L946.4 1327L947.2 1288.3L948 1260.1L948.9 1238.1L949.7 1220.2L950.6 1205.4L951.4 1192.9L952.2 1182.2L953.1 1173.1L953.9 1165.3L954.8 1158.6L955.6 1153L956.4 1148.2L957.3 1144.3L958.1 1141.1L959 1138.7L959.8 1137L960.6 1136L961.5 1135.7L962.3 1136.1L963.1 1137.3L964 1139.3L964.8 1142.1L965.7 1145.9L966.5 1150.5L967.3 1156.2L968.2 1163.1L969 1171.2L969.9 1180.8L970.7 1192.2L971.5 1205.7L972.4 1222L973.2 1241.9L974.1 1267.1L974.9 1300.8L975.7 1350L976.6 1441.3L977.4 1476.3L978.2 1429.5L979.1 1361.3L979.9 1319.4L980.8 1289.2L981.6 1265.7L982.4 1246.6L983.3 1230.7L984.1 1217.1L985 1205.3L985.8 1195L986.6 1186L987.5 1178L988.3 1170.9L989.1 1164.6L990 1159.1L990.8 1154.2L991.7 1149.9L992.5 1146.1L993.3 1142.9L994.2 1140.2L995 1137.9L995.9 1136.1L996.7 1134.7L997.5 1133.7L998.4 1133.1L999.2 1132.9L1000.1 1133.3L1000.9 1134.3L1001.7 1135.8L1002.6 1138L1003.4 1140.6L1004.2 1143.7L1005.1 1147.2L1005.9 1150.8L1006.8 1154.4L1007.6 1157.8L1008.4 1160.9L1009.3 1163.3L1010.1 1165.1L1011 1166.2L1011.8 1166.6L1012.6 1166.6L1013.5 1166.3L1014.3 1165.9L1015.1 1165.7L1016 1165.6L1016.8 1166L1017.7 1166.8L1018.5 1168L1019.3 1169.3L1020.2 1170.5L1021 1171.2L1021.9 1171.1L1022.7 1170.1L1023.5 1168.2L1024.4 1165.2L1025.2 1161.6L1026.1 1157.4L1026.9 1153L1027.7 1148.5L1028.6 1144.1L1029.4 1140L1030.2 1136.2L1031.1 1132.7L1031.9 1129.7L1032.8 1127L1033.6 1124.8L1034.4 1123L1035.3 1121.7L1036.1 1120.7L1037 1120.2L1037.8 1120L1038.6 1120.2L1039.5 1120.7L1040.3 1121.5L1041.2 1122.6L1042 1124L1042.8 1125.7L1043.7 1127.7L1044.5 1129.9L1045.3 1132.5L1046.2 1135.4L1047 1138.6L1047.9 1142L1048.7 1145.7L1049.5 1149.6L1050.4 1153.8L1051.2 1158.2L1052.1 1162.7L1052.9 1167.3L1053.7 1172L1054.6 1176.6L1055.4 1181.2L1056.2 1185.6L1057.1 1189.7L1057.9 1193.4L1058.8 1196.8L1059.6 1199.6L1060.4 1201.9L1061.3 1203.5L1062.1 1204.4L1063 1204.6L1063.8 1204.1L1064.6 1202.8L1065.5 1200.9L1066.3 1198.3L1067.2 1195.1L1068 1191.5L1068.8 1187.4L1069.7 1183.1L1070.5 1178.5L1071.3 1173.8L1072.2 1169.1L1073 1164.4L1073.9 1159.8L1074.7 1155.3L1075.5 1151L1076.4 1147L1077.2 1143.2L1078.1 1139.6L1078.9 1136.3L1079.7 1133.3L1080.6 1130.6L1081.4 1128.3L1082.2 1126.2L1083.1 1124.4L1083.9 1122.9L1084.8 1121.7L1085.6 1120.9L1086.4 1120.3L1087.3 1120L1088.1 1120.1L1089 1120.7L1089.8 1121.8L1090.6 1123.5L1091.5 1125.7L1092.3 1128.4L1093.2 1131.8L1094 1135.8L1094.8 1140.4L1095.7 1145.8L1096.5 1152.1L1097.3 1159.2L1098.2 1167.4L1099 1176.8L1099.9 1187.6L1100.7 1200.2L1101.5 1214.8L1102.4 1232.3L1103.2 1253.6L1104.1 1280.6L1104.9 1316.8L1105.7 1371.3L1106.6 1476.3L1107.4 1476.3L1108.3 1409.1L1109.1 1348.5L1109.9 1309.6L1110.8 1281L1111.6 1258.6L1112.4 1240.3L1113.3 1224.9L1114.1 1211.7L1115 1200.3L1115.8 1190.3L1116.6 1181.5L1117.5 1173.8L1118.3 1166.9L1119.2 1160.9L1120 1155.5L1120.8 1150.8L1121.7 1146.7L1122.5 1143.2L1123.3 1140.2L1124.2 1137.6L1125 1135.6L1125.9 1134L1126.7 1132.8L1127.5 1132.1L1128.4 1131.8L1129.2 1132L1130.1 1132.7L1130.9 1134.1L1131.7 1136L1132.6 1138.6L1133.4 1141.8L1134.3 1145.7L1135.1 1150.3L1135.9 1155.7L1136.8 1162L1137.6 1169.3L1138.4 1177.8L1139.3 1187.5L1140.1 1198.8L1141 1212L1141.8 1227.5L1142.6 1246.3L1143.5 1269.5L1144.3 1299.5L1145.2 1341.3L1146 1409.4L1146.8 1476.3L1147.7 1476.3L1148.5 1450.5L1149.3 1404L1150.2 1374.4L1151 1354.6L1151.9 1341.6L1152.7 1333.9L1153.5 1330.8L1154.4 1332.1L1155.2 1337.9L1156.1 1348.7L1156.9 1365.6L1157.7 1390.7L1158.6 1429L1159.4 1476.3L1161.1 1476.3L1161.9 1386L1162.8 1336.4L1163.6 1302.3L1164.4 1276.5L1165.3 1255.8L1166.1 1238.7L1167 1224.1L1167.8 1211.6L1168.6 1200.7L1169.5 1191.1L1170.3 1182.6L1171.2 1175L1172 1168.3L1172.8 1162.4L1173.7 1157.1L1174.5 1152.4L1175.4 1148.3L1176.2 1144.7L1177 1141.6L1177.9 1138.9L1178.7 1136.7L1179.5 1134.9L1180.4 1133.6L1181.2 1132.6L1182.1 1132L1182.9 1131.8L1183.7 1132.2L1184.6 1133.5L1185.4 1135.7L1186.3 1138.8L1187.1 1142.9L1187.9 1148L1188.8 1154.3L1189.6 1161.9L1190.4 1170.9L1191.3 1181.7L1192.1 1194.6L1193 1210.1L1193.8 1229.1L1194.6 1252.9L1195.5 1284.4L1196.3 1329.5L1197.2 1407.3L1198 1476.3L1198.8 1378.7L1199.7 1296.2L1200.5 1246.6L1201.4 1210.5L1202.2 1182L1203 1158.4L1203.9 1138.2L1204.7 1120.5L1205.5 1104.8L1206.4 1090.6L1207.2 1077.8L1208.1 1066.1L1208.9 1054.9L1209.7 1044.1L1210.6 1033.8L1211.4 1024L1212.3 1014.6L1213.1 1005.7L1213.9 997.2L1214.8 989L1215.6 981.1L1216.5 973.6L1217.3 966.3L1218.1 959.2L1219 952.4L1219.8 945.8L1220.6 939.4L1221.5 933.3L1222.3 927.3L1223.2 921.5L1224 915.8L1224.8 910.4L1225.7 905.1L1226.5 899.9L1227.4 894.9L1228.2 890.1L1229 885.4L1229.9 880.9L1230.7 876.6L1231.5 873.2L1232.4 870.3L1233.2 867.5L1234.1 864.8L1234.9 862.3L1235.7 859.8L1236.6 857.5L1237.4 855.3L1238.3 853.2L1239.1 851.1L1239.9 849.2L1240.8 847.4L1241.6 845.6L1242.5 843.9L1243.3 842.3L1244.1 840.7L1245 839.2L1245.8 837.8L1246.6 836.5L1247.5 835.2L1248.3 833.9L1249.2 832.7L1250 831.6L1250.8 830.5L1251.7 829.5L1252.5 828.5L1253.4 827.5L1254.2 826.6L1255 825.7L1255.9 824.9L1256.7 824.1L1257.5 823.3L1258.4 822.6L1259.2 821.9L1260.1 821.3L1260.9 820.6L1261.7 820L1262.6 819.5L1263.4 818.9L1264.3 818.4L1265.1 817.9L1265.9 817.5L1266.8 817L1267.6 816.6L1268.5 816.2L1269.3 815.8L1270.1 815.5L1271 815.1L1271.8 814.8L1272.6 814.5L1273.5 814.2L1274.3 814L1275.2 813.7L1276 813.5L1276.8 813.3L1277.7 813.1L1278.5 812.9L1279.4 812.7L1280.2 812.5L1281 812.3L1281.9 812.2L1282.7 812.1L1283.5 811.9L1284.4 811.8L1285.2 811.7L1286.1 811.6L1286.9 811.5L1287.7 811.4L1288.6 811.3L1289.4 811.3L1290.3 811.2L1291.1 811.1L1291.9 811.1L1292.8 811L1293.6 811L1294.5 811L1295.3 810.9L1296.1 810.9L1297 810.9L1297.8 810.8L1298.6 810.8L1299.5 810.8L1300.3 810.8L1301.2 810.8L1302 810.8L1302.8 810.7L1303.7 810.7L1304.5 810.7L1305.4 810.7L1306.2 810.7L1307 810.7L1307.9 810.7L1308.7 810.7L1309.6 810.7L1310.4 810.7L1311.2 810.7L1312.1 810.7L1312.9 810.7L1313.7 810.7L1314.6 810.7L1315.4 810.7L1316.3 810.7L1317.1 810.7" stroke="#FFCC00" stroke-width="4.6" stroke-dasharray="4.4,4.3"/>
<path d="M109.3 810.7L110.1 810.7L111 810.7L111.8 810.7L112.7 810.7L113.5 810.7L114.3 810.7L115.2 810.7L116 810.7L116.8 810.7L117.7 810.7L118.5 810.7L119.4 810.7L120.2 810.7L121 810.7L121.9 810.7L122.7 810.7L123.6 810.7L124.4 810.7L125.2 810.7L126.1 810.7L126.9 810.8L127.8 810.8L128.6 810.8L129.4 810.8L130.3 810.8L131.1 810.8L131.9 810.8L132.8 810.9L133.6 810.9L134.5 810.9L135.3 810.9L136.1 811L137 811L137.8 811.1L138.7 811.1L139.5 811.1L140.3 811.2L141.2 811.3L142 811.3L142.8 811.4L143.7 811.5L144.5 811.5L145.4 811.6L146.2 811.7L147 811.8L147.9 811.9L148.7 812L149.6 812.1L150.4 812.2L151.2 812.4L152.1 812.5L152.9 812.6L153.8 812.8L154.6 813L155.4 813.1L156.3 813.3L157.1 813.5L157.9 813.7L158.8 813.9L159.6 814.2L160.5 814.4L161.3 814.7L162.1 814.9L163 815.2L163.8 815.5L164.7 815.8L165.5 816.1L166.3 816.5L167.2 816.8L168 817.2L168.9 817.6L169.7 818L170.5 818.4L171.4 818.8L172.2 819.3L173 819.8L173.9 820.3L174.7 820.8L175.6 821.4L176.4 821.9L177.2 822.5L178.1 823.1L178.9 823.8L179.8 824.4L180.6 825.1L181.4 825.9L182.3 826.6L183.1 827.4L183.9 828.2L184.8 829.1L185.6 829.9L186.5 830.9L187.3 831.8L188.1 832.8L189 833.8L189.8 834.9L190.7 836L191.5 837.1L192.3 838.3L193.2 839.6L194 840.9L194.9 842.2L195.7 843.6L196.5 845L197.4 846.6L198.2 848.1L199 849.7L199.9 851.4L200.7 853.2L201.6 855L202.4 856.9L203.2 858.9L204.1 860.9L204.9 863L205.8 865.3L206.6 867.6L207.4 870L208.3 872.5L209.1 875.2L209.9 878.6L210.8 882.4L211.6 886.2L212.5 890.2L213.3 894.2L214.1 898.4L215 902.6L215.8 907L216.7 911.5L217.5 916.1L218.3 920.8L219.2 925.6L220 930.5L220.9 935.6L221.7 940.7L222.5 946L223.4 951.5L224.2 957.2L225 963L225.9 969L226.7 975.2L227.6 981.5L228.4 987.8L229.2 994.2L230.1 1000.6L230.9 1007L231.8 1013.3L232.6 1019.7L233.4 1026.1L234.3 1032.7L235.1 1039.3L236 1046.1L236.8 1053.1L237.6 1060.2L238.5 1067.7L239.3 1075.4L240.1 1083.6L241 1092.3L241.8 1101.6L242.7 1111.6L243.5 1122.3L244.3 1133.9L245.2 1146.6L246 1160.5L246.9 1175.9L247.7 1193.1L248.5 1212.9L249.4 1235.9L250.2 1263.7L251 1298.9L251.9 1347.6L252.7 1428.9L253.6 1476.3L254.4 1416.2L255.2 1338.4L256.1 1293.6L256.9 1262.4L257.8 1238.8L258.6 1220.3L259.4 1205.3L260.3 1193L261.1 1183L262 1174.7L262.8 1168.1L263.6 1162.8L264.5 1158.9L265.3 1156.1L266.1 1154.4L267 1153.9L267.8 1154.2L268.7 1155.1L269.5 1156.5L270.3 1158.6L271.2 1161.3L272 1164.6L272.9 1168.6L273.7 1173.4L274.5 1179L275.4 1185.5L276.2 1193L277.1 1201.7L277.9 1211.7L278.7 1223.3L279.6 1237L280.4 1253.1L281.2 1272.6L282.1 1296.9L282.9 1328.8L283.8 1374.1L284.6 1452L285.4 1476.3L286.3 1445.7L287.1 1367.7L288 1322.2L288.8 1290.3L289.6 1265.7L290.5 1245.9L291.3 1229.4L292.1 1215.4L293 1203.3L293.8 1192.8L294.7 1183.6L295.5 1175.5L296.3 1168.3L297.2 1161.9L298 1156.3L298.9 1151.3L299.7 1147L300.5 1143.3L301.4 1140L302.2 1137.3L303.1 1135.1L303.9 1133.3L304.7 1131.9L305.6 1131L306.4 1130.6L307.2 1130.5L308.1 1131L308.9 1131.9L309.8 1133.2L310.6 1135.1L311.4 1137.5L312.3 1140.4L313.1 1143.8L314 1147.9L314.8 1152.6L315.6 1158L316.5 1164.1L317.3 1171.1L318.1 1179.1L319 1188.1L319.8 1198.5L320.7 1210.5L321.5 1224.4L322.3 1240.7L323.2 1260.5L324 1284.9L324.9 1316.9L325.7 1362.3L326.5 1440.3L327.4 1476.3L328.2 1445.7L329.1 1367.7L329.9 1322.2L330.7 1290.3L331.6 1265.7L332.4 1245.9L333.2 1229.4L334.1 1215.4L334.9 1203.3L335.8 1192.8L336.6 1183.6L337.4 1175.5L338.3 1168.3L339.1 1161.9L340 1156.3L340.8 1151.3L341.6 1147L342.5 1143.3L343.3 1140L344.1 1137.3L345 1135.1L345.8 1133.3L346.7 1131.9L347.5 1131L348.3 1130.6L349.2 1130.5L350 1131L350.9 1132L351.7 1133.5L352.5 1135.6L353.4 1138.2L354.2 1141.5L355.1 1145.3L355.9 1149.8L356.7 1155.1L357.6 1161.2L358.4 1168.1L359.2 1176.1L360.1 1185.2L360.9 1195.7L361.8 1207.9L362.6 1222.1L363.4 1239L364.3 1259.4L365.1 1285L366 1319L366.8 1368.4L367.6 1459.8L368.5 1476.3L369.3 1419.8L370.2 1351.6L371 1309.7L371.8 1279.6L372.7 1256.2L373.5 1237.2L374.3 1221.4L375.2 1207.9L376 1196.3L376.9 1186.2L377.7 1177.4L378.5 1169.6L379.4 1162.8L380.2 1156.8L381.1 1151.6L381.9 1147L382.7 1143.1L383.6 1139.7L384.4 1136.9L385.2 1134.7L386.1 1132.9L386.9 1131.6L387.8 1130.8L388.6 1130.5L389.4 1130.7L390.3 1131.3L391.1 1132.5L392 1134.3L392.8 1136.6L393.6 1139.4L394.5 1142.9L395.3 1147L396.2 1151.9L397 1157.4L397.8 1163.8L398.7 1171.2L399.5 1179.6L400.3 1189.3L401.2 1200.4L402 1213.3L402.9 1228.5L403.7 1246.6L404.5 1268.9L405.4 1297.4L406.2 1336.2L407.1 1396.7L407.9 1476.3L408.7 1476.3L409.6 1392.8L410.4 1338.2L411.2 1301.9L412.1 1274.8L412.9 1253.4L413.8 1235.7L414.6 1220.8L415.4 1208L416.3 1196.9L417.1 1187.1L418 1178.6L418.8 1171L419.6 1164.4L420.5 1158.4L421.3 1153.2L422.2 1148.7L423 1144.7L423.8 1141.3L424.7 1138.3L425.5 1135.9L426.3 1133.9L427.2 1132.4L428 1131.4L428.9 1130.7L429.7 1130.5L430.5 1130.7L431.4 1131.4L432.2 1132.6L433.1 1134.3L433.9 1136.5L434.7 1139.1L435.6 1142.4L436.4 1146.2L437.3 1150.6L438.1 1155.7L438.9 1161.6L439.8 1168.2L440.6 1175.8L441.4 1184.4L442.3 1194.2L443.1 1205.5L444 1218.5L444.8 1233.8L445.6 1252.1L446.5 1274.4L447.3 1302.9L448.2 1341.8L449 1402.4L449.8 1476.3L450.7 1476.3L451.5 1415L452.3 1360.4L453.2 1324L454 1296.7L454.9 1275L455.7 1257L456.5 1241.7L457.4 1228.6L458.2 1217L459.1 1206.8L459.9 1197.7L460.7 1189.6L461.6 1182.2L462.4 1175.6L463.3 1169.6L464.1 1164.2L464.9 1159.3L465.8 1154.9L466.6 1151L467.4 1147.4L468.3 1144.2L469.1 1141.4L470 1139L470.8 1136.9L471.6 1135L472.5 1133.6L473.3 1132.4L474.2 1131.5L475 1130.9L475.8 1130.6L476.7 1130.5L477.5 1130.7L478.4 1131.2L479.2 1131.9L480 1132.8L480.9 1134L481.7 1135.4L482.5 1137.1L483.4 1139L484.2 1141.2L485.1 1143.7L485.9 1146.5L486.7 1149.7L487.6 1153.1L488.4 1156.9L489.3 1161.1L490.1 1165.7L490.9 1170.7L491.8 1176.2L492.6 1182.2L493.4 1188.8L494.3 1196.1L495.1 1204.1L496 1213L496.8 1223L497.6 1234.1L498.5 1246.7L499.3 1261.2L500.2 1278.1L501 1298.3L501.8 1323.1L502.7 1355.3L503.5 1400.9L504.4 1476.3L507.7 1476.3L508.5 1448.8L509.4 1423.9L510.2 1403.6L511.1 1386.6L511.9 1372L512.7 1359.2L513.6 1347.8L514.4 1337.6L515.3 1328.3L516.1 1319.9L516.9 1312.2L517.8 1305.2L518.6 1298.6L519.4 1292.6L520.3 1286.9L521.1 1281.7L522 1276.8L522.8 1272.3L523.6 1268L524.5 1264L525.3 1260.2L526.2 1256.7L527 1253.4L527.8 1250.4L528.7 1247.5L529.5 1244.8L530.4 1242.2L531.2 1239.9L532 1237.7L532.9 1235.6L533.7 1233.7L534.5 1231.9L535.4 1230.2L536.2 1228.7L537.1 1227.3L537.9 1226L538.7 1224.9L539.6 1223.8L540.4 1222.9L541.3 1222L542.1 1221.3L542.9 1220.7L543.8 1220.1L544.6 1219.7L545.4 1219.4L546.3 1219.1L547.1 1219L548 1218.9L548.8 1219.2L549.6 1220.2L550.5 1222.1L551.3 1224.8L552.2 1228.4L553 1232.9L553.8 1238.4L554.7 1244.9L555.5 1252.6L556.4 1261.7L557.2 1272.4L558 1285L558.9 1299.9L559.7 1317.9L560.5 1340.1L561.4 1368.5L562.2 1407.4L563.1 1468.1L563.9 1476.3L565.6 1476.3L566.4 1424.1L567.3 1387.8L568.1 1360.5L568.9 1338.7L569.8 1320.5L570.6 1305.1L571.5 1291.6L572.3 1279.7L573.1 1269.1L574 1259.5L574.8 1250.8L575.6 1242.8L576.5 1235.5L577.3 1228.7L578.2 1222.4L579 1216.5L579.8 1211.1L580.7 1206L581.5 1201.2L582.4 1196.7L583.2 1192.5L584 1188.5L584.9 1184.7L585.7 1181.2L586.5 1177.8L587.4 1174.7L588.2 1171.7L589.1 1168.8L589.9 1166.2L590.7 1163.6L591.6 1161.2L592.4 1159L593.3 1156.8L594.1 1154.8L594.9 1152.9L595.8 1151L596.6 1149.3L597.5 1147.7L598.3 1146.2L599.1 1144.8L600 1143.4L600.8 1142.1L601.6 1141L602.5 1139.9L603.3 1138.8L604.2 1137.9L605 1137L605.8 1136.1L606.7 1135.4L607.5 1134.7L608.4 1134L609.2 1133.4L610 1132.9L610.9 1132.4L611.7 1132L612.5 1131.7L613.4 1131.4L614.2 1131.1L615.1 1130.9L615.9 1130.7L616.7 1130.6L617.6 1130.5L618.4 1130.5L619.3 1130.5L620.1 1130.6L620.9 1130.8L621.8 1131.1L622.6 1131.5L623.5 1132L624.3 1132.5L625.1 1133.1L626 1133.8L626.8 1134.6L627.6 1135.4L628.5 1136.3L629.3 1137.3L630.2 1138.4L631 1139.5L631.8 1140.7L632.7 1142L633.5 1143.3L634.4 1144.7L635.2 1146.2L636 1147.8L636.9 1149.4L637.7 1151.1L638.6 1152.8L639.4 1154.6L640.2 1156.5L641.1 1158.5L641.9 1160.5L642.7 1162.6L643.6 1164.7L644.4 1167L645.3 1169.3L646.1 1171.6L646.9 1174.1L647.8 1176.6L648.6 1179.1L649.5 1181.8L650.3 1184.5L651.1 1187.3L652 1190.2L652.8 1193.1L653.6 1196.1L654.5 1199.2L655.3 1202.4L656.2 1205.7L657 1209L657.8 1212.5L658.7 1216L659.5 1219.6L660.4 1223.3L661.2 1227.1L662 1231L662.9 1235L663.7 1239.1L664.6 1243.4L665.4 1247.7L666.2 1252.2L667.1 1256.8L667.9 1261.5L668.7 1266.4L669.6 1271.4L670.4 1276.5L671.3 1281.8L672.1 1287.3L672.9 1293L673.8 1298.9L674.6 1304.9L675.5 1311.2L676.3 1317.8L677.1 1324.6L678 1331.7L678.8 1339L679.6 1346.8L680.5 1354.8L681.3 1363.3L682.2 1372.3L683 1381.8L683.8 1391.8L684.7 1402.6L685.5 1414.1L686.4 1426.5L687.2 1440L688 1454.8L688.9 1471.3L689.7 1476.3L736.7 1476.3L737.5 1471.3L738.4 1454.8L739.2 1440L740 1426.5L740.9 1414.1L741.7 1402.6L742.6 1391.8L743.4 1381.8L744.2 1372.3L745.1 1363.3L745.9 1354.8L746.8 1346.8L747.6 1339L748.4 1331.7L749.3 1324.6L750.1 1317.8L750.9 1311.2L751.8 1304.9L752.6 1298.9L753.5 1293L754.3 1287.3L755.1 1281.8L756 1276.5L756.8 1271.4L757.7 1266.4L758.5 1261.5L759.3 1256.8L760.2 1252.2L761 1247.7L761.8 1243.4L762.7 1239.1L763.5 1235L764.4 1231L765.2 1227.1L766 1223.3L766.9 1219.6L767.7 1216L768.6 1212.5L769.4 1209L770.2 1205.7L771.1 1202.4L771.9 1199.2L772.8 1196.1L773.6 1193.1L774.4 1190.2L775.3 1187.3L776.1 1184.5L776.9 1181.8L777.8 1179.1L778.6 1176.6L779.5 1174.1L780.3 1171.6L781.1 1169.3L782 1167L782.8 1164.7L783.7 1162.6L784.5 1160.5L785.3 1158.5L786.2 1156.5L787 1154.6L787.8 1152.8L788.7 1151.1L789.5 1149.4L790.4 1147.8L791.2 1146.2L792 1144.7L792.9 1143.3L793.7 1142L794.6 1140.7L795.4 1139.5L796.2 1138.4L797.1 1137.3L797.9 1136.3L798.8 1135.4L799.6 1134.6L800.4 1133.8L801.3 1133.1L802.1 1132.5L802.9 1132L803.8 1131.5L804.6 1131.1L805.5 1130.8L806.3 1130.6L807.1 1130.5L808 1130.5L808.8 1130.5L809.7 1130.6L810.5 1130.7L811.3 1130.9L812.2 1131.1L813 1131.4L813.8 1131.7L814.7 1132L815.5 1132.4L816.4 1132.9L817.2 1133.4L818 1134L818.9 1134.7L819.7 1135.4L820.6 1136.1L821.4 1137L822.2 1137.9L823.1 1138.8L823.9 1139.9L824.8 1141L825.6 1142.1L826.4 1143.4L827.3 1144.8L828.1 1146.2L828.9 1147.7L829.8 1149.3L830.6 1151L831.5 1152.9L832.3 1154.8L833.1 1156.8L834 1159L834.8 1161.2L835.7 1163.6L836.5 1166.2L837.3 1168.8L838.2 1171.7L839 1174.7L839.9 1177.8L840.7 1181.2L841.5 1184.7L842.4 1188.5L843.2 1192.5L844 1196.7L844.9 1201.2L845.7 1206L846.6 1211.1L847.4 1216.5L848.2 1222.4L849.1 1228.7L849.9 1235.5L850.8 1242.8L851.6 1250.8L852.4 1259.5L853.3 1269.1L854.1 1279.7L854.9 1291.6L855.8 1305.1L856.6 1320.5L857.5 1338.7L858.3 1360.5L859.1 1387.8L860 1424.1L860.8 1476.3L862.5 1476.3L863.3 1468.1L864.2 1407.4L865 1368.5L865.9 1340.1L866.7 1317.9L867.5 1299.9L868.4 1285L869.2 1272.4L870 1261.7L870.9 1252.6L871.7 1244.9L872.6 1238.4L873.4 1232.9L874.2 1228.4L875.1 1224.8L875.9 1222.1L876.8 1220.2L877.6 1219.2L878.4 1218.9L879.3 1219L880.1 1219.1L880.9 1219.4L881.8 1219.7L882.6 1220.1L883.5 1220.7L884.3 1221.3L885.1 1222L886 1222.9L886.8 1223.8L887.7 1224.9L888.5 1226L889.3 1227.3L890.2 1228.7L891 1230.2L891.9 1231.9L892.7 1233.7L893.5 1235.6L894.4 1237.7L895.2 1239.9L896 1242.2L896.9 1244.8L897.7 1247.5L898.6 1250.4L899.4 1253.4L900.2 1256.7L901.1 1260.2L901.9 1264L902.8 1268L903.6 1272.3L904.4 1276.8L905.3 1281.7L906.1 1286.9L907 1292.6L907.8 1298.6L908.6 1305.2L909.5 1312.2L910.3 1319.9L911.1 1328.3L912 1337.6L912.8 1347.8L913.7 1359.2L914.5 1372L915.3 1386.6L916.2 1403.6L917 1423.9L917.9 1448.8L918.7 1476.3L922 1476.3L922.9 1400.9L923.7 1355.3L924.6 1323.1L925.4 1298.3L926.2 1278.1L927.1 1261.2L927.9 1246.7L928.8 1234.1L929.6 1223L930.4 1213L931.3 1204.1L932.1 1196.1L933 1188.8L933.8 1182.2L934.6 1176.2L935.5 1170.7L936.3 1165.7L937.1 1161.1L938 1156.9L938.8 1153.1L939.7 1149.7L940.5 1146.5L941.3 1143.7L942.2 1141.2L943 1139L943.9 1137.1L944.7 1135.4L945.5 1134L946.4 1132.8L947.2 1131.9L948 1131.2L948.9 1130.7L949.7 1130.5L950.6 1130.6L951.4 1130.9L952.2 1131.5L953.1 1132.4L953.9 1133.6L954.8 1135L955.6 1136.9L956.4 1139L957.3 1141.4L958.1 1144.2L959 1147.4L959.8 1151L960.6 1154.9L961.5 1159.3L962.3 1164.2L963.1 1169.6L964 1175.6L964.8 1182.2L965.7 1189.6L966.5 1197.7L967.3 1206.8L968.2 1217L969 1228.6L969.9 1241.7L970.7 1257L971.5 1275L972.4 1296.7L973.2 1324L974.1 1360.4L974.9 1415L975.7 1476.3L976.6 1476.3L977.4 1402.4L978.2 1341.8L979.1 1302.9L979.9 1274.4L980.8 1252.1L981.6 1233.8L982.4 1218.5L983.3 1205.5L984.1 1194.2L985 1184.4L985.8 1175.8L986.6 1168.2L987.5 1161.6L988.3 1155.7L989.1 1150.6L990 1146.2L990.8 1142.4L991.7 1139.1L992.5 1136.5L993.3 1134.3L994.2 1132.6L995 1131.4L995.9 1130.7L996.7 1130.5L997.5 1130.7L998.4 1131.4L999.2 1132.4L1000.1 1133.9L1000.9 1135.9L1001.7 1138.3L1002.6 1141.3L1003.4 1144.7L1004.2 1148.7L1005.1 1153.2L1005.9 1158.4L1006.8 1164.4L1007.6 1171L1008.4 1178.6L1009.3 1187.1L1010.1 1196.9L1011 1208L1011.8 1220.8L1012.6 1235.7L1013.5 1253.4L1014.3 1274.8L1015.1 1301.9L1016 1338.2L1016.8 1392.8L1017.7 1476.3L1018.5 1476.3L1019.3 1396.7L1020.2 1336.2L1021 1297.4L1021.9 1268.9L1022.7 1246.6L1023.5 1228.5L1024.4 1213.3L1025.2 1200.4L1026.1 1189.3L1026.9 1179.6L1027.7 1171.2L1028.6 1163.8L1029.4 1157.4L1030.2 1151.9L1031.1 1147L1031.9 1142.9L1032.8 1139.4L1033.6 1136.6L1034.4 1134.3L1035.3 1132.5L1036.1 1131.3L1037 1130.7L1037.8 1130.5L1038.6 1130.8L1039.5 1131.6L1040.3 1132.9L1041.2 1134.7L1042 1136.9L1042.8 1139.7L1043.7 1143.1L1044.5 1147L1045.3 1151.6L1046.2 1156.8L1047 1162.8L1047.9 1169.6L1048.7 1177.4L1049.5 1186.2L1050.4 1196.3L1051.2 1207.9L1052.1 1221.4L1052.9 1237.2L1053.7 1256.2L1054.6 1279.6L1055.4 1309.7L1056.2 1351.6L1057.1 1419.8L1057.9 1476.3L1058.8 1459.8L1059.6 1368.4L1060.4 1319L1061.3 1285L1062.1 1259.4L1063 1239L1063.8 1222.1L1064.6 1207.9L1065.5 1195.7L1066.3 1185.2L1067.2 1176.1L1068 1168.1L1068.8 1161.2L1069.7 1155.1L1070.5 1149.8L1071.3 1145.3L1072.2 1141.5L1073 1138.2L1073.9 1135.6L1074.7 1133.5L1075.5 1132L1076.4 1131L1077.2 1130.5L1078.1 1130.6L1078.9 1131L1079.7 1131.9L1080.6 1133.3L1081.4 1135.1L1082.2 1137.3L1083.1 1140L1083.9 1143.3L1084.8 1147L1085.6 1151.3L1086.4 1156.3L1087.3 1161.9L1088.1 1168.3L1089 1175.5L1089.8 1183.6L1090.6 1192.8L1091.5 1203.3L1092.3 1215.4L1093.2 1229.4L1094 1245.9L1094.8 1265.7L1095.7 1290.3L1096.5 1322.2L1097.3 1367.7L1098.2 1445.7L1099 1476.3L1099.9 1440.3L1100.7 1362.3L1101.5 1316.9L1102.4 1284.9L1103.2 1260.5L1104.1 1240.7L1104.9 1224.4L1105.7 1210.5L1106.6 1198.5L1107.4 1188.1L1108.3 1179.1L1109.1 1171.1L1109.9 1164.1L1110.8 1158L1111.6 1152.6L1112.4 1147.9L1113.3 1143.8L1114.1 1140.4L1115 1137.5L1115.8 1135.1L1116.6 1133.2L1117.5 1131.9L1118.3 1131L1119.2 1130.5L1120 1130.6L1120.8 1131L1121.7 1131.9L1122.5 1133.3L1123.3 1135.1L1124.2 1137.3L1125 1140L1125.9 1143.3L1126.7 1147L1127.5 1151.3L1128.4 1156.3L1129.2 1161.9L1130.1 1168.3L1130.9 1175.5L1131.7 1183.6L1132.6 1192.8L1133.4 1203.3L1134.3 1215.4L1135.1 1229.4L1135.9 1245.9L1136.8 1265.7L1137.6 1290.3L1138.4 1322.2L1139.3 1367.7L1140.1 1445.7L1141 1476.3L1141.8 1452L1142.6 1374.1L1143.5 1328.8L1144.3 1296.9L1145.2 1272.6L1146 1253.1L1146.8 1237L1147.7 1223.3L1148.5 1211.7L1149.3 1201.7L1150.2 1193L1151 1185.5L1151.9 1179L1152.7 1173.4L1153.5 1168.6L1154.4 1164.6L1155.2 1161.3L1156.1 1158.6L1156.9 1156.5L1157.7 1155.1L1158.6 1154.2L1159.4 1153.9L1160.3 1154.4L1161.1 1156.1L1161.9 1158.9L1162.8 1162.8L1163.6 1168.1L1164.4 1174.7L1165.3 1183L1166.1 1193L1167 1205.3L1167.8 1220.3L1168.6 1238.8L1169.5 1262.4L1170.3 1293.6L1171.2 1338.4L1172 1416.2L1172.8 1476.3L1173.7 1428.9L1174.5 1347.6L1175.4 1298.9L1176.2 1263.7L1177 1235.9L1177.9 1212.9L1178.7 1193.1L1179.5 1175.9L1180.4 1160.5L1181.2 1146.6L1182.1 1133.9L1182.9 1122.3L1183.7 1111.6L1184.6 1101.6L1185.4 1092.3L1186.3 1083.6L1187.1 1075.4L1187.9 1067.7L1188.8 1060.2L1189.6 1053.1L1190.4 1046.1L1191.3 1039.3L1192.1 1032.7L1193 1026.1L1193.8 1019.7L1194.6 1013.3L1195.5 1007L1196.3 1000.6L1197.2 994.2L1198 987.8L1198.8 981.5L1199.7 975.2L1200.5 969L1201.4 963L1202.2 957.2L1203 951.5L1203.9 946L1204.7 940.7L1205.5 935.6L1206.4 930.5L1207.2 925.6L1208.1 920.8L1208.9 916.1L1209.7 911.5L1210.6 907L1211.4 902.6L1212.3 898.4L1213.1 894.2L1213.9 890.2L1214.8 886.2L1215.6 882.4L1216.5 878.6L1217.3 875.2L1218.1 872.5L1219 870L1219.8 867.6L1220.6 865.3L1221.5 863L1222.3 860.9L1223.2 858.9L1224 856.9L1224.8 855L1225.7 853.2L1226.5 851.4L1227.4 849.7L1228.2 848.1L1229 846.6L1229.9 845L1230.7 843.6L1231.5 842.2L1232.4 840.9L1233.2 839.6L1234.1 838.3L1234.9 837.1L1235.7 836L1236.6 834.9L1237.4 833.8L1238.3 832.8L1239.1 831.8L1239.9 830.9L1240.8 829.9L1241.6 829.1L1242.5 828.2L1243.3 827.4L1244.1 826.6L1245 825.9L1245.8 825.1L1246.6 824.4L1247.5 823.8L1248.3 823.1L1249.2 822.5L1250 821.9L1250.8 821.4L1251.7 820.8L1252.5 820.3L1253.4 819.8L1254.2 819.3L1255 818.8L1255.9 818.4L1256.7 818L1257.5 817.6L1258.4 817.2L1259.2 816.8L1260.1 816.5L1260.9 816.1L1261.7 815.8L1262.6 815.5L1263.4 815.2L1264.3 814.9L1265.1 814.7L1265.9 814.4L1266.8 814.2L1267.6 813.9L1268.5 813.7L1269.3 813.5L1270.1 813.3L1271 813.1L1271.8 813L1272.6 812.8L1273.5 812.6L1274.3 812.5L1275.2 812.4L1276 812.2L1276.8 812.1L1277.7 812L1278.5 811.9L1279.4 811.8L1280.2 811.7L1281 811.6L1281.9 811.5L1282.7 811.5L1283.5 811.4L1284.4 811.3L1285.2 811.3L1286.1 811.2L1286.9 811.1L1287.7 811.1L1288.6 811.1L1289.4 811L1290.3 811L1291.1 810.9L1291.9 810.9L1292.8 810.9L1293.6 810.9L1294.5 810.8L1295.3 810.8L1296.1 810.8L1297 810.8L1297.8 810.8L1298.6 810.8L1299.5 810.8L1300.3 810.7L1301.2 810.7L1302 810.7L1302.8 810.7L1303.7 810.7L1304.5 810.7L1305.4 810.7L1306.2 810.7L1307 810.7L1307.9 810.7L1308.7 810.7L1309.6 810.7L1310.4 810.7L1311.2 810.7L1312.1 810.7L1312.9 810.7L1313.7 810.7L1314.6 810.7L1315.4 810.7L1316.3 810.7L1317.1 810.7" stroke="#D95319" stroke-width="4.6" stroke-dasharray="18.5,4.3,9,4.3"/>
<path d="M113.5 810.7L114.3 810.7L115.2 810.7L116 810.7L116.8 810.7L117.7 810.7L118.5 810.7L119.4 810.7L120.2 810.7L121 810.7L121.9 810.7L122.7 810.7L123.6 810.7L124.4 810.7L125.2 810.8L126.1 810.8L126.9 810.8L127.8 810.8L128.6 810.8L129.4 810.8L130.3 810.9L131.1 810.9L131.9 810.9L132.8 811L133.6 811L134.5 811.1L135.3 811.1L136.1 811.2L137 811.2L137.8 811.3L138.7 811.4L139.5 811.4L140.3 811.5L141.2 811.6L142 811.7L142.8 811.8L143.7 812L144.5 812.1L145.4 812.2L146.2 812.4L147 812.5L147.9 812.7L148.7 812.9L149.6 813.1L150.4 813.3L151.2 813.5L152.1 813.7L152.9 814L153.8 814.2L154.6 814.5L155.4 814.8L156.3 815.1L157.1 815.4L157.9 815.8L158.8 816.2L159.6 816.5L160.5 817L161.3 817.4L162.1 817.8L163 818.3L163.8 818.8L164.7 819.3L165.5 819.9L166.3 820.5L167.2 821.1L168 821.7L168.9 822.4L169.7 823.1L170.5 823.8L171.4 824.6L172.2 825.4L173 826.2L173.9 827.1L174.7 828L175.6 828.9L176.4 829.9L177.2 831L178.1 832.1L178.9 833.2L179.8 834.4L180.6 835.6L181.4 836.9L182.3 838.3L183.1 839.7L183.9 841.2L184.8 842.7L185.6 844.3L186.5 846L187.3 847.8L188.1 849.6L189 851.5L189.8 853.5L190.7 855.6L191.5 857.8L192.3 860.1L193.2 862.5L194 865L194.9 867.6L195.7 870.4L196.5 873.3L197.4 876.6L198.2 881.2L199 886L199.9 890.9L200.7 896L201.6 901.2L202.4 906.5L203.2 911.9L204.1 917.4L204.9 922.9L205.8 928.5L206.6 934.1L207.4 939.6L208.3 945.1L209.1 950.7L209.9 956.3L210.8 962.1L211.6 967.8L212.5 973.7L213.3 979.6L214.1 985.5L215 991.4L215.8 997.4L216.7 1003.3L217.5 1009.2L218.3 1015L219.2 1020.7L220 1026.4L220.9 1032L221.7 1037.8L222.5 1043.8L223.4 1050.1L224.2 1056.8L225 1064.2L225.9 1072.4L226.7 1081.4L227.6 1091.2L228.4 1101.9L229.2 1113.8L230.1 1127L230.9 1142.1L231.8 1159.4L232.6 1180L233.4 1205.2L234.3 1237.6L235.1 1283.4L236 1361.6L236.8 1476.3L237.6 1476.3L238.5 1456.9L239.3 1412.3L240.1 1381.6L241 1358.7L241.8 1341L242.7 1327L243.5 1315.9L244.3 1307.1L245.2 1300.5L246 1295.6L246.9 1292.3L247.7 1290.7L248.5 1290.5L249.4 1291.6L250.2 1294L251 1297.7L251.9 1302.8L252.7 1309.5L253.6 1317.9L254.4 1328.4L255.2 1341.2L256.1 1357.2L256.9 1377.3L257.8 1403.2L258.6 1438.7L259.4 1476.3L262 1476.3L262.8 1447.5L263.6 1409.4L264.5 1381.9L265.3 1360.9L266.1 1344.2L267 1330.7L267.8 1319.8L268.7 1311L269.5 1304L270.3 1298.6L271.2 1294.6L272 1292L272.9 1290.6L273.7 1290.5L274.5 1291.5L275.4 1293.6L276.2 1297L277.1 1301.6L277.9 1307.5L278.7 1315L279.6 1324.2L280.4 1335.4L281.2 1349.2L282.1 1366.1L282.9 1387.4L283.8 1415L284.6 1453.3L285.4 1476.3L288 1476.3L288.8 1447L289.6 1411.4L290.5 1385.3L291.3 1365L292.1 1348.8L293 1335.6L293.8 1324.8L294.7 1316L295.5 1308.8L296.3 1303.1L297.2 1298.8L298 1295.7L298.9 1293.8L299.7 1293L300.5 1293.3L301.4 1294.6L302.2 1297L303.1 1300.5L303.9 1305.1L304.7 1310.9L305.6 1318.2L306.4 1327L307.2 1337.7L308.1 1350.6L308.9 1366.4L309.8 1385.9L310.6 1410.7L311.4 1443.7L312.3 1476.3L315.6 1476.3L316.5 1448.5L317.3 1419.4L318.1 1397L319 1379.2L319.8 1364.6L320.7 1352.7L321.5 1342.8L322.3 1334.6L323.2 1327.9L324 1322.6L324.9 1318.4L325.7 1315.4L326.5 1313.5L327.4 1312.6L328.2 1312.7L329.1 1314.2L329.9 1317L330.7 1321.2L331.6 1326.9L332.4 1334.4L333.2 1343.7L334.1 1355.4L334.9 1369.9L335.8 1388L336.6 1411.2L337.4 1442.2L338.3 1476.3L341.6 1476.3L342.5 1473.4L343.3 1442.4L344.1 1419.2L345 1401.1L345.8 1386.6L346.7 1374.9L347.5 1365.6L348.3 1358.1L349.2 1352.4L350 1348.2L350.9 1345.4L351.7 1343.9L352.5 1343.8L353.4 1345L354.2 1347.5L355.1 1351.4L355.9 1356.9L356.7 1363.9L357.6 1372.9L358.4 1384.1L359.2 1397.9L360.1 1415.2L360.9 1437.3L361.8 1466.3L362.6 1476.3L366 1476.3L366.8 1447.1L367.6 1414.1L368.5 1389.6L369.3 1370.6L370.2 1355.4L371 1343.3L371.8 1333.5L372.7 1325.7L373.5 1319.6L374.3 1315.1L375.2 1312L376 1310.3L376.9 1309.9L377.7 1310.8L378.5 1313L379.4 1316.5L380.2 1321.5L381.1 1328L381.9 1336.3L382.7 1346.6L383.6 1359.3L384.4 1375.1L385.2 1394.8L386.1 1420.3L386.9 1454.5L387.8 1476.3L390.3 1476.3L391.1 1455.5L392 1418.6L392.8 1391.7L393.6 1370.9L394.5 1354.4L395.3 1341.1L396.2 1330.4L397 1321.7L397.8 1314.9L398.7 1309.6L399.5 1305.8L400.3 1303.3L401.2 1302.2L402 1302.3L402.9 1303.8L403.7 1306.6L404.5 1310.8L405.4 1316.5L406.2 1323.9L407.1 1333.2L407.9 1344.8L408.7 1359.1L409.6 1376.9L410.4 1399.5L411.2 1429.1L412.1 1470.1L412.9 1476.3L414.6 1476.3L415.4 1459.5L416.3 1417.9L417.1 1388L418 1365.3L418.8 1347.5L419.6 1333.1L420.5 1321.5L421.3 1312.2L422.2 1304.8L423 1299.1L423.8 1294.9L424.7 1292.1L425.5 1290.6L426.3 1290.5L427.2 1291.6L428 1293.9L428.9 1297.5L429.7 1302.5L430.5 1308.9L431.4 1317.1L432.2 1327.1L433.1 1339.5L433.9 1354.7L434.7 1373.7L435.6 1397.8L436.4 1429.8L437.3 1475.3L438.1 1476.3L439.8 1476.3L440.6 1458.5L441.4 1419.6L442.3 1391.2L443.1 1369.4L444 1352.1L444.8 1338.1L445.6 1326.8L446.5 1317.5L447.3 1310.1L448.2 1304.2L449 1299.8L449.8 1296.7L450.7 1294.9L451.5 1294.3L452.3 1294.9L453.2 1296.6L454 1299.5L454.9 1303.7L455.7 1309.2L456.5 1316.3L457.4 1325L458.2 1335.7L459.1 1348.8L459.9 1364.8L460.7 1384.9L461.6 1410.7L462.4 1445.4L463.3 1476.3L466.6 1476.3L467.4 1442.3L468.3 1415.3L469.1 1394.3L470 1377.6L470.8 1364L471.6 1352.9L472.5 1343.9L473.3 1336.5L474.2 1330.7L475 1326.3L475.8 1323.1L476.7 1321.1L477.5 1320.3L478.4 1320.7L479.2 1322.1L480 1324.7L480.9 1328.6L481.7 1333.7L482.5 1340.2L483.4 1348.3L484.2 1358.3L485.1 1370.4L485.9 1385.2L486.7 1403.6L487.6 1426.9L488.4 1457.5L489.3 1476.3L491.8 1476.3L492.6 1475.7L493.4 1431.9L494.3 1401.1L495.1 1377.7L496 1359.3L496.8 1344.4L497.6 1332.3L498.5 1322.3L499.3 1314.2L500.2 1307.7L501 1302.6L501.8 1298.7L502.7 1296.1L503.5 1294.7L504.4 1294.3L505.2 1294.9L506 1296.3L506.9 1298.6L507.7 1301.7L508.5 1305.8L509.4 1310.9L510.2 1317.1L511.1 1324.6L511.9 1333.4L512.7 1343.9L513.6 1356.5L514.4 1371.5L515.3 1389.7L516.1 1412.5L516.9 1442.2L517.8 1476.3L521.1 1476.3L522 1451.8L522.8 1418.5L523.6 1393.5L524.5 1373.8L525.3 1357.8L526.2 1344.6L527 1333.5L527.8 1324.2L528.7 1316.5L529.5 1310L530.4 1304.6L531.2 1300.3L532 1296.9L532.9 1294.4L533.7 1292.7L534.5 1291.8L535.4 1291.8L536.2 1292.4L537.1 1293.9L537.9 1296.1L538.7 1299.1L539.6 1303L540.4 1307.7L541.3 1313.4L542.1 1320.1L542.9 1328L543.8 1337.2L544.6 1347.9L545.4 1360.6L546.3 1375.5L547.1 1393.5L548 1415.5L548.8 1443.6L549.6 1476.3L553.8 1476.3L554.7 1458.7L555.5 1432.7L556.4 1412.2L557.2 1395.5L558 1381.7L558.9 1370.1L559.7 1360.2L560.5 1351.8L561.4 1344.7L562.2 1338.7L563.1 1333.7L563.9 1329.6L564.7 1326.3L565.6 1323.7L566.4 1321.9L567.3 1320.8L568.1 1320.3L568.9 1320.5L569.8 1321.2L570.6 1322.5L571.5 1324.3L572.3 1326.6L573.1 1329.6L574 1333.2L574.8 1337.4L575.6 1342.2L576.5 1347.8L577.3 1354.2L578.2 1361.4L579 1369.7L579.8 1379.1L580.7 1389.7L581.5 1402L582.4 1416.2L583.2 1432.9L584 1453L584.9 1476.3L591.6 1476.3L592.4 1455.5L593.3 1436.3L594.1 1420.4L594.9 1407L595.8 1395.6L596.6 1385.7L597.5 1377.2L598.3 1369.8L599.1 1363.3L600 1357.7L600.8 1352.8L601.6 1348.6L602.5 1345.1L603.3 1342.1L604.2 1339.7L605 1337.7L605.8 1336.3L606.7 1335.3L607.5 1334.7L608.4 1334.6L609.2 1334.8L610 1335.2L610.9 1335.8L611.7 1336.7L612.5 1337.8L613.4 1339.1L614.2 1340.6L615.1 1342.4L615.9 1344.4L616.7 1346.6L617.6 1349.1L618.4 1351.8L619.3 1354.7L620.1 1357.9L620.9 1361.4L621.8 1365.1L622.6 1369.2L623.5 1373.5L624.3 1378.2L625.1 1383.2L626 1388.5L626.8 1394.3L627.6 1400.5L628.5 1407.1L629.3 1414.3L630.2 1422.1L631 1430.5L631.8 1439.7L632.7 1449.7L633.5 1460.8L634.4 1473.1L635.2 1476.3L647.8 1476.3L648.6 1467.6L649.5 1457.1L650.3 1448.1L651.1 1440.4L652 1433.8L652.8 1428.1L653.6 1423.3L654.5 1419.1L655.3 1415.7L656.2 1412.8L657 1410.6L657.8 1408.8L658.7 1407.5L659.5 1406.6L660.4 1406.2L661.2 1406.2L662 1406.8L662.9 1408.1L663.7 1410L664.6 1412.5L665.4 1415.7L666.2 1419.6L667.1 1424L667.9 1429.2L668.7 1435L669.6 1441.6L670.4 1448.9L671.3 1457.2L672.1 1466.3L672.9 1476.3L753.5 1476.3L754.3 1466.3L755.1 1457.2L756 1448.9L756.8 1441.6L757.7 1435L758.5 1429.2L759.3 1424L760.2 1419.6L761 1415.7L761.8 1412.5L762.7 1410L763.5 1408.1L764.4 1406.8L765.2 1406.2L766 1406.2L766.9 1406.6L767.7 1407.5L768.6 1408.8L769.4 1410.6L770.2 1412.8L771.1 1415.7L771.9 1419.1L772.8 1423.3L773.6 1428.1L774.4 1433.8L775.3 1440.4L776.1 1448.1L776.9 1457.1L777.8 1467.6L778.6 1476.3L791.2 1476.3L792 1473.1L792.9 1460.8L793.7 1449.7L794.6 1439.7L795.4 1430.5L796.2 1422.1L797.1 1414.3L797.9 1407.1L798.8 1400.5L799.6 1394.3L800.4 1388.5L801.3 1383.2L802.1 1378.2L802.9 1373.5L803.8 1369.2L804.6 1365.1L805.5 1361.4L806.3 1357.9L807.1 1354.7L808 1351.8L808.8 1349.1L809.7 1346.6L810.5 1344.4L811.3 1342.4L812.2 1340.6L813 1339.1L813.8 1337.8L814.7 1336.7L815.5 1335.8L816.4 1335.2L817.2 1334.8L818 1334.6L818.9 1334.7L819.7 1335.3L820.6 1336.3L821.4 1337.7L822.2 1339.7L823.1 1342.1L823.9 1345.1L824.8 1348.6L825.6 1352.8L826.4 1357.7L827.3 1363.3L828.1 1369.8L828.9 1377.2L829.8 1385.7L830.6 1395.6L831.5 1407L832.3 1420.4L833.1 1436.3L834 1455.5L834.8 1476.3L841.5 1476.3L842.4 1453L843.2 1432.9L844 1416.2L844.9 1402L845.7 1389.7L846.6 1379.1L847.4 1369.7L848.2 1361.4L849.1 1354.2L849.9 1347.8L850.8 1342.2L851.6 1337.4L852.4 1333.2L853.3 1329.6L854.1 1326.6L854.9 1324.3L855.8 1322.5L856.6 1321.2L857.5 1320.5L858.3 1320.3L859.1 1320.8L860 1321.9L860.8 1323.7L861.7 1326.3L862.5 1329.6L863.3 1333.7L864.2 1338.7L865 1344.7L865.9 1351.8L866.7 1360.2L867.5 1370.1L868.4 1381.7L869.2 1395.5L870 1412.2L870.9 1432.7L871.7 1458.7L872.6 1476.3L876.8 1476.3L877.6 1443.6L878.4 1415.5L879.3 1393.5L880.1 1375.5L880.9 1360.6L881.8 1347.9L882.6 1337.2L883.5 1328L884.3 1320.1L885.1 1313.4L886 1307.7L886.8 1303L887.7 1299.1L888.5 1296.1L889.3 1293.9L890.2 1292.4L891 1291.8L891.9 1291.8L892.7 1292.7L893.5 1294.4L894.4 1296.9L895.2 1300.3L896 1304.6L896.9 1310L897.7 1316.5L898.6 1324.2L899.4 1333.5L900.2 1344.6L901.1 1357.8L901.9 1373.8L902.8 1393.5L903.6 1418.5L904.4 1451.8L905.3 1476.3L908.6 1476.3L909.5 1442.2L910.3 1412.5L911.1 1389.7L912 1371.5L912.8 1356.5L913.7 1343.9L914.5 1333.4L915.3 1324.6L916.2 1317.1L917 1310.9L917.9 1305.8L918.7 1301.7L919.5 1298.6L920.4 1296.3L921.2 1294.9L922 1294.3L922.9 1294.7L923.7 1296.1L924.6 1298.7L925.4 1302.6L926.2 1307.7L927.1 1314.2L927.9 1322.3L928.8 1332.3L929.6 1344.4L930.4 1359.3L931.3 1377.7L932.1 1401.1L933 1431.9L933.8 1475.7L934.6 1476.3L937.1 1476.3L938 1457.5L938.8 1426.9L939.7 1403.6L940.5 1385.2L941.3 1370.4L942.2 1358.3L943 1348.3L943.9 1340.2L944.7 1333.7L945.5 1328.6L946.4 1324.7L947.2 1322.1L948 1320.7L948.9 1320.3L949.7 1321.1L950.6 1323.1L951.4 1326.3L952.2 1330.7L953.1 1336.5L953.9 1343.9L954.8 1352.9L955.6 1364L956.4 1377.6L957.3 1394.3L958.1 1415.3L959 1442.3L959.8 1476.3L963.1 1476.3L964 1445.4L964.8 1410.7L965.7 1384.9L966.5 1364.8L967.3 1348.8L968.2 1335.7L969 1325L969.9 1316.3L970.7 1309.2L971.5 1303.7L972.4 1299.5L973.2 1296.6L974.1 1294.9L974.9 1294.3L975.7 1294.9L976.6 1296.7L977.4 1299.8L978.2 1304.2L979.1 1310.1L979.9 1317.5L980.8 1326.8L981.6 1338.1L982.4 1352.1L983.3 1369.4L984.1 1391.2L985 1419.6L985.8 1458.5L986.6 1476.3L988.3 1476.3L989.1 1475.3L990 1429.8L990.8 1397.8L991.7 1373.7L992.5 1354.7L993.3 1339.5L994.2 1327.1L995 1317.1L995.9 1308.9L996.7 1302.5L997.5 1297.5L998.4 1293.9L999.2 1291.6L1000.1 1290.5L1000.9 1290.6L1001.7 1292.1L1002.6 1294.9L1003.4 1299.1L1004.2 1304.8L1005.1 1312.2L1005.9 1321.5L1006.8 1333.1L1007.6 1347.5L1008.4 1365.3L1009.3 1388L1010.1 1417.9L1011 1459.5L1011.8 1476.3L1013.5 1476.3L1014.3 1470.1L1015.1 1429.1L1016 1399.5L1016.8 1376.9L1017.7 1359.1L1018.5 1344.8L1019.3 1333.2L1020.2 1323.9L1021 1316.5L1021.9 1310.8L1022.7 1306.6L1023.5 1303.8L1024.4 1302.3L1025.2 1302.2L1026.1 1303.3L1026.9 1305.8L1027.7 1309.6L1028.6 1314.9L1029.4 1321.7L1030.2 1330.4L1031.1 1341.1L1031.9 1354.4L1032.8 1370.9L1033.6 1391.7L1034.4 1418.6L1035.3 1455.5L1036.1 1476.3L1038.6 1476.3L1039.5 1454.5L1040.3 1420.3L1041.2 1394.8L1042 1375.1L1042.8 1359.3L1043.7 1346.6L1044.5 1336.3L1045.3 1328L1046.2 1321.5L1047 1316.5L1047.9 1313L1048.7 1310.8L1049.5 1309.9L1050.4 1310.3L1051.2 1312L1052.1 1315.1L1052.9 1319.6L1053.7 1325.7L1054.6 1333.5L1055.4 1343.3L1056.2 1355.4L1057.1 1370.6L1057.9 1389.6L1058.8 1414.1L1059.6 1447.1L1060.4 1476.3L1063.8 1476.3L1064.6 1466.3L1065.5 1437.3L1066.3 1415.2L1067.2 1397.9L1068 1384.1L1068.8 1372.9L1069.7 1363.9L1070.5 1356.9L1071.3 1351.4L1072.2 1347.5L1073 1345L1073.9 1343.8L1074.7 1343.9L1075.5 1345.4L1076.4 1348.2L1077.2 1352.4L1078.1 1358.1L1078.9 1365.6L1079.7 1374.9L1080.6 1386.6L1081.4 1401.1L1082.2 1419.2L1083.1 1442.4L1083.9 1473.4L1084.8 1476.3L1088.1 1476.3L1089 1442.2L1089.8 1411.2L1090.6 1388L1091.5 1369.9L1092.3 1355.4L1093.2 1343.7L1094 1334.4L1094.8 1326.9L1095.7 1321.2L1096.5 1317L1097.3 1314.2L1098.2 1312.7L1099 1312.6L1099.9 1313.5L1100.7 1315.4L1101.5 1318.4L1102.4 1322.6L1103.2 1327.9L1104.1 1334.6L1104.9 1342.8L1105.7 1352.7L1106.6 1364.6L1107.4 1379.2L1108.3 1397L1109.1 1419.4L1109.9 1448.5L1110.8 1476.3L1114.1 1476.3L1115 1443.7L1115.8 1410.7L1116.6 1385.9L1117.5 1366.4L1118.3 1350.6L1119.2 1337.7L1120 1327L1120.8 1318.2L1121.7 1310.9L1122.5 1305.1L1123.3 1300.5L1124.2 1297L1125 1294.6L1125.9 1293.3L1126.7 1293L1127.5 1293.8L1128.4 1295.7L1129.2 1298.8L1130.1 1303.1L1130.9 1308.8L1131.7 1316L1132.6 1324.8L1133.4 1335.6L1134.3 1348.8L1135.1 1365L1135.9 1385.3L1136.8 1411.4L1137.6 1447L1138.4 1476.3L1141 1476.3L1141.8 1453.3L1142.6 1415L1143.5 1387.4L1144.3 1366.1L1145.2 1349.2L1146 1335.4L1146.8 1324.2L1147.7 1315L1148.5 1307.5L1149.3 1301.6L1150.2 1297L1151 1293.6L1151.9 1291.5L1152.7 1290.5L1153.5 1290.6L1154.4 1292L1155.2 1294.6L1156.1 1298.6L1156.9 1304L1157.7 1311L1158.6 1319.8L1159.4 1330.7L1160.3 1344.2L1161.1 1360.9L1161.9 1381.9L1162.8 1409.4L1163.6 1447.5L1164.4 1476.3L1167 1476.3L1167.8 1438.7L1168.6 1403.2L1169.5 1377.3L1170.3 1357.2L1171.2 1341.2L1172 1328.4L1172.8 1317.9L1173.7 1309.5L1174.5 1302.8L1175.4 1297.7L1176.2 1294L1177 1291.6L1177.9 1290.5L1178.7 1290.7L1179.5 1292.3L1180.4 1295.6L1181.2 1300.5L1182.1 1307.1L1182.9 1315.9L1183.7 1327L1184.6 1341L1185.4 1358.7L1186.3 1381.6L1187.1 1412.3L1187.9 1456.9L1188.8 1476.3L1189.6 1476.3L1190.4 1361.6L1191.3 1283.4L1192.1 1237.6L1193 1205.2L1193.8 1180L1194.6 1159.4L1195.5 1142.1L1196.3 1127L1197.2 1113.8L1198 1101.9L1198.8 1091.2L1199.7 1081.4L1200.5 1072.4L1201.4 1064.2L1202.2 1056.8L1203 1050.1L1203.9 1043.8L1204.7 1037.8L1205.5 1032L1206.4 1026.4L1207.2 1020.7L1208.1 1015L1208.9 1009.2L1209.7 1003.3L1210.6 997.4L1211.4 991.4L1212.3 985.5L1213.1 979.6L1213.9 973.7L1214.8 967.8L1215.6 962.1L1216.5 956.3L1217.3 950.7L1218.1 945.1L1219 939.6L1219.8 934.1L1220.6 928.5L1221.5 922.9L1222.3 917.4L1223.2 911.9L1224 906.5L1224.8 901.2L1225.7 896L1226.5 890.9L1227.4 886L1228.2 881.2L1229 876.6L1229.9 873.3L1230.7 870.4L1231.5 867.6L1232.4 865L1233.2 862.5L1234.1 860.1L1234.9 857.8L1235.7 855.6L1236.6 853.5L1237.4 851.5L1238.3 849.6L1239.1 847.8L1239.9 846L1240.8 844.3L1241.6 842.7L1242.5 841.2L1243.3 839.7L1244.1 838.3L1245 836.9L1245.8 835.6L1246.6 834.4L1247.5 833.2L1248.3 832.1L1249.2 831L1250 829.9L1250.8 828.9L1251.7 828L1252.5 827.1L1253.4 826.2L1254.2 825.4L1255 824.6L1255.9 823.8L1256.7 823.1L1257.5 822.4L1258.4 821.7L1259.2 821.1L1260.1 820.5L1260.9 819.9L1261.7 819.3L1262.6 818.8L1263.4 818.3L1264.3 817.8L1265.1 817.4L1265.9 817L1266.8 816.5L1267.6 816.2L1268.5 815.8L1269.3 815.4L1270.1 815.1L1271 814.8L1271.8 814.5L1272.6 814.2L1273.5 814L1274.3 813.7L1275.2 813.5L1276 813.3L1276.8 813.1L1277.7 812.9L1278.5 812.7L1279.4 812.5L1280.2 812.4L1281 812.2L1281.9 812.1L1282.7 812L1283.5 811.8L1284.4 811.7L1285.2 811.6L1286.1 811.5L1286.9 811.4L1287.7 811.4L1288.6 811.3L1289.4 811.2L1290.3 811.2L1291.1 811.1L1291.9 811.1L1292.8 811L1293.6 811L1294.5 810.9L1295.3 810.9L1296.1 810.9L1297 810.8L1297.8 810.8L1298.6 810.8L1299.5 810.8L1300.3 810.8L1301.2 810.8L1302 810.7L1302.8 810.7L1303.7 810.7L1304.5 810.7L1305.4 810.7L1306.2 810.7L1307 810.7L1307.9 810.7L1308.7 810.7L1309.6 810.7L1310.4 810.7L1311.2 810.7L1312.1 810.7" stroke="#FF0000" stroke-width="11.2" stroke-linecap="round"/>
</g>
<g font-family='"Liberation Sans", Arial, Helvetica, sans-serif' font-size="25.8" fill="#000">
<text x="109.3" y="1499.8" text-anchor="middle">0</text>
<text x="277.1" y="1499.8" text-anchor="middle">50</text>
<text x="444.8" y="1499.8" text-anchor="middle">100</text>
<text x="612.5" y="1499.8" text-anchor="middle">150</text>
<text x="780.3" y="1499.8" text-anchor="middle">200</text>
<text x="948" y="1499.8" text-anchor="middle">250</text>
<text x="1115.8" y="1499.8" text-anchor="middle">300</text>
<text x="1283.5" y="1499.8" text-anchor="middle">350</text>
<text x="98.6" y="821.9" text-anchor="end">0</text>
<text x="98.6" y="886.9" text-anchor="end">-5</text>
<text x="98.6" y="951.9" text-anchor="end">-10</text>
<text x="98.6" y="1016.9" text-anchor="end">-15</text>
<text x="98.6" y="1081.9" text-anchor="end">-20</text>
<text x="98.6" y="1146.9" text-anchor="end">-25</text>
<text x="98.6" y="1211.9" text-anchor="end">-30</text>
<text x="98.6" y="1276.9" text-anchor="end">-35</text>
<text x="98.6" y="1341.9" text-anchor="end">-40</text>
<text x="98.6" y="1406.9" text-anchor="end">-45</text>
<text x="98.6" y="1471.9" text-anchor="end">-50</text>
</g>
<text transform="translate(714.6 1543.6) scale(1.065 1)" text-anchor="middle" font-family='"Liberation Sans", Arial, Helvetica, sans-serif' font-size="27.3">Elevation angle (deg)</text>
<text transform="translate(24.5 1140.6) rotate(-90)" text-anchor="middle" font-family='"Liberation Sans", Arial, Helvetica, sans-serif' font-size="33.4">Normalized AF (dB)</text>
<text x="709.5" y="1601.3" text-anchor="middle" font-family='"Liberation Serif", "Times New Roman", serif' font-size="42.5">(b)</text>
<rect x="241.3" y="833.8" width="953.5" height="38" fill="#fff" stroke="#000" stroke-width="1.5"/>
<path d="M249.5 852.8H304.5" stroke="#0072BD" stroke-width="4.6" fill="none" stroke-dasharray="17.5,17"/>
<text transform="translate(311.6 861) scale(1.0 1)" font-family='"Liberation Sans", Arial, Helvetica, sans-serif' font-size="22.9">Uniform</text>
<path d="M402 852.8H457.5" stroke="#FF00FF" stroke-width="4.6" fill="none" stroke-dasharray="18.5,4.3,9,4.3"/>
<text transform="translate(465.2 861) scale(1.0 1)" font-family='"Liberation Sans", Arial, Helvetica, sans-serif' font-size="22.9">SSA</text>
<path d="M521.3 852.8H579.1" stroke="#0000FF" stroke-width="6.8" fill="none"/>
<text transform="translate(584 861) scale(1.0 1)" font-family='"Liberation Sans", Arial, Helvetica, sans-serif' font-size="22.9">CS</text>
<path d="M626.1 852.8H681" stroke="#00FF00" stroke-width="4.6" fill="none" stroke-dasharray="17.5,17"/>
<text transform="translate(689 861) scale(1.0 1)" font-family='"Liberation Sans", Arial, Helvetica, sans-serif' font-size="22.9">AHOA</text>
<path d="M763.4 852.8H821.5" stroke="#FFCC00" stroke-width="4.6" fill="none" stroke-dasharray="4.4,4.3"/>
<text transform="translate(826.6 861) scale(1.0 1)" font-family='"Liberation Sans", Arial, Helvetica, sans-serif' font-size="22.9">ChOA</text>
<path d="M898.7 852.8H953.8" stroke="#D95319" stroke-width="4.6" fill="none" stroke-dasharray="18.5,4.3,9,4.3"/>
<text transform="translate(960.2 861) scale(1.0 1)" font-family='"Liberation Sans", Arial, Helvetica, sans-serif' font-size="22.9">NMRA</text>
<path d="M1039.2 852.8H1097.1" stroke="#FF0000" stroke-width="11.2" fill="none"/>
<text transform="translate(1102.4 861) scale(1.0 1)" font-family='"Liberation Sans", Arial, Helvetica, sans-serif' font-size="22.9">ANMRA</text>
</g>
<g id="panel-c">
<path d="M735.6 1999.5L1006.6 1999.5M735.6 1999.5L970.3 1872.8M735.6 1999.5L871.1 1780M735.6 1999.5L735.6 1746M735.6 1999.5L600.1 1780M735.6 1999.5L500.9 1872.8M735.6 1999.5L464.6 1999.5M735.6 1999.5L500.9 2126.2M735.6 1999.5L600.1 2219M735.6 1999.5L735.6 2253M735.6 1999.5L871.1 2219M735.6 1999.5L970.3 2126.2" stroke="#d6d6d6" stroke-width="1.6" fill="none"/>
<ellipse cx="735.6" cy="1999.5" rx="53" ry="49.6" fill="none" stroke="#d6d6d6" stroke-width="1.6"/>
<ellipse cx="735.6" cy="1999.5" rx="125.7" ry="117.6" fill="none" stroke="#d6d6d6" stroke-width="1.6"/>
<ellipse cx="735.6" cy="1999.5" rx="198.3" ry="185.5" fill="none" stroke="#d6d6d6" stroke-width="1.6"/>
<ellipse cx="735.6" cy="1999.5" rx="271" ry="253.5" fill="none" stroke="#b4b4b4" stroke-width="1.8"/>
<g font-family='"Liberation Sans", Arial, Helvetica, sans-serif' font-size="19.6" fill="#000" text-anchor="middle">
<text transform="translate(1021.5 2007.2) scale(1.12 1)">0</text>
<text transform="translate(989.7 1864.2) scale(1.12 1)">30</text>
<text transform="translate(886.8 1768.2) scale(1.12 1)">60</text>
<text transform="translate(734.4 1733.2) scale(1.12 1)">90</text>
<text transform="translate(575.3 1768.2) scale(1.12 1)">120</text>
<text transform="translate(472.9 1864.2) scale(1.12 1)">150</text>
<text transform="translate(435.5 2007.2) scale(1.12 1)">180</text>
<text transform="translate(472.4 2151.5) scale(1.12 1)">210</text>
<text transform="translate(575.3 2247) scale(1.12 1)">240</text>
<text transform="translate(734.4 2282.9) scale(1.12 1)">270</text>
<text transform="translate(894 2247) scale(1.12 1)">300</text>
<text transform="translate(995.5 2151.5) scale(1.12 1)">330</text>
<text transform="translate(782 1759.2) scale(1.12 1)">0</text>
<text transform="translate(771 1824.2) scale(1.12 1)">-20</text>
</g>
<g fill="none" stroke-linejoin="round">
<path d="M1006.6 1996.2L1006.5 1994L1006.5 1991.8L1006.4 1989.5L1006.3 1987.3L1006.2 1985.1L1006 1982.9L1005.8 1980.7L1005.7 1978.5L1005.4 1976.3L1005.2 1974.1L1004.9 1971.9L1004.7 1969.7L1004.4 1967.5L1004 1965.3L1003.7 1963.1L1003.3 1961L1002.9 1958.8L1002.4 1956.6L1001.9 1954.4L1001.5 1952.3L1000.9 1950.1L1000.4 1948L999.8 1945.8L999.1 1943.7L998.5 1941.6L997.8 1939.5L997.1 1937.4L996.3 1935.3L995.5 1933.2L994.6 1931.2L993.8 1929.1L992.8 1927.1L991.9 1925.1L990.9 1923.1L989.8 1921.1L988.7 1919.1L987.5 1917.2L986.3 1915.3L985.1 1913.4L983.7 1911.6L982.4 1909.7L980.9 1907.9L979.4 1906.2L977.9 1904.5L976.3 1902.8L974.6 1901.1L972.8 1899.5L971 1898L970 1897.2L969.1 1896.5L968.1 1895.8L967.1 1895.1L966.1 1894.4L965 1893.7L963.9 1893L962.8 1892.4L961.7 1891.7L960.5 1891.1L959.4 1890.5L958.2 1890L956.9 1889.4L955.7 1888.9L954.4 1888.4L953.1 1887.9L951.7 1887.4L950.3 1887L948.9 1886.6L947.4 1886.2L945.9 1885.9L944.4 1885.6L942.8 1885.3L941.1 1885.1L939.4 1884.9L937.7 1884.8L935.9 1884.7L934 1884.6L932.1 1884.7L930.1 1884.7L928 1884.9L925.8 1885.1L923.5 1885.4L921.1 1885.7L918.6 1886.2L915.9 1886.8L913.1 1887.5L910 1888.4L906.7 1889.5L903.2 1890.8L899.3 1892.3L894.9 1894.2L889.9 1896.6L884 1899.5L876.9 1903.5L867.6 1908.9L853.9 1917.6L824.8 1937.2L826.3 1935.6L852.6 1916.2L864.6 1906.9L872.2 1900.5L877.7 1895.7L881.8 1891.7L885.1 1888.2L887.8 1885.2L890 1882.6L891.8 1880.2L893.3 1877.9L894.5 1875.9L895.5 1874L896.4 1872.2L897.1 1870.5L897.6 1868.9L898 1867.4L898.3 1866L898.5 1864.7L898.6 1863.4L898.6 1862.2L898.4 1860L897.8 1858L897 1856.2L896 1854.6L894.7 1853.2L893.2 1852L891.5 1851.1L889.6 1850.3L887.5 1849.8L885.2 1849.5L883.9 1849.4L882.6 1849.4L881.2 1849.5L879.8 1849.7L878.3 1850L876.7 1850.3L875.1 1850.7L873.3 1851.3L871.5 1851.9L869.6 1852.7L867.6 1853.6L865.5 1854.7L863.2 1856L860.8 1857.5L858.2 1859.2L855.3 1861.2L852.2 1863.6L848.8 1866.4L844.9 1869.8L840.4 1874.1L834.9 1879.5L827.8 1887L817.6 1898.7L796.6 1923.7L794.6 1925.6L815.3 1898.8L824.3 1886.4L829.8 1878.2L833.7 1872L836.6 1867L838.8 1862.9L840.5 1859.3L841.9 1856.2L842.9 1853.5L843.7 1851L844.3 1848.8L844.7 1846.8L845 1844.9L845.1 1843.3L845.1 1841.7L845 1840.3L844.9 1839.1L844.2 1836.9L843.3 1835.1L842.1 1833.7L840.7 1832.6L839 1832L837.1 1831.7L835 1831.8L832.6 1832.3L831.4 1832.7L830.1 1833.3L828.7 1834L827.3 1834.8L825.8 1835.8L824.2 1836.9L822.5 1838.2L820.7 1839.8L818.9 1841.5L816.9 1843.6L814.8 1846L812.4 1848.8L809.9 1852.1L807.1 1856.1L803.9 1860.9L800.1 1867.1L795.4 1875.4L788.8 1887.7L776.8 1911.9L766.4 1933.2L783.9 1894.3L790.3 1878.9L794 1869.2L796.5 1862L798.2 1856.4L799.4 1851.8L800.3 1847.9L800.9 1844.5L801.2 1841.6L801.5 1839L801.5 1836.8L801.5 1834.7L801.3 1833L801 1831.4L800.7 1830L800.3 1828.7L799.2 1826.7L797.9 1825.2L796.5 1824.2L794.8 1823.8L793 1823.8L791.1 1824.3L789 1825.4L787.9 1826.2L786.7 1827.1L785.5 1828.2L784.3 1829.4L783.1 1830.9L781.7 1832.6L780.4 1834.6L779 1836.8L777.5 1839.4L775.9 1842.5L774.2 1846L772.4 1850.3L770.5 1855.4L768.2 1861.8L765.6 1870.4L762.1 1882.7L756.6 1905.1L745.1 1955.8L757.5 1896.6L760.7 1878.5L762.4 1867.6L763.3 1859.7L763.8 1853.7L764 1848.8L764 1844.7L763.9 1841.2L763.7 1838.2L763.3 1835.7L762.9 1833.4L762.4 1831.4L761.9 1829.7L761.3 1828.2L760.7 1827L760 1825.9L758.6 1824.2L757.1 1823.1L755.5 1822.6L753.8 1822.7L752.1 1823.3L750.3 1824.5L749.4 1825.4L748.5 1826.4L747.6 1827.6L746.8 1828.9L745.9 1830.5L745 1832.3L744.1 1834.4L743.2 1836.8L742.3 1839.5L741.5 1842.7L740.6 1846.4L739.8 1850.7L738.9 1855.9L738.2 1862.4L737.4 1870.8L736.7 1882.7L736 1903.2L735.6 1999.5L735.2 1903.4L734.5 1883.1L733.8 1871.4L733.1 1863.2L732.3 1856.9L731.5 1851.9L730.6 1847.8L729.8 1844.3L729 1841.4L728.1 1838.8L727.2 1836.6L726.4 1834.8L725.5 1833.1L724.6 1831.8L723.8 1830.6L722.9 1829.6L721.2 1828.2L719.5 1827.3L717.9 1827.1L716.3 1827.4L714.8 1828.3L713.3 1829.8L712 1831.9L711.4 1833.2L710.8 1834.7L710.3 1836.4L709.8 1838.3L709.4 1840.4L709.1 1842.9L708.8 1845.7L708.6 1848.9L708.6 1852.5L708.7 1856.8L709 1861.9L709.6 1868.2L710.6 1876.2L712.3 1887.3L715.6 1905.6L728.1 1965L716.7 1914.5L711.2 1892.3L707.9 1880.1L705.3 1871.8L703.2 1865.6L701.3 1860.6L699.6 1856.6L698.1 1853.2L696.6 1850.4L695.2 1848L693.9 1845.9L692.6 1844.1L691.4 1842.6L690.3 1841.3L689.2 1840.3L688.1 1839.4L687.1 1838.6L685.2 1837.7L683.4 1837.2L681.8 1837.3L680.3 1837.9L679 1839L677.9 1840.6L677.1 1842.7L676.7 1844L676.5 1845.4L676.3 1847L676.2 1848.8L676.2 1850.8L676.3 1853L676.5 1855.4L676.8 1858.2L677.4 1861.3L678.2 1864.8L679.2 1868.9L680.6 1873.7L682.5 1879.5L685.1 1886.8L689 1896.8L695.6 1912.3L713.2 1951.3L703 1930.2L691.2 1906.3L684.8 1894.1L680.3 1886L676.7 1880L673.7 1875.3L671.1 1871.5L668.7 1868.4L666.6 1865.7L664.7 1863.5L662.9 1861.6L661.3 1860L659.7 1858.6L658.2 1857.5L656.9 1856.5L655.6 1855.7L654.4 1855L653.2 1854.5L651.1 1853.9L649.2 1853.7L647.5 1853.9L646.1 1854.5L644.9 1855.5L644 1856.8L643.3 1858.5L642.8 1860.6L642.7 1861.8L642.7 1863.1L642.8 1864.6L643 1866.1L643.3 1867.8L643.7 1869.6L644.2 1871.6L644.9 1873.7L645.8 1876.1L646.8 1878.7L648.2 1881.6L649.8 1884.9L651.8 1888.5L654.3 1892.8L657.4 1897.9L661.6 1904.2L667.5 1912.6L676.8 1925.1L697.7 1952.1L696 1950.4L675.4 1925.4L665.4 1913.9L658.7 1906.5L653.5 1901.2L649.3 1897.1L645.7 1893.8L642.6 1891.1L639.8 1888.8L637.3 1886.9L635 1885.3L632.9 1884L631 1882.9L629.2 1881.9L627.5 1881.1L625.9 1880.4L624.4 1879.9L623.1 1879.5L621.8 1879.1L620.5 1878.9L618.3 1878.7L616.3 1878.8L614.6 1879.2L613.1 1879.8L611.8 1880.7L610.8 1881.7L610 1883L609.4 1884.5L609 1886.1L608.9 1888L609 1890.1L609.5 1892.3L609.8 1893.6L610.3 1894.9L610.8 1896.2L611.4 1897.6L612.1 1899.1L613 1900.7L613.9 1902.3L615.1 1904L616.4 1905.9L617.8 1907.9L619.5 1910L621.5 1912.3L623.7 1914.8L626.4 1917.5L629.5 1920.5L633.2 1924L637.8 1928.1L643.8 1933L651.9 1939.4L664.3 1948.8L691.2 1968.2L693.2 1969.9L664.6 1950.3L651.3 1941.7L642.5 1936.2L635.9 1932.4L630.6 1929.4L626.1 1927.1L622.2 1925.2L618.8 1923.7L615.8 1922.5L613 1921.4L610.5 1920.6L608.2 1919.9L606.1 1919.3L604.1 1918.8L602.2 1918.5L600.5 1918.2L598.9 1918L597.3 1917.9L595.9 1917.8L594.5 1917.8L593.2 1917.9L592 1918L589.7 1918.3L587.7 1918.8L585.8 1919.4L584.1 1920.2L582.6 1921L581.3 1921.9L580.1 1923L579 1924.1L578.1 1925.2L577.3 1926.5L576.6 1927.7L576 1929.1L575.5 1930.5L575.1 1931.9L574.9 1933.3L574.7 1934.8L574.6 1936.3L574.6 1937.9L574.8 1939.5L575 1941.1L575.3 1942.7L575.7 1944.3L576.2 1946L576.8 1947.6L577.4 1949.3L578.2 1951L579.1 1952.6L580.1 1954.3L581.1 1956L582.3 1957.7L583.6 1959.4L584.9 1961.1L586.4 1962.8L588 1964.4L589.7 1966.1L590.6 1966.9L591.5 1967.8L592.4 1968.6L593.4 1969.4L594.5 1970.2L595.5 1971L596.6 1971.9L597.7 1972.7L598.9 1973.5L600.1 1974.3L601.3 1975.1L602.6 1975.9L603.9 1976.7L605.2 1977.4L606.6 1978.2L608.1 1979L609.6 1979.8L611.1 1980.5L612.7 1981.3L614.3 1982L616.1 1982.8L617.8 1983.5L619.6 1984.3L621.5 1985L623.5 1985.7L625.6 1986.4L627.7 1987.1L629.9 1987.8L632.2 1988.5L634.6 1989.2L637.1 1989.8L639.7 1990.5L642.5 1991.1L645.3 1991.7L648.4 1992.4L651.6 1993L654.9 1993.6L658.5 1994.1L662.3 1994.7L666.3 1995.3L670.6 1995.8L675.3 1996.3L680.3 1996.8L685.8 1997.3L691.8 1997.7L698.4 1998.1L705.8 1998.5L714.3 1998.9L724 1999.2L735.5 1999.5L724 1999.8L714.3 2000.1L705.8 2000.5L698.4 2000.9L691.8 2001.3L685.8 2001.7L680.3 2002.2L675.3 2002.7L670.6 2003.2L666.3 2003.7L662.3 2004.3L658.5 2004.9L654.9 2005.4L651.6 2006L648.4 2006.6L645.3 2007.3L642.5 2007.9L639.7 2008.5L637.1 2009.2L634.6 2009.8L632.2 2010.5L629.9 2011.2L627.7 2011.9L625.6 2012.6L623.5 2013.3L621.5 2014L619.6 2014.7L617.8 2015.5L616.1 2016.2L614.3 2017L612.7 2017.7L611.1 2018.5L609.6 2019.2L608.1 2020L606.6 2020.8L605.2 2021.6L603.9 2022.3L602.6 2023.1L601.3 2023.9L600.1 2024.7L598.9 2025.5L597.7 2026.3L596.6 2027.1L595.5 2028L594.5 2028.8L593.4 2029.6L592.4 2030.4L591.5 2031.2L590.6 2032.1L589.7 2032.9L588 2034.6L586.4 2036.2L584.9 2037.9L583.6 2039.6L582.3 2041.3L581.1 2043L580.1 2044.7L579.1 2046.4L578.2 2048L577.4 2049.7L576.8 2051.4L576.2 2053L575.7 2054.7L575.3 2056.3L575 2057.9L574.8 2059.5L574.6 2061.1L574.6 2062.7L574.7 2064.2L574.9 2065.7L575.1 2067.1L575.5 2068.5L576 2069.9L576.6 2071.3L577.3 2072.5L578.1 2073.8L579 2074.9L580.1 2076L581.3 2077.1L582.6 2078L584.1 2078.8L585.8 2079.6L587.7 2080.2L589.7 2080.7L592 2081L593.2 2081.1L594.5 2081.2L595.9 2081.2L597.3 2081.1L598.9 2081L600.5 2080.8L602.2 2080.5L604.1 2080.2L606.1 2079.7L608.2 2079.1L610.5 2078.4L613 2077.6L615.8 2076.5L618.8 2075.3L622.2 2073.8L626.1 2071.9L630.6 2069.6L635.9 2066.6L642.5 2062.8L651.3 2057.3L664.6 2048.7L693.2 2029.1L691.2 2030.8L664.3 2050.2L651.9 2059.6L643.8 2066L637.8 2070.9L633.2 2075L629.5 2078.5L626.4 2081.5L623.7 2084.2L621.5 2086.7L619.5 2089L617.8 2091.1L616.4 2093.1L615.1 2095L613.9 2096.7L613 2098.3L612.1 2099.9L611.4 2101.4L610.8 2102.8L610.3 2104.1L609.8 2105.4L609.5 2106.7L609 2108.9L608.9 2111L609 2112.9L609.4 2114.5L610 2116L610.8 2117.3L611.8 2118.3L613.1 2119.2L614.6 2119.8L616.3 2120.2L618.3 2120.3L620.5 2120.1L621.8 2119.9L623.1 2119.5L624.4 2119.1L625.9 2118.6L627.5 2117.9L629.2 2117.1L631 2116.1L632.9 2115L635 2113.7L637.3 2112.1L639.8 2110.2L642.6 2107.9L645.7 2105.2L649.3 2101.9L653.5 2097.8L658.7 2092.5L665.4 2085.1L675.4 2073.6L696 2048.6L697.7 2046.9L676.8 2073.9L667.5 2086.4L661.6 2094.8L657.4 2101.1L654.3 2106.2L651.8 2110.5L649.8 2114.1L648.2 2117.4L646.8 2120.3L645.8 2122.9L644.9 2125.3L644.2 2127.4L643.7 2129.4L643.3 2131.2L643 2132.9L642.8 2134.4L642.7 2135.9L642.7 2137.2L642.8 2138.4L643.3 2140.5L644 2142.2L644.9 2143.5L646.1 2144.5L647.5 2145.1L649.2 2145.3L651.1 2145.1L653.2 2144.5L654.4 2144L655.6 2143.3L656.9 2142.5L658.2 2141.5L659.7 2140.4L661.3 2139L662.9 2137.4L664.7 2135.5L666.6 2133.3L668.7 2130.6L671.1 2127.5L673.7 2123.7L676.7 2119L680.3 2113L684.8 2104.9L691.2 2092.7L703 2068.8L713.2 2047.7L695.6 2086.7L689 2102.2L685.1 2112.2L682.5 2119.5L680.6 2125.3L679.2 2130.1L678.2 2134.2L677.4 2137.7L676.8 2140.8L676.5 2143.6L676.3 2146L676.2 2148.2L676.2 2150.2L676.3 2152L676.5 2153.6L676.7 2155L677.1 2156.3L677.9 2158.4L679 2160L680.3 2161.1L681.8 2161.7L683.4 2161.8L685.2 2161.3L687.1 2160.4L688.1 2159.6L689.2 2158.7L690.3 2157.7L691.4 2156.4L692.6 2154.9L693.9 2153.1L695.2 2151L696.6 2148.6L698.1 2145.8L699.6 2142.4L701.3 2138.4L703.2 2133.4L705.3 2127.2L707.9 2118.9L711.2 2106.7L716.7 2084.5L728.1 2034L715.6 2093.4L712.3 2111.7L710.6 2122.8L709.6 2130.8L709 2137.1L708.7 2142.2L708.6 2146.5L708.6 2150.1L708.8 2153.3L709.1 2156.1L709.4 2158.6L709.8 2160.7L710.3 2162.6L710.8 2164.3L711.4 2165.8L712 2167.1L712.7 2168.2L714 2170L715.5 2171.2L717.1 2171.8L718.7 2171.8L720.3 2171.3L722 2170.2L723.8 2168.4L724.6 2167.2L725.5 2165.9L726.4 2164.2L727.2 2162.4L728.1 2160.2L729 2157.6L729.8 2154.7L730.6 2151.2L731.5 2147.1L732.3 2142.1L733.1 2135.8L733.8 2127.6L734.5 2115.9L735.2 2095.6L735.6 1999.5L736 2095.8L736.7 2116.3L737.4 2128.2L738.2 2136.6L738.9 2143.1L739.8 2148.3L740.6 2152.6L741.5 2156.3L742.3 2159.5L743.2 2162.2L744.1 2164.6L745 2166.7L745.9 2168.5L746.8 2170.1L747.6 2171.4L748.5 2172.6L749.4 2173.6L750.3 2174.5L752.1 2175.7L753.8 2176.3L755.5 2176.4L757.1 2175.9L758.6 2174.8L760 2173.1L760.7 2172L761.3 2170.8L761.9 2169.3L762.4 2167.6L762.9 2165.6L763.3 2163.3L763.7 2160.8L763.9 2157.8L764 2154.3L764 2150.2L763.8 2145.3L763.3 2139.3L762.4 2131.4L760.7 2120.5L757.5 2102.4L745.1 2043.2L756.6 2093.9L762.1 2116.3L765.6 2128.6L768.2 2137.2L770.5 2143.6L772.4 2148.7L774.2 2153L775.9 2156.5L777.5 2159.6L779 2162.2L780.4 2164.4L781.7 2166.4L783.1 2168.1L784.3 2169.6L785.5 2170.8L786.7 2171.9L787.9 2172.8L789 2173.6L790 2174.2L792.1 2175L794 2175.3L795.7 2175.1L797.2 2174.3L798.6 2173.1L799.8 2171.4L800.7 2169L801 2167.6L801.3 2166L801.5 2164.3L801.5 2162.2L801.5 2160L801.2 2157.4L800.9 2154.5L800.3 2151.1L799.4 2147.2L798.2 2142.6L796.5 2137L794 2129.8L790.3 2120.1L783.9 2104.7L766.4 2065.8L776.8 2087.1L788.8 2111.3L795.4 2123.6L800.1 2131.9L803.9 2138.1L807.1 2142.9L809.9 2146.9L812.4 2150.2L814.8 2153L816.9 2155.4L818.9 2157.5L820.7 2159.2L822.5 2160.8L824.2 2162.1L825.8 2163.2L827.3 2164.2L828.7 2165L830.1 2165.7L831.4 2166.3L832.6 2166.7L833.8 2167L836.1 2167.3L838.1 2167.2L839.9 2166.7L841.4 2165.9L842.7 2164.7L843.8 2163.1L844.6 2161.1L845 2158.7L845.1 2157.3L845.1 2155.7L845 2154.1L844.7 2152.2L844.3 2150.2L843.7 2148L842.9 2145.5L841.9 2142.8L840.5 2139.7L838.8 2136.1L836.6 2132L833.7 2127L829.8 2120.8L824.3 2112.6L815.3 2100.2L794.6 2073.4L796.6 2075.3L817.6 2100.3L827.8 2112L834.9 2119.5L840.4 2124.9L844.9 2129.2L848.8 2132.6L852.2 2135.4L855.3 2137.8L858.2 2139.8L860.8 2141.5L863.2 2143L865.5 2144.3L867.6 2145.4L869.6 2146.3L871.5 2147.1L873.3 2147.7L875.1 2148.3L876.7 2148.7L878.3 2149L879.8 2149.3L881.2 2149.5L882.6 2149.6L883.9 2149.6L885.2 2149.5L886.4 2149.4L888.6 2149L890.6 2148.3L892.4 2147.5L894 2146.4L895.4 2145.1L896.5 2143.6L897.5 2141.9L898.1 2140L898.5 2137.9L898.6 2135.6L898.5 2134.3L898.3 2133L898 2131.6L897.6 2130.1L897.1 2128.5L896.4 2126.8L895.5 2125L894.5 2123.1L893.3 2121.1L891.8 2118.8L890 2116.4L887.8 2113.8L885.1 2110.8L881.8 2107.3L877.7 2103.3L872.2 2098.5L864.6 2092.1L852.6 2082.8L826.3 2063.4L824.8 2061.8L853.9 2081.4L867.6 2090.1L876.9 2095.5L884 2099.5L889.9 2102.4L894.9 2104.8L899.3 2106.7L903.2 2108.2L906.7 2109.5L910 2110.6L913.1 2111.5L915.9 2112.2L918.6 2112.8L921.1 2113.3L923.5 2113.6L925.8 2113.9L928 2114.1L930.1 2114.3L932.1 2114.3L934 2114.4L935.9 2114.3L937.7 2114.2L939.4 2114.1L941.1 2113.9L942.8 2113.7L944.4 2113.4L945.9 2113.1L947.4 2112.8L948.9 2112.4L950.3 2112L951.7 2111.6L953.1 2111.1L954.4 2110.6L955.7 2110.1L956.9 2109.6L958.2 2109L959.4 2108.5L960.5 2107.9L961.7 2107.3L962.8 2106.6L963.9 2106L965 2105.3L966.1 2104.6L967.1 2103.9L968.1 2103.2L969.1 2102.5L970 2101.8L971 2101L971.9 2100.2L973.7 2098.7L975.4 2097.1L977.1 2095.4L978.7 2093.7L980.2 2091.9L981.7 2090.2L983.1 2088.4L984.4 2086.5L985.7 2084.6L986.9 2082.8L988.1 2080.8L989.2 2078.9L990.3 2076.9L991.4 2074.9L992.4 2072.9L993.3 2070.9L994.2 2068.9L995.1 2066.8L995.9 2064.7L996.7 2062.7L997.4 2060.6L998.1 2058.5L998.8 2056.3L999.5 2054.2L1000.1 2052.1L1000.6 2049.9L1001.2 2047.8L1001.7 2045.6L1002.2 2043.5L1002.6 2041.3L1003.1 2039.1L1003.5 2036.9L1003.8 2034.8L1004.2 2032.6L1004.5 2030.4L1004.8 2028.2L1005.1 2026L1005.3 2023.8L1005.6 2021.6L1005.8 2019.4L1005.9 2017.2L1006.1 2015L1006.2 2012.8L1006.3 2010.6L1006.4 2008.3L1006.5 2006.1L1006.6 2003.9L1006.6 2002.8" stroke="#0072BD" stroke-width="4.2" stroke-dasharray="14,13.6"/>
<path d="M1006.6 1996.2L1006.5 1994L1006.5 1991.8L1006.4 1989.5L1006.3 1987.3L1006.1 1985.1L1006 1982.9L1005.8 1980.7L1005.6 1978.5L1005.4 1976.3L1005.1 1974.1L1004.8 1971.9L1004.4 1969.7L1004 1967.6L1003.6 1965.4L1003.1 1963.2L1002.6 1961.1L1002 1958.9L1001.4 1956.8L1000.7 1954.7L999.9 1952.6L999.1 1950.5L998.2 1948.4L997.2 1946.4L996.1 1944.4L994.9 1942.4L993.6 1940.4L992.2 1938.5L991.4 1937.6L990.6 1936.7L989.8 1935.8L988.9 1934.9L988 1934L987.1 1933.2L986.1 1932.3L985 1931.5L983.9 1930.7L982.8 1929.9L981.6 1929.2L980.3 1928.4L979 1927.7L977.6 1927.1L976.1 1926.4L974.9 1925.7L973.7 1925L972.5 1924.3L971.2 1923.6L969.8 1923L968.4 1922.4L967 1921.8L965.5 1921.2L963.9 1920.7L962.2 1920.2L960.5 1919.8L958.6 1919.4L956.7 1919.1L954.6 1918.8L952.5 1918.6L950 1918.5L947.4 1918.5L944.5 1918.6L941.5 1918.7L938.3 1919L935.1 1919.3L931.8 1919.7L928.2 1920.2L924.5 1920.8L920.7 1921.5L917.2 1922.1L914.1 1922.5L910.8 1923.1L907.3 1923.7L903.5 1924.6L899.4 1925.6L894.8 1926.8L889.9 1928.3L884.3 1930.1L878.2 1932.3L871.1 1934.9L863 1938.1L853.5 1942.1L841.8 1947.2L827 1954L806.5 1963.9L773.2 1980.4L735.6 1999.5L846 1942.2L868.1 1930.1L879.8 1923.2L887.8 1918.1L893.7 1914.1L898.3 1910.7L902.1 1907.7L905.3 1905.1L907.9 1902.6L910.2 1900.4L912.1 1898.3L913.8 1896.3L915.3 1894.5L916.5 1892.7L917.6 1891.1L918.5 1889.5L919.3 1887.9L919.9 1886.4L920.5 1885L920.9 1883.7L921.2 1882.4L921.5 1881.1L921.6 1879.9L921.7 1877.6L921.5 1875.5L921 1873.5L920.2 1871.7L919.2 1870.1L917.9 1868.6L916.1 1867.6L914.9 1867.3L913.6 1867.1L912.1 1867L910.5 1867L908.7 1867.2L906.6 1867.6L904.3 1868.2L901.8 1869L899 1870.1L895.8 1871.5L892.2 1873.3L887.9 1875.6L882.9 1878.6L876.8 1882.7L868.7 1888.4L856.9 1897.4L833.5 1916.3L825 1922.9L853.6 1897.5L865.4 1886.3L872.7 1878.9L877.7 1873.3L881.4 1868.9L884.2 1865.2L886.4 1862.1L888 1859.4L889.2 1857.1L890 1855.1L890.5 1853.3L890.8 1851.8L890.8 1850.5L890.1 1848.6L888.4 1847.5L887.2 1847.5L885.7 1847.7L883.8 1848.2L881.7 1849.1L879.1 1850.4L876.1 1852.3L872.5 1854.7L868.2 1858L862.8 1862.6L855.8 1869L845.4 1879.3L824.9 1900.8L777.6 1952.7L802.7 1924.1L813.1 1911.6L819.6 1903.4L824.2 1897.2L827.6 1892.2L830.3 1888.1L832.5 1884.5L834.3 1881.3L835.7 1878.5L836.9 1876L837.9 1873.7L838.6 1871.6L839.3 1869.7L839.7 1867.9L840.1 1866.2L840.3 1864.7L840.4 1863.3L840.4 1862L840.4 1860.8L840 1858.7L839.4 1856.9L838.5 1855.5L837.4 1854.3L836 1853.5L834.3 1853.1L832.4 1853.1L830.2 1853.6L829 1854.1L827.7 1854.6L826.4 1855.4L824.9 1856.3L823.3 1857.3L821.7 1858.6L819.9 1860.2L817.9 1862L815.9 1864.1L813.6 1866.6L811 1869.6L808.2 1873.2L804.9 1877.6L801 1883.3L796 1890.9L789.2 1902.2L777.1 1923.2L802.1 1874.8L809.9 1858.6L814.3 1848.5L817.3 1841.1L819.3 1835.4L820.7 1830.6L821.8 1826.6L822.5 1823.2L822.9 1820.3L823.2 1817.7L823.2 1815.4L823.1 1813.4L822.9 1811.6L822.6 1810.1L822.2 1808.7L821.6 1807.6L820.3 1805.8L818.7 1804.8L816.7 1804.4L814.5 1804.7L813.3 1805.1L812 1805.8L810.6 1806.6L809.2 1807.7L807.7 1809.1L806.1 1810.8L804.3 1812.8L802.5 1815.2L800.5 1818.1L798.3 1821.7L795.9 1826L793.1 1831.5L789.8 1838.7L785.6 1848.9L779.3 1865.7L762.4 1916.1L766.6 1901.5L773.3 1878.5L776.5 1866L778.4 1857.5L779.6 1851L780.4 1845.9L780.8 1841.7L781 1838.2L781 1835.3L780.8 1832.9L780.6 1830.8L780.2 1829.1L779.7 1827.8L779.1 1826.7L777.7 1825.3L776.1 1824.9L774.3 1825.5L772.3 1827L771.2 1828.2L770.1 1829.7L768.9 1831.5L767.7 1833.7L766.4 1836.3L765 1839.5L763.5 1843.4L761.9 1848.2L760.2 1854.2L758.2 1862.3L755.7 1873.8L752 1893.9L735.6 1999.5L755.3 1864.3L757.5 1844L758.4 1832.2L758.7 1823.9L758.6 1817.5L758.4 1812.4L758 1808.1L757.5 1804.5L756.9 1801.5L756.3 1798.9L755.5 1796.6L754.8 1794.6L753.9 1792.9L753.1 1791.5L752.2 1790.3L751.3 1789.3L750.4 1788.5L748.5 1787.4L746.5 1787L744.5 1788.2L743.4 1789.6L742.4 1791.6L741.3 1794.3L740.3 1797.8L739.3 1802.5L738.3 1808.6L737.3 1817.1L736.4 1829.7L735.6 1853.4L735.2 1906.9L734.2 1854.1L733.3 1836.4L732.4 1825.7L731.4 1818.1L730.4 1812.4L729.3 1807.8L728.3 1804.2L727.3 1801.3L726.2 1799L725.2 1797.1L724.2 1795.7L723.2 1794.7L721.2 1793.7L719.3 1794.3L718.4 1795.5L717.6 1797.2L716.9 1799.6L716.3 1802.8L715.8 1807L715.5 1812.4L715.4 1819.8L715.8 1830.4L717.1 1848L723.1 1900.4L717.2 1859.5L713.4 1836.1L710.8 1823.6L708.8 1815.3L707 1809.3L705.4 1804.7L703.9 1801.2L702.5 1798.5L701.2 1796.6L700 1795.2L698.9 1794.3L696.9 1794.1L695.2 1795.7L694.6 1797.3L694 1799.4L693.7 1802.2L693.5 1805.8L693.5 1810.4L694 1816.3L694.9 1824.2L696.8 1835.7L700.8 1855.6L735.6 1999.5L701.2 1862.8L695.5 1843.2L691.8 1831.9L688.8 1824.1L686.4 1818.2L684.2 1813.6L682.2 1809.9L680.4 1806.8L678.7 1804.3L677.1 1802.2L675.6 1800.5L674.2 1799.2L672.8 1798.1L671.6 1797.3L670.3 1796.7L668.1 1796.2L666.2 1796.6L664.7 1798.2L664.1 1799.5L663.6 1801.2L663.4 1803.3L663.3 1805.8L663.4 1808.9L663.8 1812.6L664.5 1816.7L664.8 1820.1L661.3 1816L658.5 1811.5L656.6 1809.5L655.9 1812.6L655.5 1814L654.2 1813.4L652.6 1812L651.3 1811.4L649.7 1812.5L648.5 1814.3L648 1815.5L647.7 1816.9L647.4 1818.6L647.4 1820.5L647.5 1822.7L647.8 1825.3L648.3 1828.2L649.1 1831.7L650.2 1835.7L651.8 1840.5L654 1846.5L657.3 1854.2L662.3 1865L671.7 1883.4L735.6 1999.5L675.4 1892.5L664.7 1874.8L658.2 1864.8L653.4 1857.9L649.5 1852.8L646.3 1848.8L643.5 1845.7L641.1 1843.2L638.9 1841.2L636.9 1839.6L635.1 1838.3L633.5 1837.3L632 1836.6L630.7 1836.2L629.5 1835.9L627.5 1836L626.1 1837.1L625.9 1838.4L626.1 1840.2L626.8 1842.7L628 1846L629.9 1850.2L632.8 1855.6L637.2 1863L644.1 1873.8L657.9 1893.7L680.4 1925.1L647.7 1882.1L636.3 1868.1L629.1 1859.8L623.8 1854.2L619.6 1850.1L616.1 1847.1L613.2 1844.8L610.8 1843.1L608.7 1841.9L606.9 1841.2L605.4 1840.8L604.2 1840.7L602.5 1841.6L601.9 1843.7L602.1 1845.3L602.6 1847.2L603.5 1849.6L604.8 1852.4L606.7 1855.8L609.3 1859.9L612.8 1865L617.9 1871.7L625.5 1881L639.2 1896.7L735.6 1999.5L661.4 1921.7L646.5 1907L637.7 1898.7L631.4 1893.1L626.5 1889.1L622.5 1886L619.2 1883.7L616.3 1881.9L613.9 1880.6L611.8 1879.6L610 1878.9L608.4 1878.4L607.1 1878.3L605.2 1878.5L604.1 1879.6L604 1881.7L604.4 1883L605.1 1884.7L606.1 1886.6L607.6 1888.8L609.5 1891.4L612 1894.5L615.2 1898.1L619.4 1902.5L625.2 1908.1L633.5 1915.7L647.4 1927.8L689.9 1962.7L629.3 1914.6L609.5 1899.6L598.5 1891.9L590.9 1886.9L584.9 1883.3L580.1 1880.6L576 1878.6L572.5 1877.1L569.5 1875.9L566.7 1875L564.3 1874.3L562.2 1873.9L560.3 1873.7L558.6 1873.6L557 1873.6L555.7 1873.8L554.4 1874.1L552.5 1875L551.1 1876.4L550.2 1878L549.8 1880.1L550 1882.4L550.3 1883.7L550.8 1885.1L551.4 1886.6L552.3 1888.1L553.3 1889.8L554.5 1891.6L556 1893.5L557.8 1895.6L559.9 1897.8L562.4 1900.2L565.3 1902.9L568.9 1905.8L573.3 1909.2L578.9 1913.2L586.4 1918.1L597.1 1924.7L615.8 1935.4L735.6 1999.5L624.1 1941.1L604.9 1931.7L593.5 1926.6L585.5 1923.2L579.2 1920.9L574.1 1919.2L569.7 1917.9L566 1916.9L562.7 1916.2L559.8 1915.7L557.2 1915.4L554.9 1915.2L552.8 1915.2L550.9 1915.2L549.2 1915.4L547.6 1915.6L546.2 1915.9L544.9 1916.3L543.7 1916.8L541.7 1917.8L540.1 1919L538.9 1920.4L537.9 1922L537.3 1923.6L536.8 1925.3L536.6 1927.1L536.5 1928.9L536.5 1930.8L536.7 1932.7L537.1 1934.7L537.7 1936.7L538.4 1938.7L539.3 1940.7L540.4 1942.8L541 1943.9L541.7 1944.9L542.4 1946L543.1 1947L543.9 1948.1L544.8 1949.2L545.7 1950.2L546.6 1951.3L547.6 1952.4L548.7 1953.5L549.8 1954.6L551 1955.7L552.3 1956.7L553.6 1957.8L555.1 1959L556.6 1960.1L558.1 1961.2L559.8 1962.3L561.6 1963.4L563.5 1964.5L565.5 1965.7L567.7 1966.8L570 1968L572.5 1969.2L575.2 1970.3L578.1 1971.5L581.3 1972.8L584.9 1974L588.8 1975.3L593.3 1976.6L598.4 1978L604.4 1979.5L611.7 1981.1L621 1983L634.1 1985.3L656.1 1988.7L735.6 1999.5L721.5 1997.8L708.9 1996.3L700 1995.4L693.2 1994.8L687.7 1994.4L683.2 1994.1L679.3 1994L676 1993.9L673.1 1993.9L670.5 1993.9L668.3 1994L666.4 1994.1L664.7 1994.3L663.2 1994.5L661.9 1994.7L659.8 1995.2L658.3 1995.7L657.2 1996.6L658.7 1997.6L660.2 1998L659.4 1998.9L657.8 1999.2L659.4 2000.1L660.9 2000.4L658.7 2001.4L657.5 2001.7L657.8 2003L659 2003.6L660.7 2004.1L663.2 2004.5L664.7 2004.7L666.4 2004.9L668.3 2005L670.5 2005.1L673.1 2005.1L676 2005.1L679.3 2005L683.2 2004.9L687.7 2004.6L693.2 2004.2L700 2003.6L708.9 2002.7L721.5 2001.2L735.6 1999.5L656.1 2010.3L634.1 2013.7L621 2016L611.7 2017.9L604.4 2019.5L598.4 2021L593.3 2022.4L588.8 2023.7L584.9 2025L581.3 2026.2L578.1 2027.5L575.2 2028.7L572.5 2029.8L570 2031L567.7 2032.2L565.5 2033.3L563.5 2034.5L561.6 2035.6L559.8 2036.7L558.1 2037.8L556.6 2038.9L555.1 2040L553.6 2041.2L552.3 2042.3L551 2043.3L549.8 2044.4L548.7 2045.5L547.6 2046.6L546.6 2047.7L545.7 2048.8L544.8 2049.8L543.9 2050.9L543.1 2052L542.4 2053L541.7 2054.1L541 2055.1L540.4 2056.2L539.3 2058.3L538.4 2060.3L537.7 2062.3L537.1 2064.3L536.7 2066.3L536.5 2068.2L536.5 2070.1L536.6 2071.9L536.8 2073.7L537.3 2075.4L537.9 2077L538.9 2078.6L540.1 2080L541.7 2081.2L543.7 2082.2L544.9 2082.7L546.2 2083.1L547.6 2083.4L549.2 2083.6L550.9 2083.8L552.8 2083.8L554.9 2083.8L557.2 2083.6L559.8 2083.3L562.7 2082.8L566 2082.1L569.7 2081.1L574.1 2079.8L579.2 2078.1L585.5 2075.8L593.5 2072.4L604.9 2067.3L624.1 2057.9L735.6 1999.5L615.8 2063.6L597.1 2074.3L586.4 2080.9L578.9 2085.8L573.3 2089.8L568.9 2093.2L565.3 2096.1L562.4 2098.8L559.9 2101.2L557.8 2103.4L556 2105.5L554.5 2107.4L553.3 2109.2L552.3 2110.9L551.4 2112.4L550.8 2113.9L550.3 2115.3L550 2116.6L549.8 2117.8L549.9 2120L550.5 2121.8L551.7 2123.3L553.4 2124.5L555.7 2125.2L557 2125.4L558.6 2125.4L560.3 2125.3L562.2 2125.1L564.3 2124.7L566.7 2124L569.5 2123.1L572.5 2121.9L576 2120.4L580.1 2118.4L584.9 2115.7L590.9 2112.1L598.5 2107.1L609.5 2099.4L629.3 2084.4L689.9 2036.3L647.4 2071.2L633.5 2083.3L625.2 2090.9L619.4 2096.5L615.2 2100.9L612 2104.5L609.5 2107.6L607.6 2110.2L606.1 2112.4L605.1 2114.3L604.4 2116L604 2117.3L604.1 2119.4L605.2 2120.5L607.1 2120.7L608.4 2120.6L610 2120.1L611.8 2119.4L613.9 2118.4L616.3 2117.1L619.2 2115.3L622.5 2113L626.5 2109.9L631.4 2105.9L637.7 2100.3L646.5 2092L661.4 2077.3L735.6 1999.5L639.2 2102.3L625.5 2118L617.9 2127.3L612.8 2134L609.3 2139.1L606.7 2143.2L604.8 2146.6L603.5 2149.4L602.6 2151.8L602.1 2153.7L601.9 2155.3L602.1 2156.5L603.2 2158L605.4 2158.2L606.9 2157.8L608.7 2157.1L610.8 2155.9L613.2 2154.2L616.1 2151.9L619.6 2148.9L623.8 2144.8L629.1 2139.2L636.3 2130.9L647.7 2116.9L680.4 2073.9L657.9 2105.3L644.1 2125.2L637.2 2136L632.8 2143.4L629.9 2148.8L628 2153L626.8 2156.3L626.1 2158.8L625.9 2160.6L626.1 2161.9L627.5 2163L629.5 2163.1L630.7 2162.8L632 2162.4L633.5 2161.7L635.1 2160.7L636.9 2159.4L638.9 2157.8L641.1 2155.8L643.5 2153.3L646.3 2150.2L649.5 2146.2L653.4 2141.1L658.2 2134.2L664.7 2124.2L675.4 2106.5L735.6 1999.5L671.7 2115.6L662.3 2134L657.3 2144.8L654 2152.5L651.8 2158.5L650.2 2163.3L649.1 2167.3L648.3 2170.8L647.8 2173.7L647.5 2176.3L647.4 2178.5L647.4 2180.4L647.7 2182.1L648 2183.5L648.5 2184.7L649.7 2186.5L651.3 2187.6L652.6 2187L654.2 2185.6L655.5 2185L655.9 2186.4L656 2188.6L658.5 2187.5L661.3 2183L663.9 2178.9L664.5 2182.3L663.8 2186.4L663.4 2190.1L663.3 2193.2L663.4 2195.7L663.6 2197.8L664.1 2199.5L664.7 2200.8L666.2 2202.4L668.1 2202.8L670.3 2202.3L671.6 2201.7L672.8 2200.9L674.2 2199.8L675.6 2198.5L677.1 2196.8L678.7 2194.7L680.4 2192.2L682.2 2189.1L684.2 2185.4L686.4 2180.8L688.8 2174.9L691.8 2167.1L695.5 2155.8L701.2 2136.2L735.6 1999.5L700.8 2143.4L696.8 2163.3L694.9 2174.8L694 2182.7L693.5 2188.6L693.5 2193.2L693.7 2196.8L694 2199.6L694.6 2201.7L695.2 2203.3L696 2204.4L697.8 2205L700 2203.8L701.2 2202.4L702.5 2200.5L703.9 2197.8L705.4 2194.3L707 2189.7L708.8 2183.7L710.8 2175.4L713.4 2162.9L717.2 2139.5L723.1 2098.6L717.1 2151L715.8 2168.6L715.4 2179.2L715.5 2186.6L715.8 2192L716.3 2196.2L716.9 2199.4L717.6 2201.8L718.4 2203.5L719.3 2204.7L721.2 2205.3L723.2 2204.3L724.2 2203.3L725.2 2201.9L726.2 2200L727.3 2197.7L728.3 2194.8L729.3 2191.2L730.4 2186.6L731.4 2180.9L732.4 2173.3L733.3 2162.6L734.2 2144.9L735.2 2092.1L735.6 2145.6L736.4 2169.3L737.3 2181.9L738.3 2190.4L739.3 2196.5L740.3 2201.2L741.3 2204.7L742.4 2207.4L743.4 2209.4L744.5 2210.8L745.5 2211.7L747.5 2211.9L749.4 2211.2L751.3 2209.7L752.2 2208.7L753.1 2207.5L753.9 2206.1L754.8 2204.4L755.5 2202.4L756.3 2200.1L756.9 2197.5L757.5 2194.5L758 2190.9L758.4 2186.6L758.6 2181.5L758.7 2175.1L758.4 2166.8L757.5 2155L755.3 2134.7L735.6 1999.5L752 2105.1L755.7 2125.2L758.2 2136.7L760.2 2144.8L761.9 2150.8L763.5 2155.6L765 2159.5L766.4 2162.7L767.7 2165.3L768.9 2167.5L770.1 2169.3L771.2 2170.8L772.3 2172L773.3 2172.9L775.2 2173.9L777 2174L778.5 2173.2L779.7 2171.2L780.2 2169.9L780.6 2168.2L780.8 2166.1L781 2163.7L781 2160.8L780.8 2157.3L780.4 2153.1L779.6 2148L778.4 2141.5L776.5 2133L773.3 2120.5L766.6 2097.5L762.4 2082.9L779.3 2133.3L785.6 2150.1L789.8 2160.3L793.1 2167.5L795.9 2173L798.3 2177.3L800.5 2180.9L802.5 2183.8L804.3 2186.2L806.1 2188.2L807.7 2189.9L809.2 2191.3L810.6 2192.4L812 2193.2L813.3 2193.9L814.5 2194.3L816.7 2194.6L818.7 2194.2L820.3 2193.2L821.6 2191.4L822.2 2190.3L822.6 2188.9L822.9 2187.4L823.1 2185.6L823.2 2183.6L823.2 2181.3L822.9 2178.7L822.5 2175.8L821.8 2172.4L820.7 2168.4L819.3 2163.6L817.3 2157.9L814.3 2150.5L809.9 2140.4L802.1 2124.2L777.2 2076.7L789.2 2096.8L796 2108.1L801 2115.7L804.9 2121.4L808.2 2125.8L811 2129.4L813.6 2132.4L815.9 2134.9L817.9 2137L819.9 2138.8L821.7 2140.4L823.3 2141.7L824.9 2142.7L826.4 2143.6L827.7 2144.4L829 2144.9L830.2 2145.4L832.4 2145.9L834.3 2145.9L836 2145.5L837.4 2144.7L838.5 2143.5L839.4 2142.1L840 2140.3L840.4 2138.2L840.4 2137L840.4 2135.7L840.3 2134.3L840.1 2132.8L839.7 2131.1L839.3 2129.3L838.6 2127.4L837.9 2125.3L836.9 2123L835.7 2120.5L834.3 2117.7L832.5 2114.5L830.3 2110.9L827.6 2106.8L824.2 2101.8L819.6 2095.6L813.1 2087.4L802.7 2074.9L777.6 2046.3L824.9 2098.2L845.4 2119.7L855.8 2130L862.8 2136.4L868.2 2141L872.5 2144.3L876.1 2146.7L879.1 2148.6L881.7 2149.9L883.8 2150.8L885.7 2151.3L887.2 2151.5L888.4 2151.5L890.1 2150.4L890.8 2148.5L890.8 2147.2L890.5 2145.7L890 2143.9L889.2 2141.9L888 2139.6L886.4 2136.9L884.2 2133.8L881.4 2130.1L877.7 2125.7L872.7 2120.1L865.4 2112.7L853.6 2101.5L825 2076.1L833.5 2082.7L856.9 2101.6L868.7 2110.6L876.8 2116.3L882.9 2120.4L887.9 2123.4L892.2 2125.7L895.8 2127.5L899 2128.9L901.8 2130L904.3 2130.8L906.6 2131.4L908.7 2131.8L910.5 2132L912.1 2132L913.6 2131.9L914.9 2131.7L916.1 2131.4L917.9 2130.4L919.2 2128.9L920.2 2127.3L921 2125.5L921.5 2123.5L921.7 2121.4L921.6 2119.1L921.5 2117.9L921.2 2116.6L920.9 2115.3L920.5 2114L919.9 2112.6L919.3 2111.1L918.5 2109.5L917.6 2107.9L916.5 2106.3L915.3 2104.5L913.8 2102.7L912.1 2100.7L910.2 2098.6L907.9 2096.4L905.3 2093.9L902.1 2091.3L898.3 2088.3L893.7 2084.9L887.8 2080.9L879.8 2075.8L868.1 2068.9L846 2056.8L735.6 1999.5L773.2 2018.6L806.5 2035.1L827 2045L841.8 2051.8L853.5 2056.9L863 2060.9L871.1 2064.1L878.2 2066.7L884.3 2068.9L889.9 2070.7L894.8 2072.2L899.4 2073.4L903.5 2074.4L907.3 2075.3L910.8 2075.9L914.1 2076.5L917.2 2076.9L920.7 2077.5L924.5 2078.2L928.2 2078.8L931.8 2079.3L935.1 2079.7L938.3 2080L941.5 2080.3L944.5 2080.4L947.4 2080.5L950 2080.5L952.5 2080.4L954.6 2080.2L956.7 2079.9L958.6 2079.6L960.5 2079.2L962.2 2078.8L963.9 2078.3L965.5 2077.8L967 2077.2L968.4 2076.6L969.8 2076L971.2 2075.4L972.5 2074.7L973.7 2074L974.9 2073.3L976.1 2072.6L977.6 2071.9L979 2071.3L980.3 2070.6L981.6 2069.8L982.8 2069.1L983.9 2068.3L985 2067.5L986.1 2066.7L987.1 2065.8L988 2065L988.9 2064.1L989.8 2063.2L990.6 2062.3L991.4 2061.4L992.2 2060.5L993.6 2058.6L994.9 2056.6L996.1 2054.6L997.2 2052.6L998.2 2050.6L999.1 2048.5L999.9 2046.4L1000.7 2044.3L1001.4 2042.2L1002 2040.1L1002.6 2037.9L1003.1 2035.8L1003.6 2033.6L1004 2031.4L1004.4 2029.3L1004.8 2027.1L1005.1 2024.9L1005.4 2022.7L1005.6 2020.5L1005.8 2018.3L1006 2016.1L1006.1 2013.9L1006.3 2011.7L1006.4 2009.5L1006.5 2007.2L1006.5 2005L1006.6 2002.8" stroke="#FF00FF" stroke-width="4.2" stroke-dasharray="14.8,3.4,7.2,3.4"/>
<path d="M1006.6 1996.2L1006.5 1994L1006.5 1991.8L1006.4 1989.5L1006.3 1987.3L1006.2 1985.1L1006 1982.9L1005.8 1980.7L1005.6 1978.5L1005.4 1976.3L1005.2 1974.1L1004.9 1971.9L1004.6 1969.7L1004.3 1967.5L1003.9 1965.3L1003.5 1963.2L1003.1 1961L1002.7 1958.8L1002.2 1956.6L1001.7 1954.5L1001.1 1952.3L1000.5 1950.2L999.9 1948.1L999.2 1946L998.5 1943.9L997.7 1941.8L996.9 1939.7L996 1937.6L995.1 1935.6L994.1 1933.6L993 1931.6L991.9 1929.6L990.7 1927.7L989.5 1925.8L988.1 1923.9L986.7 1922L985.2 1920.2L983.6 1918.5L982.8 1917.6L981.9 1916.8L981 1915.9L980.1 1915.1L979.1 1914.3L978.2 1913.5L977.1 1912.8L976.1 1912L975 1911.3L973.9 1910.6L972.7 1909.9L971.5 1909.2L970.3 1908.6L968.9 1908L967.4 1907.5L965.8 1907L964.1 1906.6L962.4 1906.2L960.6 1905.8L958.9 1905.4L957.1 1905.1L955.2 1904.8L953.4 1904.5L951.5 1904.2L949.7 1904L947.8 1903.7L946 1903.5L944 1903.3L942.1 1903.2L940.1 1903.1L938 1903L936 1903L933.9 1902.9L931.9 1902.9L929.9 1902.8L928.1 1902.8L926.3 1902.6L924.8 1902.4L923.4 1902.1L922.1 1901.8L920.9 1901.4L919.7 1901.1L918.6 1900.7L917.4 1900.3L916.1 1900.1L914.6 1899.9L913 1899.8L911.1 1899.9L909.1 1900L907 1900.3L905.1 1900.4L903.4 1900.4L902.1 1900.2L900.5 1899.3L899.2 1898.2L897.2 1897.5L895.8 1896.5L896.1 1894.4L896.6 1893.1L897.1 1891.8L897.4 1890.6L897.1 1888.7L895.8 1887.6L893.9 1886.9L891.5 1886.6L890 1886.6L888.4 1886.8L886.6 1887.2L884.6 1887.7L882.3 1888.4L879.8 1889.3L876.9 1890.5L873.7 1892.1L870 1894L865.7 1896.5L860.5 1899.7L854 1904L845.4 1910.2L832.3 1920.2L802.4 1944.3L823 1926.6L845.6 1906.9L856.5 1896.8L863.5 1889.9L868.6 1884.5L872.4 1880.1L875.5 1876.4L878 1873.1L880.1 1870.1L881.7 1867.5L883.1 1865.1L884.3 1862.8L885.2 1860.8L886 1858.8L886.6 1857L887 1855.3L887.4 1853.8L887.6 1852.3L887.7 1850.9L887.7 1849.6L887.6 1848.4L887.2 1846.1L886.4 1844.2L885.4 1842.5L884.1 1841.1L882.5 1840.1L880.3 1839.6L879 1839.6L877.6 1839.8L876 1840.2L874.2 1840.8L872.3 1841.6L870.2 1842.6L867.8 1844L865.2 1845.7L862.3 1847.8L859 1850.4L855.2 1853.8L850.6 1858.1L844.9 1863.8L837.3 1872.1L825.4 1886L791.5 1928.2L816.1 1895.9L830.5 1876.2L837.9 1865.3L842.7 1857.7L846.1 1851.8L848.7 1847L850.6 1843L852 1839.6L853.1 1836.5L853.9 1833.9L854.4 1831.5L854.8 1829.5L854.9 1827.6L854.9 1825.9L854.8 1824.5L854.5 1823.2L853.6 1821.1L852.2 1819.7L850.5 1818.8L848.6 1818.3L846.5 1818L844.1 1818.2L842.9 1818.4L841.6 1818.7L840.3 1819.2L838.9 1819.7L837.4 1820.4L835.9 1821.2L834.3 1822.1L832.7 1823.2L831 1824.4L829.2 1825.7L827.4 1827.2L825.6 1828.9L823.6 1830.6L821.7 1832.5L819.8 1834.4L817.9 1836.3L816 1838.2L814.3 1839.8L812.8 1841L811.6 1841.7L810 1841.4L808.9 1840L808.1 1837.8L807.8 1836.5L807.5 1835L807.3 1833.4L807.1 1831.8L806.9 1830.1L806.7 1828.5L806.4 1827L806 1825.6L805.6 1824.3L805.2 1823.1L804 1821.2L802.6 1820L801 1819.3L798.9 1819.9L797.7 1820.6L796.4 1821.8L795 1823.3L793.4 1825.3L791.7 1827.9L789.8 1831.2L787.6 1835.3L785.1 1840.6L782.1 1847.8L778.3 1857.9L772.6 1874.8L757.1 1925.6L766.9 1890.2L772.9 1867L775.7 1854.5L777.3 1845.9L778.3 1839.4L778.8 1834.4L779 1830.3L779.1 1826.9L778.9 1824.1L778.6 1821.8L778.2 1819.9L777.6 1818.4L777 1817.2L775.6 1815.8L773.8 1815.6L771.8 1816.8L770.7 1817.9L769.5 1819.4L768.3 1821.4L767 1824L765.6 1827.2L764.1 1831.1L762.5 1836.2L760.6 1842.8L758.5 1851.8L755.7 1865.7L750.9 1894.2L749.3 1902.5L753.8 1865.8L755.2 1850.2L755.8 1840.2L755.9 1832.9L755.8 1827.3L755.4 1822.8L755 1819.2L754.5 1816.2L753.8 1813.8L753.2 1811.8L752.4 1810.2L751.6 1809L750.8 1808.1L749.1 1807.2L747.2 1807.6L745.4 1809.4L744.4 1810.8L743.4 1812.6L742.5 1814.9L741.5 1817.8L740.6 1821.3L739.7 1825.6L738.7 1831.1L737.9 1838.3L737 1848.3L736.2 1864L735.6 1900.9L735.1 1892.1L734.3 1863.3L733.5 1849.2L732.6 1839.9L731.7 1833L730.8 1827.7L729.9 1823.5L728.9 1820.1L727.9 1817.3L727 1815L726 1813.1L725.1 1811.6L724.1 1810.5L723.2 1809.7L721.4 1809L719.6 1809.3L717.9 1810.3L716.3 1812.1L715.5 1813.2L714.8 1814.5L714.1 1815.9L713.4 1817.4L712.8 1819L712.1 1820.6L711.5 1822.2L710.9 1823.7L710.2 1825.1L709.6 1826.3L708.2 1828L706.7 1828.7L704.8 1827.5L703.7 1826L702.5 1824.1L701.3 1821.9L700 1819.6L698.6 1817.3L697.3 1815L695.9 1812.8L694.5 1810.7L693.2 1808.8L691.9 1807L690.5 1805.4L689.2 1803.9L688 1802.6L686.7 1801.4L685.5 1800.3L684.2 1799.4L683 1798.6L681.9 1797.9L680.7 1797.3L679.6 1796.8L677.3 1796.1L675.2 1795.8L673.2 1795.8L671.2 1796.2L669.5 1797.2L668 1799L667.4 1800.3L667 1801.9L666.6 1803.7L666.3 1805.9L666.3 1808.4L666.3 1811.3L666.6 1814.8L667.2 1818.9L668.2 1823.9L669.6 1830L671.9 1838L675.6 1849.3L682.6 1868.6L735.6 1999.5L680.9 1868L672.4 1849.3L667 1838.7L663 1831.4L659.7 1826L656.9 1821.8L654.5 1818.5L652.3 1815.9L650.3 1813.8L648.5 1812.2L646.9 1811L645.5 1810.1L644.1 1809.5L642.9 1809.2L640.9 1809.5L639.3 1810.6L638.1 1812.5L637.7 1813.7L637.4 1815.2L637.2 1816.9L637.2 1818.8L637.3 1821L637.6 1823.5L638.2 1826.4L639.1 1829.7L640.3 1833.6L642 1838.2L644.3 1843.8L647.6 1851L652.6 1860.9L661.3 1876.7L688.8 1922.9L668.3 1890.5L655 1870.2L647.4 1859.4L641.9 1852.2L637.6 1846.9L633.9 1842.8L630.8 1839.5L628 1836.8L625.4 1834.6L623.1 1832.7L621 1831.2L619 1830L617.2 1829L615.5 1828.2L613.9 1827.6L612.5 1827.1L611.1 1826.8L609.8 1826.7L608.6 1826.6L606.4 1826.9L604.6 1827.7L603.1 1828.9L601.8 1830.3L600.7 1832.1L599.9 1834.1L599.4 1836.4L599.2 1837.7L599.1 1839L599.1 1840.4L599.1 1841.8L599.2 1843.3L599.3 1844.8L599.5 1846.4L599.7 1848L599.9 1849.6L600.2 1851.2L600.4 1852.8L600.7 1854.3L600.8 1855.7L600.9 1857.1L600.9 1858.4L600.7 1860.5L599.9 1862.2L598.7 1863.3L597.1 1864.1L595.1 1864.6L592.9 1864.9L591.7 1864.9L590.4 1864.9L589.1 1864.8L587.8 1864.8L586.4 1864.7L585 1864.7L583.7 1864.6L582.3 1864.6L581 1864.6L579.7 1864.7L578.5 1864.8L576.2 1865.2L574.1 1865.9L572.3 1866.7L570.7 1867.8L569.5 1869.1L568.6 1870.7L568.1 1872.6L568.2 1874.9L568.4 1876.2L568.8 1877.6L569.3 1879L570 1880.6L570.8 1882.3L571.9 1884.1L573.1 1886L574.6 1888.1L576.5 1890.3L578.6 1892.8L581.2 1895.5L584.3 1898.5L588.1 1902L592.9 1906L599.1 1910.9L607.7 1917.3L621.4 1926.8L653.9 1947.9L641.8 1940.9L615.8 1925.3L602.8 1918L593.9 1913.4L587.2 1910.2L581.7 1907.8L577.1 1906L573.1 1904.5L569.6 1903.4L566.5 1902.6L563.6 1901.9L561 1901.4L558.7 1901L556.5 1900.8L554.4 1900.7L552.5 1900.6L550.7 1900.7L549.1 1900.8L547.5 1901L546.1 1901.2L544.7 1901.5L543.4 1901.9L542.2 1902.3L541 1902.7L538.9 1903.7L537 1904.9L535.4 1906.1L533.9 1907.5L532.7 1909L531.6 1910.5L530.7 1912.1L529.9 1913.8L529.2 1915.6L528.7 1917.4L528.4 1919.2L528.1 1921.1L528 1923L528 1924.9L528.1 1926.9L528.3 1928.9L528.6 1930.9L529.1 1933L529.7 1935L530.4 1937.1L531.2 1939.2L532.1 1941.3L533.2 1943.4L533.7 1944.5L534.4 1945.5L535 1946.6L535.7 1947.6L536.4 1948.7L537.1 1949.7L537.9 1950.8L538.7 1951.9L539.5 1952.9L540.4 1954L541.4 1955L542.3 1956.1L543.3 1957.1L544.4 1958.2L545.5 1959.3L546.6 1960.3L547.8 1961.4L549 1962.4L550.3 1963.4L551.6 1964.5L553 1965.5L554.5 1966.6L556 1967.6L557.6 1968.6L559.3 1969.7L561 1970.7L562.8 1971.7L564.7 1972.8L566.8 1973.8L568.9 1974.8L571.1 1975.8L573.4 1976.8L575.9 1977.8L578.6 1978.9L581.4 1979.9L584.5 1980.9L587.8 1981.9L591.3 1982.9L595.2 1984L599.6 1985L604.4 1986.1L609.9 1987.1L616.3 1988.3L624 1989.5L633.8 1990.8L647.3 1992.3L669.9 1994.4L735.6 1999.5L705.8 1997.4L684.1 1996.1L671.6 1995.6L662.9 1995.3L656.3 1995.3L651.1 1995.4L646.9 1995.5L643.5 1995.7L640.6 1996L638.3 1996.3L636.4 1996.7L635 1997L633.1 1997.8L636.5 1999.1L632.4 1999.5L636.5 1999.9L632.3 2000.3L633.8 2001.6L636.4 2002.3L638.3 2002.7L640.6 2003L643.5 2003.3L646.9 2003.5L651.1 2003.6L656.3 2003.7L662.9 2003.7L671.6 2003.4L684.1 2002.9L705.8 2001.6L735.6 1999.5L669.9 2004.6L647.3 2006.7L633.8 2008.2L624 2009.5L616.3 2010.7L609.9 2011.9L604.4 2012.9L599.6 2014L595.2 2015L591.3 2016.1L587.8 2017.1L584.5 2018.1L581.4 2019.1L578.6 2020.1L575.9 2021.2L573.4 2022.2L571.1 2023.2L568.9 2024.2L566.8 2025.2L564.7 2026.2L562.8 2027.3L561 2028.3L559.3 2029.3L557.6 2030.4L556 2031.4L554.5 2032.4L553 2033.5L551.6 2034.5L550.3 2035.6L549 2036.6L547.8 2037.6L546.6 2038.7L545.5 2039.7L544.4 2040.8L543.3 2041.9L542.3 2042.9L541.4 2044L540.4 2045L539.5 2046.1L538.7 2047.1L537.9 2048.2L537.1 2049.3L536.4 2050.3L535.7 2051.4L535 2052.4L534.4 2053.5L533.7 2054.5L533.2 2055.6L532.1 2057.7L531.2 2059.8L530.4 2061.9L529.7 2064L529.1 2066L528.6 2068.1L528.3 2070.1L528.1 2072.1L528 2074.1L528 2076L528.1 2077.9L528.4 2079.8L528.7 2081.6L529.2 2083.4L529.9 2085.2L530.7 2086.9L531.6 2088.5L532.7 2090L533.9 2091.5L535.4 2092.9L537 2094.1L538.9 2095.3L541 2096.3L542.2 2096.7L543.4 2097.1L544.7 2097.5L546.1 2097.8L547.5 2098L549.1 2098.2L550.7 2098.3L552.5 2098.4L554.4 2098.3L556.5 2098.2L558.7 2098L561 2097.6L563.6 2097.1L566.5 2096.4L569.6 2095.6L573.1 2094.5L577.1 2093L581.7 2091.2L587.2 2088.8L593.9 2085.6L602.8 2081L615.8 2073.7L641.8 2058.1L653.9 2051.1L621.4 2072.2L607.7 2081.7L599.1 2088.1L592.9 2093L588.1 2097L584.3 2100.5L581.2 2103.5L578.6 2106.2L576.5 2108.7L574.6 2110.9L573.1 2113L571.9 2114.9L570.8 2116.7L570 2118.4L569.3 2120L568.8 2121.4L568.4 2122.8L568.2 2124.1L568.1 2126.4L568.6 2128.3L569.5 2129.9L570.7 2131.2L572.3 2132.3L574.1 2133.1L576.2 2133.8L578.5 2134.2L579.7 2134.3L581 2134.4L582.3 2134.4L583.7 2134.4L585 2134.3L586.4 2134.3L587.8 2134.2L589.1 2134.2L590.4 2134.1L591.7 2134.1L592.9 2134.1L595.1 2134.4L597.1 2134.9L598.7 2135.7L599.9 2136.8L600.7 2138.5L600.9 2140.6L600.9 2141.9L600.8 2143.3L600.7 2144.7L600.4 2146.2L600.2 2147.8L599.9 2149.4L599.7 2151L599.5 2152.6L599.3 2154.2L599.2 2155.7L599.1 2157.2L599.1 2158.6L599.1 2160L599.2 2161.3L599.4 2162.6L599.6 2163.8L600.3 2165.9L601.2 2167.8L602.4 2169.4L603.8 2170.8L605.5 2171.7L607.5 2172.3L609.8 2172.3L611.1 2172.2L612.5 2171.9L613.9 2171.4L615.5 2170.8L617.2 2170L619 2169L621 2167.8L623.1 2166.3L625.4 2164.4L628 2162.2L630.8 2159.5L633.9 2156.2L637.6 2152.1L641.9 2146.8L647.4 2139.6L655 2128.8L668.3 2108.5L688.8 2076.1L661.3 2122.3L652.6 2138.1L647.6 2148L644.3 2155.2L642 2160.8L640.3 2165.4L639.1 2169.3L638.2 2172.6L637.6 2175.5L637.3 2178L637.2 2180.2L637.2 2182.1L637.4 2183.8L637.7 2185.3L638.1 2186.5L639.3 2188.4L640.9 2189.5L642.9 2189.8L644.1 2189.5L645.5 2188.9L646.9 2188L648.5 2186.8L650.3 2185.2L652.3 2183.1L654.5 2180.5L656.9 2177.2L659.7 2173L663 2167.6L667 2160.3L672.4 2149.7L680.9 2131L735.6 1999.5L682.6 2130.4L675.6 2149.7L671.9 2161L669.6 2169L668.2 2175.1L667.2 2180.1L666.6 2184.2L666.3 2187.7L666.3 2190.6L666.3 2193.1L666.6 2195.3L667 2197.1L667.4 2198.7L668 2200L668.7 2201L670.3 2202.4L672.2 2203L674.2 2203.2L676.3 2203.1L678.4 2202.6L680.7 2201.7L681.9 2201.1L683 2200.4L684.2 2199.6L685.5 2198.7L686.7 2197.6L688 2196.4L689.2 2195.1L690.5 2193.6L691.9 2192L693.2 2190.2L694.5 2188.3L695.9 2186.2L697.3 2184L698.6 2181.7L700 2179.4L701.3 2177.1L702.5 2174.9L703.7 2173L704.8 2171.5L705.8 2170.6L707.5 2170.6L708.9 2171.8L710.2 2173.9L710.9 2175.3L711.5 2176.8L712.1 2178.4L712.8 2180L713.4 2181.6L714.1 2183.1L714.8 2184.5L715.5 2185.8L716.3 2186.9L717.1 2187.9L718.7 2189.3L720.5 2189.9L722.3 2189.8L724.1 2188.5L725.1 2187.4L726 2185.9L727 2184L727.9 2181.7L728.9 2178.9L729.9 2175.5L730.8 2171.3L731.7 2166L732.6 2159.1L733.5 2149.8L734.3 2135.7L735.1 2106.9L735.6 2098.1L736.2 2135L737 2150.7L737.9 2160.7L738.7 2167.9L739.7 2173.4L740.6 2177.7L741.5 2181.2L742.5 2184.1L743.4 2186.4L744.4 2188.2L745.4 2189.6L746.3 2190.7L748.2 2191.7L750 2191.5L751.6 2190L752.4 2188.8L753.2 2187.2L753.8 2185.2L754.5 2182.8L755 2179.8L755.4 2176.2L755.8 2171.7L755.9 2166.1L755.8 2158.8L755.2 2148.8L753.8 2133.2L749.3 2096.5L750.9 2104.8L755.7 2133.3L758.5 2147.2L760.6 2156.2L762.5 2162.8L764.1 2167.9L765.6 2171.8L767 2175L768.3 2177.6L769.5 2179.6L770.7 2181.1L771.8 2182.2L772.8 2183L774.7 2183.5L776.3 2182.7L777.6 2180.6L778.2 2179.1L778.6 2177.2L778.9 2174.9L779.1 2172.1L779 2168.7L778.8 2164.6L778.3 2159.6L777.3 2153.1L775.7 2144.5L772.9 2132L766.9 2108.8L757.1 2073.4L772.6 2124.2L778.3 2141.1L782.1 2151.2L785.1 2158.4L787.6 2163.7L789.8 2167.8L791.7 2171.1L793.4 2173.7L795 2175.7L796.4 2177.2L797.7 2178.4L798.9 2179.1L801 2179.7L802.6 2179L804 2177.8L805.2 2175.9L805.6 2174.7L806 2173.4L806.4 2172L806.7 2170.5L806.9 2168.9L807.1 2167.2L807.3 2165.6L807.5 2164L807.8 2162.5L808.1 2161.2L808.4 2160L809.4 2158.2L810.7 2157.2L812.8 2158L814.3 2159.2L816 2160.8L817.9 2162.7L819.8 2164.6L821.7 2166.5L823.6 2168.4L825.6 2170.1L827.4 2171.8L829.2 2173.3L831 2174.6L832.7 2175.8L834.3 2176.9L835.9 2177.8L837.4 2178.6L838.9 2179.3L840.3 2179.8L841.6 2180.3L842.9 2180.6L844.1 2180.8L846.5 2181L848.6 2180.7L850.5 2180.2L852.2 2179.3L853.6 2177.9L854.5 2175.8L854.8 2174.5L854.9 2173.1L854.9 2171.4L854.8 2169.5L854.4 2167.5L853.9 2165.1L853.1 2162.5L852 2159.4L850.6 2156L848.7 2152L846.1 2147.2L842.7 2141.3L837.9 2133.7L830.5 2122.8L816.1 2103.1L791.5 2070.8L825.4 2113L837.3 2126.9L844.9 2135.2L850.6 2140.9L855.2 2145.2L859 2148.6L862.3 2151.2L865.2 2153.3L867.8 2155L870.2 2156.4L872.3 2157.4L874.2 2158.2L876 2158.8L877.6 2159.2L879 2159.4L880.3 2159.4L882.5 2158.9L884.1 2157.9L885.4 2156.5L886.4 2154.8L887.2 2152.9L887.6 2150.6L887.7 2149.4L887.7 2148.1L887.6 2146.7L887.4 2145.2L887 2143.7L886.6 2142L886 2140.2L885.2 2138.2L884.3 2136.2L883.1 2133.9L881.7 2131.5L880.1 2128.9L878 2125.9L875.5 2122.6L872.4 2118.9L868.6 2114.5L863.5 2109.1L856.5 2102.2L845.6 2092.1L823 2072.4L802.4 2054.7L832.3 2078.8L845.4 2088.8L854 2095L860.5 2099.3L865.7 2102.5L870 2105L873.7 2106.9L876.9 2108.5L879.8 2109.7L882.3 2110.6L884.6 2111.3L886.6 2111.8L888.4 2112.2L890 2112.4L891.5 2112.4L892.8 2112.3L894.9 2111.8L896.5 2110.9L897.4 2109.5L897.1 2107.2L896.6 2105.9L896.1 2104.6L895.7 2103.4L896.3 2101.9L898.3 2101.2L899.9 2100.3L901.2 2099.1L903.4 2098.6L905.1 2098.6L907 2098.7L909.1 2099L911.1 2099.1L913 2099.2L914.6 2099.1L916.1 2098.9L917.4 2098.7L918.6 2098.3L919.7 2097.9L920.9 2097.6L922.1 2097.2L923.4 2096.9L924.8 2096.6L926.3 2096.4L928.1 2096.2L929.9 2096.2L931.9 2096.1L933.9 2096.1L936 2096L938 2096L940.1 2095.9L942.1 2095.8L944 2095.7L946 2095.5L947.8 2095.3L949.7 2095L951.5 2094.8L953.4 2094.5L955.2 2094.2L957.1 2093.9L958.9 2093.6L960.6 2093.2L962.4 2092.8L964.1 2092.4L965.8 2092L967.4 2091.5L968.9 2091L970.3 2090.4L971.5 2089.8L972.7 2089.1L973.9 2088.4L975 2087.7L976.1 2087L977.1 2086.2L978.2 2085.5L979.1 2084.7L980.1 2083.9L981 2083.1L981.9 2082.2L982.8 2081.4L983.6 2080.5L985.2 2078.8L986.7 2077L988.1 2075.1L989.5 2073.2L990.7 2071.3L991.9 2069.4L993 2067.4L994.1 2065.4L995.1 2063.4L996 2061.4L996.9 2059.3L997.7 2057.2L998.5 2055.1L999.2 2053L999.9 2050.9L1000.5 2048.8L1001.1 2046.7L1001.7 2044.5L1002.2 2042.4L1002.7 2040.2L1003.1 2038L1003.5 2035.8L1003.9 2033.7L1004.3 2031.5L1004.6 2029.3L1004.9 2027.1L1005.2 2024.9L1005.4 2022.7L1005.6 2020.5L1005.8 2018.3L1006 2016.1L1006.2 2013.9L1006.3 2011.7L1006.4 2009.5L1006.5 2007.2L1006.5 2005L1006.6 2002.8" stroke="#0000FF" stroke-width="5.6"/>
<path d="M1006.6 1996.2L1006.5 1994L1006.5 1991.8L1006.4 1989.5L1006.3 1987.3L1006.2 1985.1L1006 1982.9L1005.8 1980.7L1005.6 1978.5L1005.4 1976.3L1005.1 1974.1L1004.8 1971.9L1004.5 1969.7L1004.1 1967.5L1003.7 1965.4L1003.2 1963.2L1002.7 1961L1002.2 1958.9L1001.6 1956.7L1000.9 1954.6L1000.2 1952.5L999.4 1950.4L998.6 1948.3L997.7 1946.3L996.7 1944.2L995.6 1942.2L994.4 1940.3L993.1 1938.3L991.7 1936.4L990.2 1934.6L989.4 1933.7L988.5 1932.8L987.6 1931.9L986.7 1931L985.8 1930.2L984.8 1929.4L983.7 1928.5L982.6 1927.8L981.5 1927L980.3 1926.2L979 1925.5L977.7 1924.8L976.3 1924.2L974.9 1923.5L973.6 1922.8L972.4 1922.2L971 1921.5L969.6 1920.9L968.2 1920.3L966.6 1919.8L965 1919.3L963.3 1918.8L961.5 1918.4L959.6 1918L957.6 1917.7L955.5 1917.4L953.2 1917.3L950.7 1917.2L948 1917.2L944.9 1917.4L941.6 1917.7L938 1918.1L934.2 1918.7L929.8 1919.6L925 1920.6L919.6 1922L913.9 1923.5L907.4 1925.4L899.6 1928L889.9 1931.4L876.6 1936.6L855 1945.6L735.6 1999.5L878.1 1933.8L897 1924.2L907.6 1918.4L914.6 1914.2L919.5 1910.9L923.1 1908.2L925.6 1906L927.3 1904.2L928.2 1902.7L928.6 1901.5L927.8 1899.9L926.4 1898.5L924.7 1897.4L922.5 1896.5L921.3 1896.1L920 1895.9L918.5 1895.7L916.9 1895.6L915.2 1895.5L913.3 1895.6L911.3 1895.8L909 1896.1L906.6 1896.6L903.9 1897.3L900.9 1898.1L897.6 1899.2L893.9 1900.6L889.6 1902.4L884.5 1904.7L878.4 1907.7L870.6 1911.9L859.8 1918.2L841.6 1929.4L735.6 1999.5L842.7 1927.4L860 1915L869.8 1907.5L876.5 1902L881.5 1897.6L885.5 1893.9L888.6 1890.7L891.2 1887.8L893.3 1885.3L895 1883L896.4 1880.9L897.6 1878.9L898.6 1877.2L899.3 1875.5L899.9 1873.9L900.3 1872.5L900.5 1871.2L900.7 1869.9L900.5 1867.8L899.9 1865.9L898.8 1864.4L897.1 1863.5L895.9 1863.3L894.5 1863.3L892.7 1863.6L890.7 1864.2L888.4 1865L885.8 1866.2L882.7 1867.8L879 1869.9L874.7 1872.7L869.4 1876.5L862.7 1881.7L853.3 1889.4L837.5 1903.4L735.6 1999.5L833.8 1905.2L848.5 1890.1L856.8 1881.1L862.4 1874.5L866.5 1869.4L869.6 1865.1L872 1861.4L874 1858.2L875.5 1855.4L876.7 1852.9L877.7 1850.6L878.4 1848.5L879 1846.6L879.3 1844.9L879.5 1843.3L879.5 1841.9L879.5 1840.5L878.9 1838.3L877.9 1836.5L876.6 1835.2L874.5 1834.7L873.1 1834.8L871.5 1835.3L869.6 1836.1L867.5 1837.3L865 1838.9L862.1 1841.1L858.7 1843.9L854.7 1847.6L849.7 1852.6L843.2 1859.7L833.8 1870.7L815.4 1893.8L787.4 1930.3L809.6 1899.7L818.7 1886.4L824.2 1877.8L828 1871.3L830.8 1866.2L832.9 1862L834.4 1858.5L835.6 1855.4L836.5 1852.8L837.1 1850.5L837.5 1848.5L837.6 1846.7L837.6 1845.2L837.5 1844L836.8 1842L835.5 1840.8L833.8 1840.4L831.6 1840.8L830.3 1841.3L828.9 1842.1L827.3 1843.2L825.5 1844.6L823.6 1846.3L821.5 1848.4L819.1 1851L816.4 1854.3L813.3 1858.4L809.6 1863.6L805 1870.7L798.8 1880.9L788.6 1898.9L735.6 1999.5L784.8 1904.1L793.7 1885.5L798.6 1874.6L801.8 1866.8L804 1860.7L805.6 1855.8L806.8 1851.7L807.6 1848.1L808.2 1845.1L808.6 1842.4L808.9 1840L808.9 1837.9L808.9 1836L808.7 1834.4L808.5 1832.9L808.1 1831.6L807.2 1829.6L805.9 1828.2L804.4 1827.3L802.7 1827L800.8 1827.3L798.7 1828.1L797.5 1828.8L796.4 1829.6L795.1 1830.7L793.8 1831.9L792.4 1833.4L791 1835.1L789.5 1837.2L787.9 1839.6L786.1 1842.4L784.3 1845.7L782.3 1849.8L780 1854.7L777.4 1861L774.2 1869.3L769.9 1881.6L762.8 1904.6L761.5 1907.4L775.2 1856.2L779.2 1838.9L781.2 1828.3L782.3 1820.8L782.9 1815.1L783.2 1810.5L783.1 1806.9L782.9 1803.9L782.5 1801.5L782 1799.6L781.3 1798.2L780.6 1797.2L778.8 1796.2L776.7 1797.1L775.5 1798.3L774.1 1800.2L772.7 1802.7L771.1 1806.1L769.4 1810.5L767.5 1816.5L765.2 1824.7L762.3 1837.1L757.8 1860.4L747.7 1921.4L755.2 1869L757.2 1851.2L758 1840.3L758.3 1832.3L758.4 1826.1L758.2 1821.1L757.9 1816.8L757.4 1813.2L756.9 1810L756.3 1807.2L755.7 1804.7L755 1802.5L754.2 1800.5L753.4 1798.7L752.6 1797.2L751.8 1795.7L750.9 1794.5L750 1793.4L749.1 1792.4L748.2 1791.5L746.4 1790.1L744.4 1789.2L742.5 1788.7L740.5 1788.5L738.5 1789.5L737.5 1790.5L736.6 1791.7L735.6 1793.1L734.6 1794.6L733.7 1796.1L732.8 1797.3L731.8 1798.2L730 1799L728.1 1799.1L726.3 1799.6L724.5 1800.8L722.6 1801.3L720.7 1799.7L719.6 1798.3L718.5 1796.7L717.4 1795.2L716.3 1793.7L715.3 1792.3L714.2 1791.2L713.1 1790.3L712 1789.7L710 1789L708 1789.1L706.1 1790L704.4 1791.6L703.6 1792.8L702.8 1794.2L702.1 1795.8L701.4 1797.7L700.8 1799.9L700.3 1802.4L699.9 1805.4L699.7 1808.8L699.5 1812.9L699.6 1817.8L700 1823.9L700.7 1831.7L702.2 1842.5L705.3 1860.1L716.1 1911.9L708.8 1881.5L702.8 1858.4L699.2 1846L696.4 1837.7L694.1 1831.5L692.1 1826.7L690.3 1822.9L688.6 1819.9L687.1 1817.4L685.6 1815.5L684.3 1813.9L683 1812.7L681.9 1811.9L680.8 1811.3L678.8 1811.1L677.2 1812.2L676.6 1813.3L676.2 1814.9L675.9 1816.9L675.8 1819.4L676 1822.6L676.4 1826.5L677.2 1831.4L678.5 1837.6L680.7 1846L684.3 1858.3L692 1880.9L705.8 1919.6L686.6 1869.9L679.5 1853.4L674.8 1843.3L671.2 1836.2L668.2 1830.8L665.5 1826.5L663.2 1823L661 1820.1L659 1817.7L657.2 1815.6L655.4 1813.9L653.8 1812.4L652.2 1811.3L650.8 1810.3L649.4 1809.5L648.1 1808.9L646.8 1808.5L645.7 1808.3L643.5 1808.2L641.6 1808.8L640.1 1810L638.9 1812L638.5 1813.3L638.3 1814.9L638.1 1816.7L638.2 1818.7L638.4 1821.1L638.8 1823.8L639.5 1826.9L640.6 1830.5L642 1834.8L644 1840L646.8 1846.5L650.9 1855.1L657.6 1867.9L672.1 1893.4L680.8 1908.8L660.8 1877L651.8 1863.7L645.7 1855.3L641 1849.2L637.1 1844.6L633.8 1841L630.8 1838L628.2 1835.6L625.8 1833.5L623.6 1831.8L621.6 1830.4L619.6 1829.2L617.9 1828.3L616.2 1827.5L614.6 1826.9L613.2 1826.5L611.8 1826.1L610.5 1825.9L609.2 1825.9L607 1826.1L605 1826.7L603.4 1827.7L602 1829L600.8 1830.7L599.9 1832.6L599.4 1834.9L599.2 1836.2L599.1 1837.5L599.1 1839L599.2 1840.5L599.4 1842.2L599.7 1844L600.2 1845.9L600.8 1847.9L601.6 1850.1L602.6 1852.5L603.8 1855.1L605.2 1857.9L607 1861.1L609.2 1864.7L611.9 1868.7L615.4 1873.5L620 1879.4L626.3 1886.9L636.1 1897.9L656.7 1919.6L676.1 1939.8L649.1 1913.5L637.8 1903.1L631 1897.3L626.5 1893.9L623.7 1892L622.1 1891.5L622.5 1893.7L624.4 1896.4L628 1900.6L633.8 1906.7L643.7 1916.5L665.3 1936.6L659.9 1932.3L630.8 1907.3L618.1 1897L609.6 1890.6L603.3 1886.1L598.1 1882.7L593.8 1880L590 1877.9L586.7 1876.3L583.7 1874.9L581 1873.8L578.5 1872.9L576.2 1872.2L574.1 1871.6L572.1 1871.2L570.3 1870.9L568.6 1870.7L567 1870.6L565.5 1870.6L564.1 1870.7L562.8 1870.9L561.5 1871.1L560.3 1871.4L558.2 1872.2L556.4 1873.2L554.8 1874.3L553.4 1875.7L552.3 1877.2L551.4 1878.9L550.8 1880.7L550.5 1882.7L550.4 1884.8L550.6 1887.1L550.9 1888.4L551.2 1889.6L551.6 1890.9L552.1 1892.2L552.6 1893.6L553.3 1895L554.1 1896.5L555 1898L556 1899.6L557.2 1901.2L558.5 1902.9L560.1 1904.7L561.8 1906.6L563.7 1908.5L565.9 1910.6L568.4 1912.8L571.4 1915.2L574.8 1917.8L578.9 1920.7L583.8 1924L590 1927.9L598.3 1932.6L610.5 1939.2L633.1 1950.7L691.5 1978.7L641 1955.4L623.8 1947.9L613.1 1943.6L605.4 1940.7L599.3 1938.7L594.2 1937.1L590 1936L586.3 1935.1L583.1 1934.5L580.2 1934L577.6 1933.7L575.2 1933.5L573.1 1933.4L571.2 1933.4L569.4 1933.5L567.8 1933.7L566.3 1933.9L564.9 1934.2L563.6 1934.5L562.5 1934.9L560.4 1935.8L558.7 1936.8L557.2 1937.9L556 1939.2L555.1 1940.5L554.3 1941.9L553.8 1943.4L553.5 1945L553.5 1946.6L553.6 1948.3L554 1950L554.6 1951.8L555.4 1953.6L556.4 1955.4L557.6 1957.2L559 1959.1L559.8 1960L560.7 1961L561.6 1961.9L562.5 1962.9L563.5 1963.8L564.6 1964.8L565.7 1965.7L566.9 1966.7L568.1 1967.6L569.4 1968.6L570.8 1969.5L572.2 1970.5L573.7 1971.4L575.3 1972.4L577 1973.3L578.8 1974.3L580.6 1975.2L582.6 1976.2L584.7 1977.1L586.9 1978.1L589.2 1979L591.7 1980L594.3 1980.9L597.1 1981.9L600.1 1982.8L603.4 1983.8L607 1984.7L610.9 1985.7L615.2 1986.7L620 1987.7L625.5 1988.7L631.9 1989.7L639.7 1990.9L649.5 1992.1L663 1993.6L685.6 1995.6L735.6 1999.5L726.2 1998.8L704.6 1997.5L692.2 1996.8L683.6 1996.5L677.1 1996.4L672.1 1996.4L668.1 1996.5L665 1996.6L662.4 1996.8L660.5 1997L659 1997.3L657.3 1997.9L658.7 1998.6L661.2 1998.9L659.4 1999.2L657.1 1999.5L659.4 1999.8L661.2 2000.1L658.7 2000.4L657.1 2000.8L659 2001.7L660.5 2002L662.4 2002.2L665 2002.4L668.1 2002.5L672.1 2002.6L677.1 2002.6L683.6 2002.5L692.2 2002.2L704.6 2001.5L726.2 2000.2L735.6 1999.5L685.6 2003.4L663 2005.4L649.5 2006.9L639.7 2008.1L631.9 2009.3L625.5 2010.3L620 2011.3L615.2 2012.3L610.9 2013.3L607 2014.3L603.4 2015.2L600.1 2016.2L597.1 2017.1L594.3 2018.1L591.7 2019L589.2 2020L586.9 2020.9L584.7 2021.9L582.6 2022.8L580.6 2023.8L578.8 2024.7L577 2025.7L575.3 2026.6L573.7 2027.6L572.2 2028.5L570.8 2029.5L569.4 2030.4L568.1 2031.4L566.9 2032.3L565.7 2033.3L564.6 2034.2L563.5 2035.2L562.5 2036.1L561.6 2037.1L560.7 2038L559.8 2039L559 2039.9L557.6 2041.8L556.4 2043.6L555.4 2045.4L554.6 2047.2L554 2049L553.6 2050.7L553.5 2052.4L553.5 2054L553.8 2055.6L554.3 2057.1L555.1 2058.5L556 2059.8L557.2 2061.1L558.7 2062.2L560.4 2063.2L562.5 2064.1L563.6 2064.5L564.9 2064.8L566.3 2065.1L567.8 2065.3L569.4 2065.5L571.2 2065.6L573.1 2065.6L575.2 2065.5L577.6 2065.3L580.2 2065L583.1 2064.5L586.3 2063.9L590 2063L594.2 2061.9L599.3 2060.3L605.4 2058.3L613.1 2055.4L623.8 2051.1L641 2043.6L691.5 2020.3L633.1 2048.3L610.5 2059.8L598.3 2066.4L590 2071.1L583.8 2075L578.9 2078.3L574.8 2081.2L571.4 2083.8L568.4 2086.2L565.9 2088.4L563.7 2090.5L561.8 2092.4L560.1 2094.3L558.5 2096.1L557.2 2097.8L556 2099.4L555 2101L554.1 2102.5L553.3 2104L552.6 2105.4L552.1 2106.8L551.6 2108.1L551.2 2109.4L550.9 2110.6L550.6 2111.9L550.4 2114.2L550.5 2116.3L550.8 2118.3L551.4 2120.1L552.3 2121.8L553.4 2123.3L554.8 2124.7L556.4 2125.8L558.2 2126.8L560.3 2127.6L561.5 2127.9L562.8 2128.1L564.1 2128.3L565.5 2128.4L567 2128.4L568.6 2128.3L570.3 2128.1L572.1 2127.8L574.1 2127.4L576.2 2126.8L578.5 2126.1L581 2125.2L583.7 2124.1L586.7 2122.7L590 2121.1L593.8 2119L598.1 2116.3L603.3 2112.9L609.6 2108.4L618.1 2102L630.8 2091.7L659.9 2066.7L665.3 2062.4L643.7 2082.5L633.8 2092.3L628 2098.4L624.4 2102.6L622.5 2105.3L621.7 2106.9L623.7 2107L626.5 2105.1L631 2101.7L637.8 2095.9L649.1 2085.5L676.1 2059.2L656.7 2079.4L636.1 2101.1L626.3 2112.1L620 2119.6L615.4 2125.5L611.9 2130.3L609.2 2134.3L607 2137.9L605.2 2141.1L603.8 2143.9L602.6 2146.5L601.6 2148.9L600.8 2151.1L600.2 2153.1L599.7 2155L599.4 2156.8L599.2 2158.5L599.1 2160L599.1 2161.5L599.2 2162.8L599.4 2164.1L599.6 2165.3L600.3 2167.4L601.4 2169.2L602.6 2170.7L604.2 2171.8L606 2172.7L608.1 2173.1L610.5 2173.1L611.8 2172.9L613.2 2172.5L614.6 2172.1L616.2 2171.5L617.9 2170.7L619.6 2169.8L621.6 2168.6L623.6 2167.2L625.8 2165.5L628.2 2163.4L630.8 2161L633.8 2158L637.1 2154.4L641 2149.8L645.7 2143.7L651.8 2135.3L660.8 2122L680.8 2090.2L672.1 2105.6L657.6 2131.1L650.9 2143.9L646.8 2152.5L644 2159L642 2164.2L640.6 2168.5L639.5 2172.1L638.8 2175.2L638.4 2177.9L638.2 2180.3L638.1 2182.3L638.3 2184.1L638.5 2185.7L638.9 2187L639.4 2188.1L640.8 2189.7L642.5 2190.6L644.5 2190.8L646.8 2190.5L648.1 2190.1L649.4 2189.5L650.8 2188.7L652.2 2187.7L653.8 2186.6L655.4 2185.1L657.2 2183.4L659 2181.3L661 2178.9L663.2 2176L665.5 2172.5L668.2 2168.2L671.2 2162.8L674.8 2155.7L679.5 2145.6L686.6 2129.1L705.8 2079.4L692 2118.1L684.3 2140.7L680.7 2153L678.5 2161.4L677.2 2167.6L676.4 2172.5L676 2176.4L675.8 2179.6L675.9 2182.1L676.2 2184.1L676.6 2185.7L677.2 2186.8L678.8 2187.9L680.8 2187.7L681.9 2187.1L683 2186.3L684.3 2185.1L685.6 2183.5L687.1 2181.6L688.6 2179.1L690.3 2176.1L692.1 2172.3L694.1 2167.5L696.4 2161.3L699.2 2153L702.8 2140.6L708.8 2117.5L716.1 2087.1L705.3 2138.9L702.2 2156.5L700.7 2167.3L700 2175.1L699.6 2181.2L699.5 2186.1L699.7 2190.2L699.9 2193.6L700.3 2196.6L700.8 2199.1L701.4 2201.3L702.1 2203.2L702.8 2204.8L703.6 2206.2L704.4 2207.4L705.2 2208.3L707 2209.6L709 2210.1L711 2209.8L713.1 2208.7L714.2 2207.8L715.3 2206.7L716.3 2205.3L717.4 2203.8L718.5 2202.3L719.6 2200.7L720.7 2199.3L721.7 2198.3L723.6 2197.7L725.4 2198.8L727.2 2199.8L729.1 2199.9L730.9 2200.2L732.8 2201.7L733.7 2202.9L734.6 2204.4L735.6 2205.9L736.6 2207.3L737.5 2208.5L738.5 2209.5L740.5 2210.5L742.5 2210.3L744.4 2209.8L746.4 2208.9L748.2 2207.5L749.1 2206.6L750 2205.6L750.9 2204.5L751.8 2203.3L752.6 2201.8L753.4 2200.3L754.2 2198.5L755 2196.5L755.7 2194.3L756.3 2191.8L756.9 2189L757.4 2185.8L757.9 2182.2L758.2 2177.9L758.4 2172.9L758.3 2166.7L758 2158.7L757.2 2147.8L755.2 2130L747.7 2077.6L757.8 2138.6L762.3 2161.9L765.2 2174.3L767.5 2182.5L769.4 2188.5L771.1 2192.9L772.7 2196.3L774.1 2198.8L775.5 2200.7L776.7 2201.9L777.8 2202.6L779.8 2202.5L781.3 2200.8L782 2199.4L782.5 2197.5L782.9 2195.1L783.1 2192.1L783.2 2188.5L782.9 2183.9L782.3 2178.2L781.2 2170.7L779.2 2160.1L775.2 2142.8L761.5 2091.6L762.8 2094.4L769.9 2117.4L774.2 2129.7L777.4 2138L780 2144.3L782.3 2149.2L784.3 2153.3L786.1 2156.6L787.9 2159.4L789.5 2161.8L791 2163.9L792.4 2165.6L793.8 2167.1L795.1 2168.3L796.4 2169.4L797.5 2170.2L798.7 2170.9L800.8 2171.7L802.7 2172L804.4 2171.7L805.9 2170.8L807.2 2169.4L808.1 2167.4L808.5 2166.1L808.7 2164.6L808.9 2163L808.9 2161.1L808.9 2159L808.6 2156.6L808.2 2153.9L807.6 2150.9L806.8 2147.3L805.6 2143.2L804 2138.3L801.8 2132.2L798.6 2124.4L793.7 2113.5L784.8 2094.9L735.6 1999.5L788.6 2100.1L798.8 2118.1L805 2128.3L809.6 2135.4L813.3 2140.6L816.4 2144.7L819.1 2148L821.5 2150.6L823.6 2152.7L825.5 2154.4L827.3 2155.8L828.9 2156.9L830.3 2157.7L831.6 2158.2L832.8 2158.5L834.7 2158.5L836.2 2157.7L837.2 2156.1L837.6 2153.8L837.6 2152.3L837.5 2150.5L837.1 2148.5L836.5 2146.2L835.6 2143.6L834.4 2140.5L832.9 2137L830.8 2132.8L828 2127.7L824.2 2121.2L818.7 2112.6L809.6 2099.3L787.4 2068.7L815.4 2105.2L833.8 2128.3L843.2 2139.3L849.7 2146.4L854.7 2151.4L858.7 2155.1L862.1 2157.9L865 2160.1L867.5 2161.7L869.6 2162.9L871.5 2163.7L873.1 2164.2L874.5 2164.3L876.6 2163.8L877.9 2162.5L878.9 2160.7L879.5 2158.5L879.5 2157.1L879.5 2155.7L879.3 2154.1L879 2152.4L878.4 2150.5L877.7 2148.4L876.7 2146.1L875.5 2143.6L874 2140.8L872 2137.6L869.6 2133.9L866.5 2129.6L862.4 2124.5L856.8 2117.9L848.5 2108.9L833.8 2093.8L735.6 1999.5L837.5 2095.6L853.3 2109.6L862.7 2117.3L869.4 2122.5L874.7 2126.3L879 2129.1L882.7 2131.2L885.8 2132.8L888.4 2134L890.7 2134.8L892.7 2135.4L894.5 2135.7L895.9 2135.7L897.1 2135.5L898.8 2134.6L899.9 2133.1L900.5 2131.2L900.7 2129.1L900.5 2127.8L900.3 2126.5L899.9 2125.1L899.3 2123.5L898.6 2121.8L897.6 2120.1L896.4 2118.1L895 2116L893.3 2113.7L891.2 2111.2L888.6 2108.3L885.5 2105.1L881.5 2101.4L876.5 2097L869.8 2091.5L860 2084L842.7 2071.6L735.6 1999.5L841.6 2069.6L859.8 2080.8L870.6 2087.1L878.4 2091.3L884.5 2094.3L889.6 2096.6L893.9 2098.4L897.6 2099.8L900.9 2100.9L903.9 2101.7L906.6 2102.4L909 2102.9L911.3 2103.2L913.3 2103.4L915.2 2103.5L916.9 2103.4L918.5 2103.3L920 2103.1L921.3 2102.9L922.5 2102.5L924.7 2101.6L926.4 2100.5L927.8 2099.1L928.6 2097.5L928.2 2096.3L927.3 2094.8L925.6 2093L923.1 2090.8L919.5 2088.1L914.6 2084.8L907.6 2080.6L897 2074.8L878.1 2065.2L735.6 1999.5L855 2053.4L876.6 2062.4L889.9 2067.6L899.6 2071L907.4 2073.6L913.9 2075.5L919.6 2077L925 2078.4L929.8 2079.4L934.2 2080.3L938 2080.9L941.6 2081.3L944.9 2081.6L948 2081.8L950.7 2081.8L953.2 2081.7L955.5 2081.6L957.6 2081.3L959.6 2081L961.5 2080.6L963.3 2080.2L965 2079.7L966.6 2079.2L968.2 2078.7L969.6 2078.1L971 2077.5L972.4 2076.8L973.6 2076.2L974.9 2075.5L976.3 2074.8L977.7 2074.2L979 2073.5L980.3 2072.8L981.5 2072L982.6 2071.2L983.7 2070.5L984.8 2069.6L985.8 2068.8L986.7 2068L987.6 2067.1L988.5 2066.2L989.4 2065.3L990.2 2064.4L990.9 2063.5L992.4 2061.6L993.7 2059.7L995 2057.8L996.1 2055.8L997.2 2053.7L998.1 2051.7L999 2049.6L999.8 2047.5L1000.6 2045.4L1001.3 2043.3L1001.9 2041.2L1002.5 2039L1003 2036.9L1003.5 2034.7L1003.9 2032.5L1004.3 2030.4L1004.6 2028.2L1005 2026L1005.2 2023.8L1005.5 2021.6L1005.7 2019.4L1005.9 2017.2L1006.1 2015L1006.2 2012.8L1006.3 2010.6L1006.4 2008.3L1006.5 2006.1L1006.6 2003.9L1006.6 2002.8" stroke="#00FF00" stroke-width="4.2" stroke-dasharray="14,13.6"/>
<path d="M1006.6 1996.2L1006.5 1994L1006.5 1991.8L1006.4 1989.5L1006.3 1987.3L1006.2 1985.1L1006 1982.9L1005.8 1980.7L1005.7 1978.5L1005.4 1976.3L1005.2 1974.1L1004.9 1971.9L1004.7 1969.7L1004.3 1967.5L1004 1965.3L1003.6 1963.1L1003.2 1961L1002.8 1958.8L1002.4 1956.6L1001.9 1954.5L1001.4 1952.3L1000.9 1950.1L1000.3 1948L999.7 1945.9L999 1943.7L998.3 1941.6L997.6 1939.5L996.9 1937.4L996.1 1935.4L995.2 1933.3L994.3 1931.2L993.4 1929.2L992.4 1927.2L991.4 1925.2L990.3 1923.2L989.2 1921.3L988 1919.4L986.8 1917.5L985.5 1915.6L984.1 1913.8L982.6 1912L981.1 1910.2L979.5 1908.5L977.8 1906.8L976.1 1905.2L975.2 1904.4L974.2 1903.6L973.2 1902.8L972.2 1902.1L971.2 1901.4L970.2 1900.7L969.1 1900L968 1899.3L966.8 1898.6L965.6 1898L964.4 1897.4L963.1 1896.8L961.5 1896.4L959.9 1896L958.3 1895.7L956.6 1895.3L954.8 1895L953.1 1894.7L951.3 1894.5L949.4 1894.3L947.5 1894.1L945.6 1893.9L943.7 1893.8L941.7 1893.8L939.6 1893.7L937.5 1893.7L935.3 1893.8L933.1 1893.9L930.9 1894L928.6 1894.2L926.2 1894.5L923.7 1894.8L921.2 1895.2L918.6 1895.6L915.9 1896.2L913 1896.8L910.1 1897.5L907.1 1898.3L904 1899.2L900.7 1900.1L897.3 1901.3L893.5 1902.7L889.4 1904.3L884.8 1906.2L879.7 1908.6L873.8 1911.5L866.9 1915.1L858.2 1920L846.5 1926.9L827.3 1938.9L735.6 1999.5L820.2 1942.5L837.6 1930.2L847.4 1922.8L854.1 1917.5L859.1 1913.3L862.9 1909.8L865.9 1906.8L868.3 1904.2L870.3 1902L871.8 1899.9L873 1898.2L873.9 1896.6L874.6 1895.2L874.9 1893.9L875.1 1891.9L874.5 1890.5L873.3 1889.5L871.7 1888.8L869.9 1888.4L867.6 1888.3L866.4 1888.4L865 1888.6L863.5 1888.9L861.9 1889.3L860.2 1889.9L858.3 1890.6L856.3 1891.4L854.1 1892.5L851.7 1893.7L849 1895.3L846 1897.1L842.7 1899.4L838.8 1902.1L834.3 1905.5L828.8 1910L821.8 1916L811.8 1925L793.9 1942L751.7 1983.5L790 1944.9L802.3 1932L809.2 1924.4L813.6 1919.2L816.3 1915.6L818 1913.2L818.6 1911.7L815.7 1912.6L812.9 1914.9L808.9 1918.5L803.2 1924.1L794.6 1933.2L778.3 1951L765.5 1965.3L800.9 1924.1L812.4 1910L819.3 1901.1L824 1894.6L827.5 1889.5L830.2 1885.2L832.3 1881.6L834 1878.5L835.3 1875.7L836.4 1873.3L837.2 1871.1L837.8 1869.1L838.2 1867.4L838.5 1865.8L838.6 1864.4L838.6 1863.2L838.3 1861.1L837.5 1859.5L836.3 1858.5L834.8 1857.9L833.1 1857.7L831.1 1857.9L828.8 1858.6L827.5 1859.2L826.2 1859.8L824.8 1860.7L823.3 1861.7L821.6 1862.9L819.9 1864.2L818.1 1865.9L816.1 1867.8L813.9 1870.1L811.5 1872.8L808.8 1876L805.7 1879.9L802.2 1884.8L797.9 1891.1L792.3 1899.8L783.9 1913.6L765.3 1946.2L773.8 1930.1L787.5 1904.2L793.9 1891.3L797.9 1882.6L800.7 1876L802.8 1870.7L804.3 1866.3L805.4 1862.6L806.3 1859.3L806.9 1856.5L807.3 1854L807.6 1851.7L807.7 1849.7L807.7 1847.9L807.6 1846.4L807.4 1844.9L807.2 1843.7L806.4 1841.6L805.3 1840.1L804 1839.2L802.5 1838.7L800.8 1838.5L799.1 1838.6L797.2 1839L795.2 1839.8L793.2 1840.9L792.1 1841.5L791 1842.2L790 1843L788.9 1843.9L787.8 1844.8L786.7 1845.7L785.6 1846.7L784.5 1847.6L783.4 1848.6L782.3 1849.6L781.3 1850.5L780.3 1851.3L779.3 1852L777.5 1853.1L775.9 1853.6L774.5 1853.4L773.3 1852.4L772.3 1850.8L771.3 1848.7L770.9 1847.5L770.4 1846.3L770 1845L769.5 1843.6L769 1842.3L768.5 1841L768 1839.7L767.5 1838.4L767 1837.2L766.4 1836.1L765.8 1835L764.6 1833.1L763.3 1831.4L761.9 1830.1L760.4 1829.1L758.9 1828.4L757.3 1828.1L755.7 1828.1L754 1828.5L752.3 1829.4L750.6 1830.8L749.7 1831.6L748.9 1832.5L748 1833.6L747.2 1834.7L746.3 1835.8L745.5 1836.9L744.7 1837.9L743.8 1838.9L742.3 1840.1L740.8 1840.3L739.3 1839.8L737.8 1839.1L736.3 1838.8L734.9 1838.9L733.4 1839L731.9 1839L730.3 1838.2L728.8 1836.9L727.2 1835.1L726.3 1834.2L724.7 1832.6L723 1831.4L721.4 1830.8L719.8 1830.9L718.3 1831.5L716.8 1832.4L715.4 1833.9L714.1 1835.9L713.5 1837.1L712.9 1838.5L712.4 1840L711.9 1841.7L711.4 1843.6L711 1845.8L710.7 1848.2L710.5 1851L710.3 1854.1L710.2 1857.8L710.3 1862L710.6 1867L711.2 1873.1L712.1 1881L713.8 1891.8L716.9 1909.4L727.5 1961.4L716.7 1912.6L711.1 1889.3L707.7 1876.8L705.2 1868.4L703 1862.1L701.2 1857.1L699.5 1853.1L697.9 1849.8L696.5 1847.1L695.1 1844.8L693.9 1842.9L692.7 1841.3L691.5 1840.1L690.4 1839.1L689.4 1838.3L687.6 1837.5L685.9 1837.5L684.5 1838.2L683.4 1839.7L682.5 1841.9L682.1 1843.3L681.9 1844.9L681.8 1846.8L681.7 1848.9L681.9 1851.4L682.1 1854.3L682.6 1857.6L683.3 1861.4L684.4 1866.1L685.9 1871.7L688 1878.8L691.2 1888.5L696.7 1903.4L710.4 1938.1L711.2 1940.9L699.7 1914.2L693.7 1901.3L689.6 1892.9L686.4 1886.9L683.7 1882.4L681.5 1878.9L679.6 1876.2L678 1874.1L676.6 1872.5L675.4 1871.5L674.3 1870.8L672.8 1870.6L671.8 1871.4L671.1 1873.1L670.9 1875.5L671 1877L671.3 1878.8L671.7 1880.9L672.3 1883.2L673.1 1886L674.2 1889.2L675.7 1893L677.6 1897.4L680.1 1903L683.7 1910L688.8 1919.8L697.7 1935.5L725 1981.8L686.6 1918.5L673.6 1898.1L666.4 1887.3L661.2 1880.2L657.3 1875.1L654 1871.2L651.3 1868.3L649 1866L647 1864.3L645.3 1863L643.9 1862.2L642.7 1861.7L640.9 1861.8L639.9 1862.9L639.6 1865.1L639.8 1866.6L640.2 1868.4L640.9 1870.6L641.8 1873.1L643.2 1876L645 1879.5L647.3 1883.7L650.5 1888.9L654.8 1895.5L661.2 1904.6L672.1 1919.2L705.5 1961.8L690.1 1943.1L674.5 1924.3L665.7 1914.3L659.5 1907.6L654.7 1902.6L650.7 1898.7L647.3 1895.6L644.3 1893.1L641.6 1890.9L639.2 1889.2L637 1887.7L635 1886.4L633.2 1885.3L631.5 1884.5L629.9 1883.7L628.4 1883.2L627.1 1882.7L625.8 1882.4L624.6 1882.1L622.5 1882L620.6 1882.1L619.1 1882.6L617.8 1883.4L616.9 1884.5L616.5 1886.1L616.7 1888.2L617 1889.5L617.4 1890.9L618.1 1892.4L618.9 1894.1L620 1896L621.3 1898.1L623 1900.4L624.9 1903L627.3 1905.9L630.3 1909.2L634 1913.1L638.7 1917.9L645 1923.9L654.2 1932.1L670.3 1945.9L735.6 1999.5L670.2 1946.8L653.5 1933.9L643.5 1926.6L636.4 1921.6L630.8 1918L626.2 1915.2L622.3 1912.9L619 1911.2L616 1909.7L613.3 1908.5L610.9 1907.6L608.8 1906.8L606.8 1906.2L605 1905.8L603.3 1905.4L601.8 1905.2L600.4 1905.1L599.2 1905.1L597 1905.3L595.1 1905.8L593.7 1906.5L592.5 1907.5L591.7 1908.7L591.2 1910.1L591.1 1911.7L591.3 1913.5L591.8 1915.5L592.8 1917.7L593.5 1918.8L594.2 1920L595.1 1921.3L596.1 1922.6L597.3 1924L598.6 1925.5L600.1 1927.1L601.8 1928.7L603.7 1930.4L605.9 1932.3L608.5 1934.3L611.4 1936.4L614.7 1938.8L618.7 1941.4L623.6 1944.4L629.6 1947.9L637.5 1952.2L648.7 1958.1L668.2 1967.7L735.6 1999.5L657.6 1963.5L637.9 1954.9L626.4 1950.2L618.2 1947.1L611.8 1944.9L606.6 1943.2L602.2 1942L598.5 1941L595.1 1940.3L592.2 1939.8L589.5 1939.4L587.1 1939.1L585 1939L583 1938.9L581.2 1938.9L579.5 1939L578 1939.2L576.6 1939.4L575.2 1939.7L574 1940L571.9 1940.7L570.1 1941.6L568.5 1942.6L567.2 1943.7L566.1 1944.9L565.3 1946.2L564.6 1947.5L564.1 1948.9L563.9 1950.4L563.9 1951.9L564.1 1953.5L564.6 1955.1L565.2 1956.8L566.1 1958.5L567.2 1960.2L568.5 1962L570 1963.7L570.8 1964.6L571.7 1965.5L572.6 1966.4L573.6 1967.3L574.7 1968.2L575.8 1969.1L577 1970L578.2 1970.9L579.5 1971.8L580.8 1972.7L582.2 1973.6L583.7 1974.4L585.3 1975.3L586.9 1976.2L588.6 1977.1L590.4 1978L592.3 1978.9L594.3 1979.7L596.4 1980.6L598.6 1981.5L601 1982.4L603.4 1983.2L606 1984.1L608.8 1984.9L611.8 1985.8L615 1986.6L618.4 1987.5L622.2 1988.3L626.2 1989.2L630.7 1990.1L635.7 1990.9L641.4 1991.8L648.1 1992.7L656 1993.6L666 1994.7L679.8 1995.9L702.7 1997.5L735.6 1999.5L722.9 1998.8L701.5 1997.8L689.4 1997.4L681.2 1997.3L675.4 1997.3L671.1 1997.4L668.1 1997.6L666 1997.8L664.8 1998.1L665.9 1998.6L668.5 1999L666.6 1999.2L664.4 1999.5L666.6 1999.8L668.5 2000L665.9 2000.4L664.3 2000.7L666 2001.2L668.1 2001.4L671.1 2001.6L675.4 2001.7L681.2 2001.7L689.4 2001.6L701.5 2001.2L722.9 2000.2L735.6 1999.5L702.7 2001.5L679.8 2003.1L666 2004.3L656 2005.4L648.1 2006.3L641.4 2007.2L635.7 2008.1L630.7 2008.9L626.2 2009.8L622.2 2010.7L618.4 2011.5L615 2012.4L611.8 2013.2L608.8 2014.1L606 2014.9L603.4 2015.8L601 2016.6L598.6 2017.5L596.4 2018.4L594.3 2019.3L592.3 2020.1L590.4 2021L588.6 2021.9L586.9 2022.8L585.3 2023.7L583.7 2024.6L582.2 2025.4L580.8 2026.3L579.5 2027.2L578.2 2028.1L577 2029L575.8 2029.9L574.7 2030.8L573.6 2031.7L572.6 2032.6L571.7 2033.5L570.8 2034.4L570 2035.3L568.5 2037L567.2 2038.8L566.1 2040.5L565.2 2042.2L564.6 2043.9L564.1 2045.5L563.9 2047.1L563.9 2048.6L564.1 2050.1L564.6 2051.5L565.3 2052.8L566.1 2054.1L567.2 2055.3L568.5 2056.4L570.1 2057.4L571.9 2058.3L574 2059L575.2 2059.3L576.6 2059.6L578 2059.8L579.5 2060L581.2 2060.1L583 2060.1L585 2060L587.1 2059.9L589.5 2059.6L592.2 2059.2L595.1 2058.7L598.5 2058L602.2 2057L606.6 2055.8L611.8 2054.1L618.2 2051.9L626.4 2048.8L637.9 2044.1L657.6 2035.5L735.6 1999.5L668.2 2031.3L648.7 2040.9L637.5 2046.8L629.6 2051.1L623.6 2054.6L618.7 2057.6L614.7 2060.2L611.4 2062.6L608.5 2064.7L605.9 2066.7L603.7 2068.6L601.8 2070.3L600.1 2071.9L598.6 2073.5L597.3 2075L596.1 2076.4L595.1 2077.7L594.2 2079L593.5 2080.2L592.8 2081.3L592.3 2082.5L591.5 2084.5L591.1 2086.4L591.1 2088.1L591.4 2089.6L592.1 2090.9L593.1 2092L594.4 2092.9L596 2093.5L598 2093.9L600.4 2093.9L601.8 2093.8L603.3 2093.6L605 2093.2L606.8 2092.8L608.8 2092.2L610.9 2091.4L613.3 2090.5L616 2089.3L619 2087.8L622.3 2086.1L626.2 2083.8L630.8 2081L636.4 2077.4L643.5 2072.4L653.5 2065.1L670.2 2052.2L735.6 1999.5L670.3 2053.1L654.2 2066.9L645 2075.1L638.7 2081.1L634 2085.9L630.3 2089.8L627.3 2093.1L624.9 2096L623 2098.6L621.3 2100.9L620 2103L618.9 2104.9L618.1 2106.6L617.4 2108.1L617 2109.5L616.7 2110.8L616.5 2112.9L616.9 2114.5L617.8 2115.6L619.1 2116.4L620.6 2116.9L622.5 2117L624.6 2116.9L625.8 2116.6L627.1 2116.3L628.4 2115.8L629.9 2115.3L631.5 2114.5L633.2 2113.7L635 2112.6L637 2111.3L639.2 2109.8L641.6 2108.1L644.3 2105.9L647.3 2103.4L650.7 2100.3L654.7 2096.4L659.5 2091.4L665.7 2084.7L674.5 2074.7L690.1 2055.9L705.5 2037.2L672.1 2079.8L661.2 2094.4L654.8 2103.5L650.5 2110.1L647.3 2115.3L645 2119.5L643.2 2123L641.8 2125.9L640.9 2128.4L640.2 2130.6L639.8 2132.4L639.6 2133.9L639.7 2135.1L640.3 2136.8L641.7 2137.4L643.9 2136.8L645.3 2136L647 2134.7L649 2133L651.3 2130.7L654 2127.8L657.3 2123.9L661.2 2118.8L666.4 2111.7L673.6 2100.9L686.6 2080.5L725 2017.2L697.7 2063.5L688.8 2079.2L683.7 2089L680.1 2096L677.6 2101.6L675.7 2106L674.2 2109.8L673.1 2113L672.3 2115.8L671.7 2118.1L671.3 2120.2L671 2122L670.9 2123.5L671 2124.8L671.4 2126.9L672.2 2128.1L673.5 2128.5L675.4 2127.5L676.6 2126.5L678 2124.9L679.6 2122.8L681.5 2120.1L683.7 2116.6L686.4 2112.1L689.6 2106.1L693.7 2097.7L699.7 2084.8L711.2 2058.1L710.4 2060.9L696.7 2095.6L691.2 2110.5L688 2120.2L685.9 2127.3L684.4 2132.9L683.3 2137.6L682.6 2141.4L682.1 2144.7L681.9 2147.6L681.7 2150.1L681.8 2152.2L681.9 2154.1L682.1 2155.7L682.5 2157.1L682.9 2158.3L683.9 2160.1L685.2 2161.2L686.7 2161.6L688.5 2161.2L690.4 2159.9L691.5 2158.9L692.7 2157.7L693.9 2156.1L695.1 2154.2L696.5 2151.9L697.9 2149.2L699.5 2145.9L701.2 2141.9L703 2136.9L705.2 2130.6L707.7 2122.2L711.1 2109.7L716.7 2086.4L727.5 2037.6L716.9 2089.6L713.8 2107.2L712.1 2118L711.2 2125.9L710.6 2132L710.3 2137L710.2 2141.2L710.3 2144.9L710.5 2148L710.7 2150.8L711 2153.2L711.4 2155.4L711.9 2157.3L712.4 2159L712.9 2160.5L713.5 2161.9L714.1 2163.1L714.8 2164.2L716.1 2165.9L717.6 2167.1L719.1 2167.9L720.6 2168.2L722.2 2168L723.9 2167.1L725.5 2165.7L727.2 2163.9L728 2163L729.6 2161.4L731.1 2160.3L732.6 2159.9L734.1 2160L735.6 2160.2L737.1 2160.1L738.6 2159.6L740.1 2158.9L741.5 2158.7L743.1 2159.4L744.7 2161.1L745.5 2162.1L746.3 2163.2L747.2 2164.3L748 2165.4L748.9 2166.5L749.7 2167.4L750.6 2168.2L752.3 2169.6L754 2170.5L755.7 2170.9L757.3 2170.9L758.9 2170.6L760.4 2169.9L761.9 2168.9L763.3 2167.6L764.6 2165.9L765.8 2164L766.4 2162.9L767 2161.8L767.5 2160.6L768 2159.3L768.5 2158L769 2156.7L769.5 2155.4L770 2154L770.4 2152.7L770.9 2151.5L771.3 2150.3L771.8 2149.2L772.8 2147.3L773.9 2146L775.2 2145.4L776.7 2145.5L778.4 2146.3L780.3 2147.7L781.3 2148.5L782.3 2149.4L783.4 2150.4L784.5 2151.4L785.6 2152.3L786.7 2153.3L787.8 2154.2L788.9 2155.1L790 2156L791 2156.8L792.1 2157.5L793.2 2158.1L795.2 2159.2L797.2 2160L799.1 2160.4L800.8 2160.5L802.5 2160.3L804 2159.8L805.3 2158.9L806.4 2157.4L807.2 2155.3L807.4 2154.1L807.6 2152.6L807.7 2151.1L807.7 2149.3L807.6 2147.3L807.3 2145L806.9 2142.5L806.3 2139.7L805.4 2136.4L804.3 2132.7L802.8 2128.3L800.7 2123L797.9 2116.4L793.9 2107.7L787.5 2094.8L773.8 2068.9L765.3 2052.8L783.9 2085.4L792.3 2099.2L797.9 2107.9L802.2 2114.2L805.7 2119.1L808.8 2123L811.5 2126.2L813.9 2128.9L816.1 2131.2L818.1 2133.1L819.9 2134.8L821.6 2136.1L823.3 2137.3L824.8 2138.3L826.2 2139.2L827.5 2139.8L828.8 2140.4L830 2140.8L832.1 2141.2L834 2141.2L835.6 2140.8L836.9 2140L837.9 2138.8L838.5 2137L838.6 2134.6L838.5 2133.2L838.2 2131.6L837.8 2129.9L837.2 2127.9L836.4 2125.7L835.3 2123.3L834 2120.5L832.3 2117.4L830.2 2113.8L827.5 2109.5L824 2104.4L819.3 2097.9L812.4 2089L800.9 2074.9L765.5 2033.7L778.3 2048L794.6 2065.8L803.2 2074.9L808.9 2080.5L812.9 2084.1L815.7 2086.4L817.5 2087.6L818 2085.8L816.3 2083.4L813.6 2079.8L809.2 2074.6L802.3 2067L790 2054.1L751.7 2015.5L793.9 2057L811.8 2074L821.8 2083L828.8 2089L834.3 2093.5L838.8 2096.9L842.7 2099.6L846 2101.9L849 2103.7L851.7 2105.3L854.1 2106.5L856.3 2107.6L858.3 2108.4L860.2 2109.1L861.9 2109.7L863.5 2110.1L865 2110.4L866.4 2110.6L867.6 2110.7L869.9 2110.6L871.7 2110.2L873.3 2109.5L874.5 2108.5L875.1 2107.1L874.9 2105.1L874.6 2103.8L873.9 2102.4L873 2100.8L871.8 2099.1L870.3 2097L868.3 2094.8L865.9 2092.2L862.9 2089.2L859.1 2085.7L854.1 2081.5L847.4 2076.2L837.6 2068.8L820.2 2056.5L735.6 1999.5L827.3 2060.1L846.5 2072.1L858.2 2079L866.9 2083.9L873.8 2087.5L879.7 2090.4L884.8 2092.8L889.4 2094.7L893.5 2096.3L897.3 2097.7L900.7 2098.9L904 2099.8L907.1 2100.7L910.1 2101.5L913 2102.2L915.9 2102.8L918.6 2103.4L921.2 2103.8L923.7 2104.2L926.2 2104.5L928.6 2104.8L930.9 2105L933.1 2105.1L935.3 2105.2L937.5 2105.3L939.6 2105.3L941.7 2105.2L943.7 2105.2L945.6 2105.1L947.5 2104.9L949.4 2104.7L951.3 2104.5L953.1 2104.3L954.8 2104L956.6 2103.7L958.3 2103.3L959.9 2103L961.5 2102.6L963.1 2102.2L964.4 2101.6L965.6 2101L966.8 2100.4L968 2099.7L969.1 2099L970.2 2098.3L971.2 2097.6L972.2 2096.9L973.2 2096.2L974.2 2095.4L975.2 2094.6L976.1 2093.8L977 2093L978.7 2091.4L980.3 2089.7L981.9 2087.9L983.4 2086.2L984.8 2084.3L986.1 2082.5L987.4 2080.6L988.6 2078.7L989.8 2076.8L990.9 2074.8L991.9 2072.8L992.9 2070.8L993.9 2068.8L994.8 2066.7L995.7 2064.7L996.5 2062.6L997.3 2060.5L998 2058.4L998.7 2056.3L999.4 2054.2L1000 2052.1L1000.6 2049.9L1001.1 2047.8L1001.7 2045.6L1002.1 2043.5L1002.6 2041.3L1003 2039.1L1003.4 2036.9L1003.8 2034.8L1004.2 2032.6L1004.5 2030.4L1004.8 2028.2L1005.1 2026L1005.3 2023.8L1005.5 2021.6L1005.8 2019.4L1005.9 2017.2L1006.1 2015L1006.2 2012.8L1006.3 2010.6L1006.4 2008.3L1006.5 2006.1L1006.6 2003.9L1006.6 2002.8" stroke="#FFCC00" stroke-width="4.2" stroke-dasharray="3.5,3.4"/>
<path d="M1006.6 1996.2L1006.5 1994L1006.5 1991.8L1006.4 1989.5L1006.3 1987.3L1006.2 1985.1L1006 1982.9L1005.8 1980.7L1005.7 1978.5L1005.4 1976.3L1005.2 1974.1L1005 1971.9L1004.7 1969.7L1004.4 1967.5L1004.1 1965.3L1003.7 1963.1L1003.3 1961L1002.9 1958.8L1002.5 1956.6L1002.1 1954.4L1001.6 1952.3L1001.1 1950.1L1000.6 1947.9L1000 1945.8L999.4 1943.7L998.8 1941.5L998.2 1939.4L997.5 1937.3L996.8 1935.2L996.1 1933.1L995.3 1931L994.5 1928.9L993.6 1926.9L992.8 1924.8L991.9 1922.8L990.9 1920.7L989.9 1918.7L988.9 1916.7L987.9 1914.8L986.8 1912.8L985.6 1910.9L984.4 1909L983.2 1907.1L981.9 1905.2L980.6 1903.4L979.2 1901.6L977.7 1899.8L976.2 1898.1L974.7 1896.4L973.1 1894.7L971.4 1893.1L969.7 1891.5L967.9 1890L966 1888.5L965 1887.8L964 1887.1L963 1886.4L962 1885.7L960.9 1885.1L959.8 1884.4L958.7 1883.8L957.6 1883.2L956.4 1882.6L955.2 1882.1L953.9 1881.6L952.4 1881.2L950.9 1880.9L949.4 1880.5L947.9 1880.2L946.3 1879.9L944.8 1879.6L943.2 1879.4L941.5 1879.1L939.9 1878.9L938.2 1878.8L936.5 1878.6L934.8 1878.5L933.1 1878.4L931.3 1878.3L929.5 1878.3L927.7 1878.3L925.8 1878.4L923.9 1878.5L921.9 1878.6L919.9 1878.8L917.9 1879L915.9 1879.2L913.9 1879.4L911.9 1879.7L909.9 1879.9L907.9 1880.2L905.9 1880.5L904 1880.8L901.9 1881.2L899.9 1881.6L897.9 1882L895.8 1882.4L893.7 1882.9L891.5 1883.5L889.3 1884.1L886.9 1884.9L884.5 1885.7L882 1886.6L879.3 1887.7L876.5 1888.9L873.5 1890.3L870.3 1891.9L866.9 1893.7L863.1 1895.8L859 1898.3L854.4 1901.2L849.1 1904.7L842.9 1909.1L835.2 1914.9L824.8 1923L807.8 1937.1L735.6 1999.5L809.8 1934.2L825.2 1920L833.9 1911.5L839.8 1905.4L844 1900.7L847.3 1896.9L849.8 1893.6L851.7 1890.9L853.2 1888.6L854.2 1886.6L855 1884.8L855.5 1883.4L855.7 1882.1L855.5 1880.3L854.4 1879.3L852.8 1878.8L850.8 1878.7L848.3 1879.3L846.9 1879.7L845.3 1880.4L843.6 1881.2L841.7 1882.3L839.6 1883.6L837.2 1885.2L834.6 1887.1L831.7 1889.5L828.3 1892.4L824.4 1896L819.7 1900.6L813.8 1906.8L805.5 1915.8L791.8 1931.6L735.6 1999.5L792.2 1929.8L805 1913.3L812.2 1903.5L817.1 1896.5L820.7 1891L823.4 1886.4L825.6 1882.6L827.3 1879.2L828.7 1876.3L829.8 1873.7L830.7 1871.3L831.4 1869.2L831.9 1867.2L832.3 1865.4L832.5 1863.8L832.6 1862.4L832.7 1861L832.6 1859.8L832.2 1857.7L831.4 1856L830.4 1854.8L829.1 1853.9L827.6 1853.4L825.8 1853.4L823.7 1853.9L822.5 1854.3L821.3 1854.9L820 1855.6L818.6 1856.5L817.1 1857.6L815.5 1858.9L813.9 1860.4L812 1862.2L810.1 1864.3L807.9 1866.7L805.5 1869.7L802.9 1873.2L799.9 1877.6L796.3 1883.1L791.9 1890.3L785.9 1900.8L776.2 1919.1L735.6 1999.5L774.8 1920L783.4 1901.3L788.2 1890.3L791.3 1882.4L793.5 1876.3L795.2 1871.3L796.4 1867.1L797.3 1863.5L798 1860.4L798.4 1857.6L798.8 1855.1L798.9 1852.9L799 1850.9L799 1849.1L798.8 1847.4L798.6 1846L798.3 1844.7L798 1843.5L797.1 1841.5L796 1840L794.7 1839L793.2 1838.4L791.6 1838.3L789.8 1838.7L787.8 1839.8L786.8 1840.5L785.7 1841.4L784.5 1842.6L783.3 1843.9L782 1845.4L780.7 1847.3L779.4 1849.4L777.9 1851.9L776.3 1854.8L774.7 1858.2L772.8 1862.3L770.8 1867.3L768.5 1873.7L765.7 1882.2L762 1894.7L755.8 1917.8L745.4 1959.1L757.4 1907.4L761 1889.9L763 1879.1L764.1 1871.3L764.8 1865.2L765.2 1860.2L765.4 1856L765.4 1852.5L765.3 1849.4L765.1 1846.6L764.9 1844.2L764.5 1842.1L764.1 1840.3L763.6 1838.6L763.1 1837.1L762.5 1835.8L761.9 1834.7L760.6 1832.9L759.2 1831.7L757.7 1830.9L756.2 1830.7L754.5 1831.1L752.8 1832L751.1 1833.5L750.3 1834.5L749.4 1835.7L748.5 1837.1L747.6 1838.7L746.7 1840.6L745.9 1842.7L745 1845.2L744.1 1848.1L743.2 1851.4L742.3 1855.3L741.5 1860.1L740.6 1865.9L739.7 1873.3L738.9 1883.4L737.9 1899.2L736.8 1936.1L736.6 1927.1L736.5 1898.2L736.1 1883.9L735.6 1874.4L735 1867.3L734.3 1861.7L733.6 1857.1L732.9 1853.2L732.1 1849.9L731.3 1847L730.5 1844.5L729.7 1842.3L728.9 1840.3L728.1 1838.6L727.3 1837.1L726.4 1835.8L725.6 1834.6L724.8 1833.6L723.1 1832L721.4 1831L719.8 1830.5L718.2 1830.4L716.6 1830.8L715.2 1831.7L713.8 1833.1L712.5 1835.1L711.9 1836.4L711.3 1837.8L710.8 1839.4L710.3 1841.2L709.9 1843.3L709.5 1845.6L709.3 1848.2L709.1 1851.3L709 1854.7L709.1 1858.8L709.3 1863.6L709.8 1869.4L710.7 1876.9L712.2 1886.9L715 1902.6L722.4 1938.8L721.1 1934.3L714.4 1906.1L710.7 1892.2L708 1883L705.8 1876.2L703.8 1870.7L702.1 1866.3L700.5 1862.6L698.9 1859.4L697.5 1856.6L696.1 1854.2L694.8 1852L693.6 1850.1L692.3 1848.4L691.1 1847L690 1845.6L688.9 1844.5L687.8 1843.4L686.7 1842.5L685.6 1841.7L684.6 1841L682.6 1840L680.8 1839.3L679 1838.9L677.3 1838.9L675.7 1839.1L674.2 1839.6L672.9 1840.4L671.6 1841.5L670.4 1842.7L669.4 1844.3L668.5 1846.1L667.8 1848.3L667.5 1849.5L667.3 1850.7L667.1 1852.1L667 1853.6L666.9 1855.2L666.9 1856.9L667 1858.8L667.2 1860.8L667.5 1863L668 1865.3L668.5 1868L669.3 1870.9L670.2 1874.1L671.4 1877.8L673 1882L674.9 1886.9L677.6 1893L681.2 1900.7L686.6 1911.5L696.4 1929.8L735.6 1999.5L712.3 1959L701.7 1941.2L695.3 1930.9L690.7 1923.7L686.9 1918.2L683.7 1913.8L681 1910.1L678.5 1907L676.3 1904.4L674.2 1902L672.3 1900L670.5 1898.2L668.8 1896.6L667.2 1895.1L665.7 1893.8L664.2 1892.7L662.8 1891.6L661.5 1890.7L660.2 1889.8L658.9 1889.1L657.7 1888.4L656.6 1887.8L655.4 1887.2L654.3 1886.8L652.2 1886L650.2 1885.4L648.3 1885L646.4 1884.7L644.7 1884.6L643.1 1884.6L641.5 1884.8L640 1885.1L638.6 1885.4L637.3 1885.9L636 1886.5L634.8 1887.1L633.7 1887.9L632.7 1888.8L632.2 1890.2L632.4 1892.2L632.7 1893.5L633.3 1895L634 1896.7L635 1898.6L636.3 1900.7L637.9 1903.2L639.8 1905.9L642.3 1909.1L645.4 1912.9L649.3 1917.4L654.5 1923L661.9 1930.5L673.6 1942L701.5 1968.2L697.3 1964.6L674.9 1944.7L663.7 1935.1L656 1928.8L650.1 1924.3L645.3 1920.7L641.2 1917.9L637.7 1915.5L634.5 1913.6L631.6 1911.9L629 1910.5L626.6 1909.3L624.3 1908.2L622.2 1907.3L620.2 1906.5L618.3 1905.8L616.6 1905.2L614.9 1904.7L613.3 1904.3L611.7 1904L610.2 1903.7L608.8 1903.5L607.4 1903.3L606.1 1903.2L604.9 1903.1L603.6 1903.1L601.3 1903.1L599.1 1903.3L597 1903.6L595.1 1904L593.3 1904.5L591.5 1905.1L589.9 1905.8L588.3 1906.6L586.9 1907.4L585.5 1908.3L584.1 1909.2L582.9 1910.2L581.7 1911.3L580.6 1912.4L579.6 1913.5L578.6 1914.7L577.7 1915.9L576.8 1917.2L576 1918.4L575.2 1919.7L574.6 1921.1L574 1922.5L573.5 1923.9L573.2 1925.4L572.9 1926.9L572.7 1928.4L572.6 1930L572.6 1931.6L572.7 1933.2L572.8 1934.9L573.1 1936.5L573.4 1938.2L573.9 1939.9L574.4 1941.6L575 1943.3L575.7 1945.1L576.5 1946.8L577.4 1948.5L578.4 1950.3L579.5 1952.1L580.7 1953.8L582 1955.6L583.4 1957.3L584.9 1959.1L586.6 1960.8L587.5 1961.7L588.4 1962.6L589.3 1963.5L590.3 1964.3L591.3 1965.2L592.4 1966.1L593.4 1967L594.6 1967.8L595.8 1968.7L597 1969.6L598.2 1970.4L599.6 1971.3L600.9 1972.1L602.4 1973L603.8 1973.9L605.4 1974.7L607 1975.6L608.7 1976.4L610.4 1977.3L612.3 1978.1L614.2 1979L616.2 1979.8L618.4 1980.7L620.6 1981.5L623 1982.3L625.6 1983.2L628.3 1984L631.1 1984.9L634.3 1985.8L637.6 1986.6L641.3 1987.5L645.4 1988.4L649.9 1989.3L655 1990.2L660.9 1991.2L668 1992.3L676.7 1993.5L688.2 1994.8L705.8 1996.7L735.6 1999.5L725.9 1998.7L710.9 1997.6L700.9 1996.9L693.5 1996.6L687.7 1996.4L683.1 1996.3L679.2 1996.3L676 1996.3L673.3 1996.4L671.1 1996.6L669.2 1996.8L667.7 1997L666.5 1997.2L664.9 1997.8L665.9 1998.6L668.5 1999L666.6 1999.2L664.4 1999.5L666.6 1999.8L668.5 2000L665.9 2000.4L664.3 2000.7L665.6 2001.5L667.7 2002L669.2 2002.2L671.1 2002.4L673.3 2002.6L676 2002.7L679.2 2002.7L683.1 2002.7L687.7 2002.6L693.5 2002.4L700.9 2002.1L710.9 2001.4L725.9 2000.3L735.6 1999.5L705.8 2002.3L688.2 2004.2L676.7 2005.5L668 2006.7L660.9 2007.8L655 2008.8L649.9 2009.7L645.4 2010.6L641.3 2011.5L637.6 2012.4L634.3 2013.2L631.1 2014.1L628.3 2015L625.6 2015.8L623 2016.7L620.6 2017.5L618.4 2018.3L616.2 2019.2L614.2 2020L612.3 2020.9L610.4 2021.7L608.7 2022.6L607 2023.4L605.4 2024.3L603.8 2025.1L602.4 2026L600.9 2026.9L599.6 2027.7L598.2 2028.6L597 2029.4L595.8 2030.3L594.6 2031.2L593.4 2032L592.4 2032.9L591.3 2033.8L590.3 2034.7L589.3 2035.5L588.4 2036.4L587.5 2037.3L586.6 2038.2L585.7 2039L584.2 2040.8L582.7 2042.6L581.3 2044.3L580.1 2046.1L578.9 2047.8L577.9 2049.6L577 2051.3L576.1 2053.1L575.4 2054.8L574.7 2056.5L574.1 2058.2L573.6 2059.9L573.3 2061.6L573 2063.3L572.7 2064.9L572.6 2066.6L572.6 2068.2L572.6 2069.8L572.8 2071.3L573 2072.9L573.3 2074.3L573.8 2075.8L574.3 2077.2L574.9 2078.6L575.6 2079.9L576.4 2081.2L577.2 2082.5L578.1 2083.7L579.1 2084.9L580.1 2086L581.2 2087.2L582.3 2088.2L583.5 2089.3L584.8 2090.2L586.1 2091.2L587.6 2092L589.1 2092.8L590.7 2093.5L592.4 2094.2L594.2 2094.7L596 2095.2L598 2095.6L600.2 2095.8L602.4 2095.9L604.9 2095.9L606.1 2095.8L607.4 2095.7L608.8 2095.5L610.2 2095.3L611.7 2095L613.3 2094.7L614.9 2094.3L616.6 2093.8L618.3 2093.2L620.2 2092.5L622.2 2091.7L624.3 2090.8L626.6 2089.7L629 2088.5L631.6 2087.1L634.5 2085.4L637.7 2083.5L641.2 2081.1L645.3 2078.3L650.1 2074.7L656 2070.2L663.7 2063.9L674.9 2054.3L697.3 2034.4L701.5 2030.8L673.6 2057L661.9 2068.5L654.5 2076L649.3 2081.6L645.4 2086.1L642.3 2089.9L639.8 2093.1L637.9 2095.8L636.3 2098.3L635 2100.4L634 2102.3L633.3 2104L632.7 2105.5L632.4 2106.8L632.2 2108.8L632.7 2110.2L633.7 2111.1L634.8 2111.9L636 2112.5L637.3 2113.1L638.6 2113.6L640 2113.9L641.5 2114.2L643.1 2114.4L644.7 2114.4L646.4 2114.3L648.3 2114L650.2 2113.6L652.2 2113L654.3 2112.2L655.4 2111.8L656.6 2111.2L657.7 2110.6L658.9 2109.9L660.2 2109.2L661.5 2108.3L662.8 2107.4L664.2 2106.3L665.7 2105.2L667.2 2103.9L668.8 2102.4L670.5 2100.8L672.3 2099L674.2 2097L676.3 2094.6L678.5 2092L681 2088.9L683.7 2085.2L686.9 2080.8L690.7 2075.3L695.3 2068.1L701.7 2057.8L712.3 2040L735.6 1999.5L696.4 2069.2L686.6 2087.5L681.2 2098.3L677.6 2106L674.9 2112.1L673 2117L671.4 2121.2L670.2 2124.9L669.3 2128.1L668.5 2131L668 2133.7L667.5 2136L667.2 2138.2L667 2140.2L666.9 2142.1L666.9 2143.8L667 2145.4L667.1 2146.9L667.3 2148.3L667.5 2149.5L667.8 2150.7L668.5 2152.9L669.4 2154.7L670.4 2156.3L671.6 2157.5L672.9 2158.6L674.2 2159.4L675.7 2159.9L677.3 2160.1L679 2160.1L680.8 2159.7L682.6 2159L684.6 2158L685.6 2157.3L686.7 2156.5L687.8 2155.6L688.9 2154.5L690 2153.4L691.1 2152L692.3 2150.6L693.6 2148.9L694.8 2147L696.1 2144.8L697.5 2142.4L698.9 2139.6L700.5 2136.4L702.1 2132.7L703.8 2128.3L705.8 2122.8L708 2116L710.7 2106.8L714.4 2092.9L721.1 2064.7L722.4 2060.2L715 2096.4L712.2 2112.1L710.7 2122.1L709.8 2129.6L709.3 2135.4L709.1 2140.2L709 2144.3L709.1 2147.7L709.3 2150.8L709.5 2153.4L709.9 2155.7L710.3 2157.8L710.8 2159.6L711.3 2161.2L711.9 2162.6L712.5 2163.9L713.1 2165L714.4 2166.7L715.9 2167.8L717.4 2168.5L719 2168.6L720.6 2168.3L722.3 2167.5L723.9 2166.2L725.6 2164.4L726.4 2163.2L727.3 2161.9L728.1 2160.4L728.9 2158.7L729.7 2156.7L730.5 2154.5L731.3 2152L732.1 2149.1L732.9 2145.8L733.6 2141.9L734.3 2137.3L735 2131.7L735.6 2124.6L736.1 2115.1L736.5 2100.8L736.6 2071.9L736.8 2062.9L737.9 2099.8L738.9 2115.6L739.7 2125.7L740.6 2133.1L741.5 2138.9L742.3 2143.7L743.2 2147.6L744.1 2150.9L745 2153.8L745.9 2156.3L746.7 2158.4L747.6 2160.3L748.5 2161.9L749.4 2163.3L750.3 2164.5L751.1 2165.5L752 2166.4L753.7 2167.6L755.3 2168.2L756.9 2168.2L758.5 2167.8L759.9 2166.8L761.3 2165.3L762.5 2163.2L763.1 2161.9L763.6 2160.4L764.1 2158.7L764.5 2156.9L764.9 2154.8L765.1 2152.4L765.3 2149.6L765.4 2146.5L765.4 2143L765.2 2138.8L764.8 2133.8L764.1 2127.7L763 2119.9L761 2109.1L757.4 2091.6L745.4 2039.9L755.8 2081.2L762 2104.3L765.7 2116.8L768.5 2125.3L770.8 2131.7L772.8 2136.7L774.7 2140.8L776.3 2144.2L777.9 2147.1L779.4 2149.6L780.7 2151.7L782 2153.6L783.3 2155.1L784.5 2156.4L785.7 2157.6L786.8 2158.5L787.8 2159.2L789.8 2160.3L791.6 2160.7L793.2 2160.6L794.7 2160L796 2159L797.1 2157.5L798 2155.5L798.3 2154.3L798.6 2153L798.8 2151.6L799 2149.9L799 2148.1L798.9 2146.1L798.8 2143.9L798.4 2141.4L798 2138.6L797.3 2135.5L796.4 2131.9L795.2 2127.7L793.5 2122.7L791.3 2116.6L788.2 2108.7L783.4 2097.7L774.8 2079L735.6 1999.5L776.2 2079.9L785.9 2098.2L791.9 2108.7L796.3 2115.9L799.9 2121.4L802.9 2125.8L805.5 2129.3L807.9 2132.3L810.1 2134.7L812 2136.8L813.9 2138.6L815.5 2140.1L817.1 2141.4L818.6 2142.5L820 2143.4L821.3 2144.1L822.5 2144.7L823.7 2145.1L825.8 2145.6L827.6 2145.6L829.1 2145.1L830.4 2144.2L831.4 2143L832.2 2141.3L832.6 2139.2L832.7 2138L832.6 2136.6L832.5 2135.2L832.3 2133.6L831.9 2131.8L831.4 2129.8L830.7 2127.7L829.8 2125.3L828.7 2122.7L827.3 2119.8L825.6 2116.4L823.4 2112.6L820.7 2108L817.1 2102.5L812.2 2095.5L805 2085.7L792.2 2069.2L735.6 1999.5L791.8 2067.4L805.5 2083.2L813.8 2092.2L819.7 2098.4L824.4 2103L828.3 2106.6L831.7 2109.5L834.6 2111.9L837.2 2113.8L839.6 2115.4L841.7 2116.7L843.6 2117.8L845.3 2118.6L846.9 2119.3L848.3 2119.7L849.6 2120.1L851.9 2120.3L853.7 2120L855 2119.3L855.7 2117.9L855.5 2115.6L855 2114.2L854.2 2112.4L853.2 2110.4L851.7 2108.1L849.8 2105.4L847.3 2102.1L844 2098.3L839.8 2093.6L833.9 2087.5L825.2 2079L809.8 2064.8L735.6 1999.5L807.8 2061.9L824.8 2076L835.2 2084.1L842.9 2089.9L849.1 2094.3L854.4 2097.8L859 2100.7L863.1 2103.2L866.9 2105.3L870.3 2107.1L873.5 2108.7L876.5 2110.1L879.3 2111.3L882 2112.4L884.5 2113.3L886.9 2114.1L889.3 2114.9L891.5 2115.5L893.7 2116.1L895.8 2116.6L897.9 2117L899.9 2117.4L901.9 2117.8L904 2118.2L905.9 2118.5L907.9 2118.8L909.9 2119.1L911.9 2119.3L913.9 2119.6L915.9 2119.8L917.9 2120L919.9 2120.2L921.9 2120.4L923.9 2120.5L925.8 2120.6L927.7 2120.7L929.5 2120.7L931.3 2120.7L933.1 2120.6L934.8 2120.5L936.5 2120.4L938.2 2120.2L939.9 2120.1L941.5 2119.9L943.2 2119.6L944.8 2119.4L946.3 2119.1L947.9 2118.8L949.4 2118.5L950.9 2118.1L952.4 2117.8L953.9 2117.4L955.2 2116.9L956.4 2116.4L957.6 2115.8L958.7 2115.2L959.8 2114.6L960.9 2113.9L962 2113.3L963 2112.6L964 2111.9L965 2111.2L966 2110.5L966.9 2109.8L968.8 2108.2L970.5 2106.7L972.3 2105.1L973.9 2103.4L975.5 2101.8L977 2100L978.5 2098.3L979.9 2096.5L981.2 2094.7L982.5 2092.8L983.8 2091L985 2089.1L986.2 2087.1L987.3 2085.2L988.4 2083.2L989.4 2081.3L990.4 2079.3L991.4 2077.2L992.3 2075.2L993.2 2073.2L994.1 2071.1L994.9 2069L995.7 2067L996.4 2064.9L997.1 2062.8L997.8 2060.7L998.5 2058.5L999.1 2056.4L999.7 2054.3L1000.3 2052.1L1000.8 2050L1001.3 2047.8L1001.8 2045.7L1002.3 2043.5L1002.7 2041.3L1003.1 2039.1L1003.5 2037L1003.9 2034.8L1004.2 2032.6L1004.5 2030.4L1004.8 2028.2L1005.1 2026L1005.3 2023.8L1005.6 2021.6L1005.8 2019.4L1005.9 2017.2L1006.1 2015L1006.2 2012.8L1006.3 2010.6L1006.4 2008.3L1006.5 2006.1L1006.6 2003.9L1006.6 2002.8" stroke="#D95319" stroke-width="4.2" stroke-dasharray="14.8,3.4,7.2,3.4"/>
<path d="M1006.6 1996.2L1006.5 1994L1006.5 1991.8L1006.4 1989.5L1006.3 1987.3L1006.2 1985.1L1006 1982.9L1005.8 1980.7L1005.7 1978.5L1005.4 1976.3L1005.2 1974.1L1004.9 1971.9L1004.7 1969.7L1004.3 1967.5L1004 1965.3L1003.6 1963.1L1003.3 1961L1002.8 1958.8L1002.4 1956.6L1001.9 1954.4L1001.4 1952.3L1000.9 1950.1L1000.3 1948L999.7 1945.9L999.1 1943.7L998.4 1941.6L997.7 1939.5L997 1937.4L996.2 1935.3L995.4 1933.3L994.5 1931.2L993.6 1929.2L992.6 1927.1L991.6 1925.1L990.6 1923.1L989.5 1921.2L988.3 1919.2L987.1 1917.3L985.9 1915.4L984.5 1913.6L983.1 1911.8L981.7 1910L980.1 1908.2L978.5 1906.5L976.9 1904.9L975.1 1903.3L974.2 1902.5L973.2 1901.7L972.2 1900.9L971.2 1900.2L970.2 1899.5L969.2 1898.8L968.1 1898.1L967 1897.4L965.8 1896.8L964.7 1896.1L963.5 1895.5L962.1 1895L960.5 1894.6L958.8 1894.3L957.1 1893.9L955.3 1893.6L953.5 1893.4L951.7 1893.1L949.9 1892.9L948.1 1892.7L946.2 1892.5L944.3 1892.4L942.5 1892.2L940.6 1892.1L938.8 1892L936.9 1891.9L935.1 1891.8L933.2 1891.7L931.3 1891.7L929.4 1891.7L927.4 1891.7L925.5 1891.7L923.6 1891.7L921.7 1891.8L919.8 1891.8L917.9 1891.9L916 1892L914.2 1892.1L912.3 1892.1L910.5 1892.2L908.7 1892.4L906.8 1892.5L904.8 1892.7L902.8 1893L900.6 1893.4L898.2 1894L895.6 1894.7L892.9 1895.5L890 1896.5L886.8 1897.7L883.3 1899.1L879.5 1900.8L875.1 1902.9L870.1 1905.6L864 1909L856.4 1913.6L845.8 1920.4L828.1 1932.5L735.6 1999.5L789.6 1959.7L806.4 1946.8L815.8 1939.3L822.2 1933.9L826.9 1929.7L830.4 1926.4L833 1923.7L835.1 1921.4L836.6 1919.6L837.6 1918L838.3 1916.8L838.5 1915.1L836.6 1914.4L834 1915.1L832.2 1915.9L830.1 1917L827.6 1918.5L824.6 1920.5L821 1923L816.7 1926.3L811.1 1930.7L803.7 1936.9L792.7 1946.5L770.7 1966.7L761.5 1975L789.1 1948.6L800.5 1937.2L807.6 1929.7L812.6 1924.2L816.3 1919.9L819.1 1916.4L821.3 1913.5L823 1911.1L824.2 1909L825.1 1907.3L825.7 1905.9L826.1 1903.9L825.4 1902.8L824 1902.7L821.6 1903.6L820.1 1904.4L818.3 1905.6L816.3 1907.1L813.9 1909.1L811 1911.6L807.7 1914.7L803.6 1918.8L798.5 1924.2L791.6 1931.9L781 1944.1L756.9 1973.3L764 1964.2L782.3 1941L791 1929.4L796.6 1921.7L800.5 1915.9L803.4 1911.4L805.7 1907.6L807.4 1904.5L808.6 1901.9L809.6 1899.7L810.3 1897.9L810.7 1896.4L810.9 1895.1L810.7 1893.4L809 1892.7L807.2 1893.4L806 1894.1L804.6 1895.1L803.1 1896.5L801.3 1898.2L799.3 1900.3L797 1902.9L794.3 1906.2L791.2 1910.4L787.3 1915.8L782.3 1923.1L775.3 1933.8L763.4 1953.1L749.3 1976.4L766.1 1947.5L774.4 1932.6L779.5 1923.1L783 1916.2L785.5 1910.8L787.4 1906.4L788.8 1902.9L789.9 1899.9L790.7 1897.3L791.2 1895.2L791.5 1893.4L791.7 1891.9L791.7 1890.7L791.3 1889.1L789.6 1888.6L787.8 1889.8L786.6 1891L785.3 1892.6L783.8 1894.6L782 1897.2L780 1900.5L777.6 1904.7L774.7 1910.2L771 1917.5L766 1928.2L757.7 1947L735.6 1999.5L754.1 1954.4L761.6 1935.3L765.7 1924.3L768.3 1916.6L770.1 1910.8L771.4 1906.2L772.3 1902.4L773 1899.4L773.3 1896.9L773.5 1895L773.6 1893.4L773.4 1892.2L772.8 1890.8L771 1891.3L769.2 1893.3L768.2 1895L767 1897.1L765.7 1899.8L764.2 1903.1L762.4 1907.4L760.4 1912.8L758 1920.1L754.7 1930.4L749.7 1947.5L735.8 1998.6L748.5 1950.4L754.2 1927.2L757 1914.7L758.6 1906.2L759.7 1899.8L760.4 1894.9L760.8 1890.9L761 1887.7L761 1885.1L760.9 1883L760.7 1881.3L760.4 1880.1L759.5 1878.7L757.7 1879.1L756.2 1881.1L755.4 1882.7L754.5 1884.7L753.5 1887.3L752.5 1890.5L751.4 1894.6L750.1 1899.6L748.7 1906.1L747.1 1915L745 1927.9L742 1949.1L741.2 1953.5L743.8 1929.4L745.1 1915L745.7 1905.4L746 1898.3L746.1 1892.9L746 1888.6L745.8 1885L745.5 1882.2L745.1 1879.9L744.7 1878.1L744.2 1876.7L743.2 1875L741.4 1875L740.2 1876.8L739.6 1878.3L738.9 1880.2L738.3 1882.6L737.7 1885.6L737.1 1889.4L736.6 1894L736.1 1899.9L735.6 1907.6L735.2 1918.4L735 1934.2L734.9 1949.9L734.3 1932.1L733.6 1915.6L732.9 1904.7L732.3 1897L731.6 1891L730.8 1886.4L730.1 1882.7L729.4 1879.7L728.8 1877.3L728.1 1875.4L727.4 1873.9L726.7 1872.8L725.5 1871.8L724.3 1872.1L723.3 1873.8L722.8 1875.1L722.4 1876.9L722.1 1879L721.8 1881.7L721.6 1885L721.6 1889L721.7 1893.9L722.1 1900.3L722.8 1908.6L724.1 1920.4L726.5 1939L728.3 1952.3L724.7 1931.4L721.9 1916.3L719.8 1906.3L718.1 1899.1L716.6 1893.5L715.3 1889.1L714.1 1885.6L713 1882.8L712 1880.5L711.1 1878.7L710.2 1877.3L709.4 1876.3L708 1875.2L706.3 1876L705.6 1878.1L705.4 1879.6L705.3 1881.5L705.3 1883.8L705.5 1886.7L705.9 1890.1L706.5 1894.3L707.5 1899.5L708.9 1906.1L711 1915L714.4 1928L720.8 1950.5L723.3 1959.3L716.3 1937.5L711.7 1923.9L708.4 1914.8L705.8 1908.2L703.6 1903.1L701.7 1899.1L700.1 1895.8L698.7 1893.2L697.4 1891.1L696.2 1889.4L695.2 1888.2L694.3 1887.2L692.7 1886.3L691.3 1887.1L690.9 1889L690.9 1890.5L691 1892.2L691.3 1894.4L691.9 1897L692.7 1900.1L693.8 1903.9L695.3 1908.5L697.4 1914.3L700.3 1921.8L704.7 1932.3L712.2 1949.2L723 1972.7L709.2 1944L700.6 1926.9L695.2 1916.6L691.2 1909.4L688 1904.1L685.4 1899.9L683.1 1896.6L681.2 1894L679.5 1891.9L678 1890.2L676.6 1888.9L675.5 1887.9L673.6 1886.9L672.3 1887L671.6 1888L671.2 1889.8L671.3 1891L671.5 1892.4L671.8 1894.1L672.4 1896L673.1 1898.3L674.1 1900.9L675.5 1904L677.2 1907.6L679.4 1911.9L682.3 1917.3L686.2 1924.1L692 1933.5L701.7 1948.8L731.6 1993.6L707.3 1957.9L693.3 1938L685.6 1927.5L680.1 1920.4L675.9 1915.1L672.5 1911.1L669.5 1907.9L667 1905.3L664.9 1903.2L662.9 1901.5L661.2 1900.1L659.7 1899.1L658.4 1898.2L657.2 1897.6L655.3 1897L653.9 1897.2L652.8 1898.6L652.8 1900.3L653.4 1902.8L653.9 1904.3L654.6 1906L655.6 1907.9L656.8 1910.1L658.3 1912.6L660.2 1915.4L662.5 1918.7L665.4 1922.6L669 1927.2L673.8 1933L680.5 1940.8L690.9 1952.3L710.3 1973L707.6 1970.4L691.2 1953.8L681.4 1944.2L674.6 1937.7L669.3 1933L665.1 1929.4L661.6 1926.5L658.5 1924.2L655.9 1922.3L653.6 1920.8L651.6 1919.6L649.9 1918.6L648.3 1917.8L646.9 1917.3L645.7 1916.9L643.8 1916.6L642.4 1916.8L641.4 1918L641.2 1919.3L641.6 1921L642.5 1923.1L643.2 1924.3L644 1925.7L645 1927.1L646.2 1928.7L647.7 1930.5L649.4 1932.4L651.3 1934.5L653.7 1936.9L656.5 1939.6L659.9 1942.6L664 1946.2L669.2 1950.5L676.1 1956L686 1963.6L703.2 1976.2L735.6 1999.5L702.8 1976.4L685.4 1964.4L675.1 1957.6L667.8 1953L662.1 1949.6L657.5 1946.9L653.7 1944.8L650.4 1943.2L647.5 1941.8L645 1940.7L642.7 1939.8L640.7 1939.1L638.9 1938.5L637.4 1938.1L635.9 1937.8L634.7 1937.6L632.6 1937.5L631 1937.7L629.8 1938.3L628.8 1939.5L628.5 1941.1L628.6 1942.9L629 1944.2L629.6 1945.7L630.5 1947.2L631.7 1948.9L633.2 1950.7L634 1951.6L635 1952.6L636 1953.6L637.2 1954.6L638.4 1955.6L639.8 1956.7L641.2 1957.9L642.9 1959L644.6 1960.3L646.6 1961.6L648.8 1962.9L651.2 1964.3L653.8 1965.8L656.8 1967.5L660.2 1969.2L664.2 1971.1L668.7 1973.3L674.2 1975.7L681.1 1978.6L690 1982.3L703 1987.3L726.9 1996.3L735.6 1999.5L707.5 1989.4L689.9 1983.3L679 1979.7L671.3 1977.3L665.3 1975.6L660.5 1974.3L656.4 1973.3L653.1 1972.5L650.1 1972L647.6 1971.6L645.5 1971.3L643.6 1971.1L641.9 1971L640.5 1971L639.3 1971.1L637.4 1971.4L636 1971.9L634.9 1972.9L635.1 1974.3L636.1 1975.4L637.7 1976.7L638.8 1977.4L640.1 1978.1L641.6 1978.8L643.3 1979.6L645.2 1980.4L647.4 1981.2L649.8 1982.1L652.5 1983L655.6 1983.9L659.1 1984.9L663 1986L667.6 1987.1L673.1 1988.4L679.6 1989.8L687.8 1991.4L698.9 1993.5L716 1996.4L735.6 1999.5L727.8 1998.4L720.2 1997.4L714.2 1996.7L709.3 1996.1L705.1 1995.7L701.4 1995.4L698.2 1995.2L695.4 1995.1L692.9 1994.9L690.7 1994.9L688.6 1994.9L686.8 1994.9L685.2 1995L683.7 1995L682.4 1995.1L680.1 1995.4L678.4 1995.8L677 1996.1L675.8 1996.8L676.9 1998.1L678.4 1998.3L675.9 1999.3L677.5 2000L679 2000.2L676.9 2000.9L675.6 2001.2L676.1 2002.4L677.6 2003.1L679.2 2003.4L681.2 2003.7L683.7 2004L685.2 2004L686.8 2004.1L688.6 2004.1L690.7 2004.1L692.9 2004.1L695.4 2003.9L698.2 2003.8L701.4 2003.6L705.1 2003.3L709.3 2002.9L714.2 2002.3L720.2 2001.6L727.8 2000.6L735.6 1999.5L716 2002.6L698.9 2005.5L687.8 2007.6L679.6 2009.2L673.1 2010.6L667.6 2011.9L663 2013L659.1 2014.1L655.6 2015.1L652.5 2016L649.8 2016.9L647.4 2017.8L645.2 2018.6L643.3 2019.4L641.6 2020.2L640.1 2020.9L638.8 2021.6L637.7 2022.3L636.1 2023.6L635.1 2024.7L634.9 2026.1L636 2027.1L637.4 2027.6L639.3 2027.9L640.5 2028L641.9 2028L643.6 2027.9L645.5 2027.7L647.6 2027.4L650.1 2027L653.1 2026.5L656.4 2025.7L660.5 2024.7L665.3 2023.4L671.3 2021.7L679 2019.3L689.9 2015.7L707.5 2009.6L735.6 1999.5L726.9 2002.7L703 2011.7L690 2016.7L681.1 2020.4L674.2 2023.3L668.7 2025.7L664.2 2027.9L660.2 2029.8L656.8 2031.5L653.8 2033.2L651.2 2034.7L648.8 2036.1L646.6 2037.4L644.6 2038.7L642.9 2040L641.2 2041.1L639.8 2042.3L638.4 2043.4L637.2 2044.4L636 2045.4L635 2046.4L634 2047.4L633.2 2048.3L631.7 2050.1L630.5 2051.8L629.6 2053.3L629 2054.8L628.6 2056.1L628.5 2057.4L628.7 2059L629.4 2060.4L631 2061.3L632.6 2061.5L634.7 2061.4L635.9 2061.2L637.4 2060.9L638.9 2060.5L640.7 2059.9L642.7 2059.2L645 2058.3L647.5 2057.2L650.4 2055.8L653.7 2054.2L657.5 2052.1L662.1 2049.4L667.8 2046L675.1 2041.4L685.4 2034.6L702.8 2022.6L735.6 1999.5L703.2 2022.8L686 2035.4L676.1 2043L669.2 2048.5L664 2052.8L659.9 2056.4L656.5 2059.4L653.7 2062.1L651.3 2064.5L649.4 2066.6L647.7 2068.5L646.2 2070.3L645 2071.9L644 2073.3L643.2 2074.7L642.5 2075.9L642 2077L641.4 2078.9L641.2 2080.4L641.9 2081.9L643.8 2082.4L645.7 2082.1L646.9 2081.7L648.3 2081.2L649.9 2080.4L651.6 2079.4L653.6 2078.2L655.9 2076.7L658.5 2074.8L661.6 2072.5L665.1 2069.6L669.3 2066L674.6 2061.3L681.4 2054.8L691.2 2045.2L707.6 2028.6L710.3 2026L690.9 2046.7L680.5 2058.2L673.8 2066L669 2071.8L665.4 2076.4L662.5 2080.3L660.2 2083.6L658.3 2086.4L656.8 2088.9L655.6 2091.1L654.6 2093L653.9 2094.7L653.4 2096.2L653 2097.5L652.7 2099.6L653 2101.1L654.5 2102L656.2 2101.8L658.4 2100.8L659.7 2099.9L661.2 2098.9L662.9 2097.5L664.9 2095.8L667 2093.7L669.5 2091.1L672.5 2087.9L675.9 2083.9L680.1 2078.6L685.6 2071.5L693.3 2061L707.3 2041.1L731.6 2005.4L701.7 2050.2L692 2065.5L686.2 2074.9L682.3 2081.7L679.4 2087.1L677.2 2091.4L675.5 2095L674.1 2098.1L673.1 2100.7L672.4 2103L671.8 2104.9L671.5 2106.6L671.3 2108L671.2 2109.2L671.6 2111L672.3 2112L673.6 2112.1L675.5 2111.1L676.6 2110.1L678 2108.8L679.5 2107.1L681.2 2105L683.1 2102.4L685.4 2099.1L688 2094.9L691.2 2089.6L695.2 2082.4L700.6 2072.1L709.2 2055L723 2026.3L712.2 2049.8L704.7 2066.7L700.3 2077.2L697.4 2084.7L695.3 2090.5L693.8 2095.1L692.7 2098.9L691.9 2102L691.3 2104.6L691 2106.8L690.9 2108.5L690.9 2110L691.3 2111.9L692.7 2112.7L694.3 2111.8L695.2 2110.8L696.2 2109.6L697.4 2107.9L698.7 2105.8L700.1 2103.2L701.7 2099.9L703.6 2095.9L705.8 2090.8L708.4 2084.2L711.7 2075.1L716.3 2061.5L723.3 2039.7L720.8 2048.5L714.4 2071L711 2084L708.9 2092.9L707.5 2099.5L706.5 2104.7L705.9 2108.9L705.5 2112.3L705.3 2115.2L705.3 2117.5L705.4 2119.4L705.6 2120.9L705.9 2122.1L706.8 2123.6L708.6 2123.4L710.2 2121.7L711.1 2120.3L712 2118.5L713 2116.2L714.1 2113.4L715.3 2109.9L716.6 2105.5L718.1 2099.9L719.8 2092.7L721.9 2082.7L724.7 2067.6L728.3 2046.7L726.5 2060L724.1 2078.6L722.8 2090.4L722.1 2098.7L721.7 2105.1L721.6 2110L721.6 2114L721.8 2117.3L722.1 2120L722.4 2122.1L722.8 2123.9L723.3 2125.2L724.3 2126.9L725.5 2127.2L726.7 2126.2L727.4 2125.1L728.1 2123.6L728.8 2121.7L729.4 2119.3L730.1 2116.3L730.8 2112.6L731.6 2108L732.3 2102L732.9 2094.3L733.6 2083.4L734.3 2066.9L734.9 2049.1L735 2064.8L735.2 2080.6L735.6 2091.4L736.1 2099.1L736.6 2105L737.1 2109.6L737.7 2113.4L738.3 2116.4L738.9 2118.8L739.6 2120.7L740.2 2122.2L740.8 2123.3L742 2124.3L743.7 2123.4L744.7 2120.9L745.1 2119.1L745.5 2116.8L745.8 2114L746 2110.4L746.1 2106.1L746 2100.7L745.7 2093.6L745.1 2084L743.8 2069.6L741.2 2045.5L742 2049.9L745 2071.1L747.1 2084L748.7 2092.9L750.1 2099.4L751.4 2104.4L752.5 2108.5L753.5 2111.7L754.5 2114.3L755.4 2116.3L756.2 2117.9L757 2119.1L758.4 2120.4L760 2119.8L760.7 2117.7L760.9 2116L761 2113.9L761 2111.3L760.8 2108.1L760.4 2104.1L759.7 2099.2L758.6 2092.8L757 2084.3L754.2 2071.8L748.5 2048.6L735.8 2000.4L749.7 2051.5L754.7 2068.6L758 2078.9L760.4 2086.2L762.4 2091.6L764.2 2095.9L765.7 2099.2L767 2101.9L768.2 2104L769.2 2105.7L770.2 2106.9L771.7 2108.2L773.2 2107.7L773.6 2105.6L773.5 2104L773.3 2102.1L773 2099.6L772.3 2096.6L771.4 2092.8L770.1 2088.2L768.3 2082.4L765.7 2074.7L761.6 2063.7L754.1 2044.6L735.6 1999.5L757.7 2052L766 2070.8L771 2081.5L774.7 2088.8L777.6 2094.3L780 2098.5L782 2101.8L783.8 2104.4L785.3 2106.4L786.6 2108L787.8 2109.2L788.8 2110L790.3 2110.5L791.5 2109.2L791.7 2107.1L791.5 2105.6L791.2 2103.8L790.7 2101.7L789.9 2099.1L788.8 2096.1L787.4 2092.6L785.5 2088.2L783 2082.8L779.5 2075.9L774.4 2066.4L766.1 2051.5L749.3 2022.6L763.4 2045.9L775.3 2065.2L782.3 2075.9L787.3 2083.2L791.2 2088.6L794.3 2092.8L797 2096.1L799.3 2098.7L801.3 2100.8L803.1 2102.5L804.6 2103.9L806 2104.9L807.2 2105.6L809 2106.3L810.3 2106.1L810.9 2104.9L810.7 2102.6L810.3 2101.1L809.6 2099.3L808.6 2097.1L807.4 2094.5L805.7 2091.4L803.4 2087.6L800.5 2083.1L796.6 2077.3L791 2069.6L782.3 2058L764 2034.8L756.9 2025.7L781 2054.9L791.6 2067.1L798.5 2074.8L803.6 2080.2L807.7 2084.3L811 2087.4L813.9 2089.9L816.3 2091.9L818.3 2093.4L820.1 2094.6L821.6 2095.4L822.9 2096L824.8 2096.3L826.1 2095.1L825.7 2093.1L825.1 2091.7L824.2 2090L823 2087.9L821.3 2085.5L819.1 2082.6L816.3 2079.1L812.6 2074.8L807.6 2069.3L800.5 2061.8L789.1 2050.4L761.5 2024L770.7 2032.3L792.7 2052.5L803.7 2062.1L811.1 2068.3L816.7 2072.7L821 2076L824.6 2078.5L827.6 2080.5L830.1 2082L832.2 2083.1L834 2083.9L835.5 2084.4L837.5 2084.6L838.6 2083.2L837.6 2081L836.6 2079.4L835.1 2077.6L833 2075.3L830.4 2072.6L826.9 2069.3L822.2 2065.1L815.8 2059.7L806.4 2052.2L789.6 2039.3L735.6 1999.5L828.1 2066.5L845.8 2078.6L856.4 2085.4L864 2090L870.1 2093.4L875.1 2096.1L879.5 2098.2L883.3 2099.9L886.8 2101.3L890 2102.5L892.9 2103.5L895.6 2104.3L898.2 2105L900.6 2105.6L902.8 2106L904.8 2106.3L906.8 2106.5L908.7 2106.6L910.5 2106.8L912.3 2106.9L914.2 2106.9L916 2107L917.9 2107.1L919.8 2107.2L921.7 2107.2L923.6 2107.3L925.5 2107.3L927.4 2107.3L929.4 2107.3L931.3 2107.3L933.2 2107.3L935.1 2107.2L936.9 2107.1L938.8 2107L940.6 2106.9L942.5 2106.8L944.3 2106.6L946.2 2106.5L948.1 2106.3L949.9 2106.1L951.7 2105.9L953.5 2105.6L955.3 2105.4L957.1 2105.1L958.8 2104.7L960.5 2104.4L962.1 2104L963.5 2103.5L964.7 2102.9L965.8 2102.2L967 2101.6L968.1 2100.9L969.2 2100.2L970.2 2099.5L971.2 2098.8L972.2 2098.1L973.2 2097.3L974.2 2096.5L975.1 2095.7L976 2094.9L977.7 2093.3L979.4 2091.6L980.9 2089.9L982.4 2088.1L983.8 2086.3L985.2 2084.5L986.5 2082.6L987.7 2080.7L988.9 2078.8L990 2076.8L991.1 2074.9L992.1 2072.9L993.1 2070.9L994.1 2068.8L994.9 2066.8L995.8 2064.7L996.6 2062.6L997.4 2060.5L998.1 2058.4L998.8 2056.3L999.4 2054.2L1000 2052.1L1000.6 2049.9L1001.2 2047.8L1001.7 2045.6L1002.2 2043.5L1002.6 2041.3L1003.1 2039.1L1003.5 2036.9L1003.8 2034.8L1004.2 2032.6L1004.5 2030.4L1004.8 2028.2L1005.1 2026L1005.3 2023.8L1005.5 2021.6L1005.8 2019.4L1005.9 2017.2L1006.1 2015L1006.2 2012.8L1006.3 2010.6L1006.4 2008.3L1006.5 2006.1L1006.6 2003.9L1006.6 2002.8" stroke="#FF0000" stroke-width="7.7"/>
<path d="M795.6 1999.5H837.6" stroke="#D95319" stroke-width="3.2" stroke-dasharray="7,2.5,3,2.5"/>
<path d="M735.6 1999.5H806.6" stroke="#FF0000" stroke-width="8" stroke-linecap="round"/>
</g>
<rect x="246.4" y="1667.5" width="969.9" height="37.5" fill="#fff" stroke="#000" stroke-width="1.5"/>
<path d="M254.6 1686.2H310.4" stroke="#0072BD" stroke-width="4.4" fill="none" stroke-dasharray="17.5,17"/>
<text transform="translate(317.6 1694.2) scale(1.07 1)" font-family='"Liberation Sans", Arial, Helvetica, sans-serif' font-size="22.0">Uniform</text>
<path d="M410 1686.2H465" stroke="#FF00FF" stroke-width="4.4" fill="none" stroke-dasharray="18.5,4.3,9,4.3"/>
<text transform="translate(473.3 1694.2) scale(1.07 1)" font-family='"Liberation Sans", Arial, Helvetica, sans-serif' font-size="22.0">SSA</text>
<path d="M531.4 1686.2H589" stroke="#0000FF" stroke-width="5.6" fill="none"/>
<text transform="translate(595.2 1694.2) scale(1.07 1)" font-family='"Liberation Sans", Arial, Helvetica, sans-serif' font-size="22.0">CS</text>
<path d="M637.9 1686.2H694.3" stroke="#00FF00" stroke-width="4.4" fill="none" stroke-dasharray="17.5,17"/>
<text transform="translate(703.6 1694.2) scale(1.07 1)" font-family='"Liberation Sans", Arial, Helvetica, sans-serif' font-size="22.0">AHOA</text>
<path d="M778.4 1686.2H836.3" stroke="#FFCC00" stroke-width="4.4" fill="none" stroke-dasharray="4.4,4.3"/>
<text transform="translate(842.3 1694.2) scale(1.07 1)" font-family='"Liberation Sans", Arial, Helvetica, sans-serif' font-size="22.0">ChOA</text>
<path d="M916.2 1686.2H971.7" stroke="#D95319" stroke-width="4.4" fill="none" stroke-dasharray="18.5,4.3,9,4.3"/>
<text transform="translate(979.4 1694.2) scale(1.07 1)" font-family='"Liberation Sans", Arial, Helvetica, sans-serif' font-size="22.0">NMRA</text>
<path d="M1058.2 1686.2H1116" stroke="#FF0000" stroke-width="7.7" fill="none"/>
<text transform="translate(1123.8 1694.2) scale(1.07 1)" font-family='"Liberation Sans", Arial, Helvetica, sans-serif' font-size="22.0">ANMRA</text>
<text x="720.6" y="2346.5" text-anchor="middle" font-family='"Liberation Serif", "Times New Roman", serif' font-size="43">(c)</text>
</g>
</svg></body></html>
